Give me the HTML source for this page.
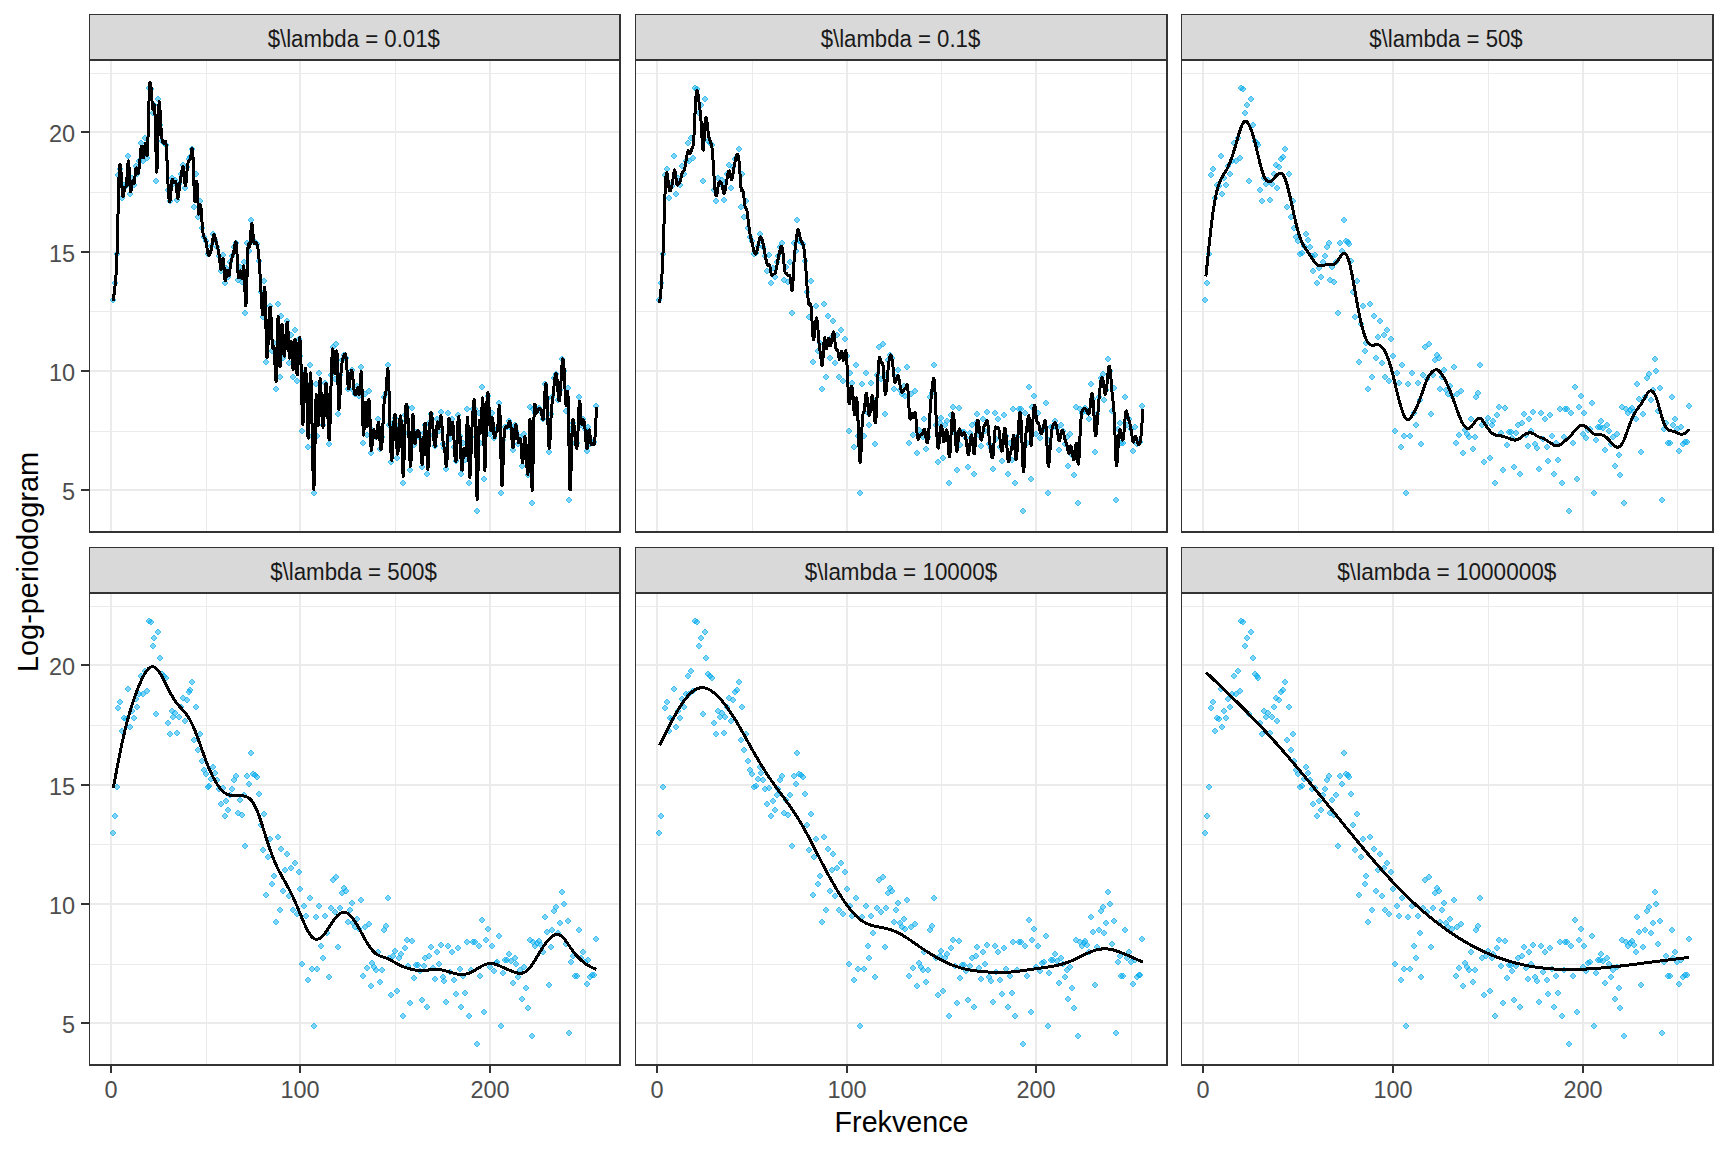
<!DOCTYPE html><html><head><meta charset="utf-8"><style>html,body{margin:0;padding:0;background:#fff;overflow:hidden}svg{display:block}text{font-family:"Liberation Sans",sans-serif}</style></head><body>
<svg width="1728" height="1152" viewBox="0 0 1728 1152" shape-rendering="crispEdges">
<defs>
<g id="d"><path d="M-1 -3H1V-2H2V-1H3V1H2V2H1V3H-1V2H-2V1H-3V-1H-2V-2H-1Z" fill="#00AAEE" fill-opacity="0.5"/><path d="M-1 -3H1V-2H2V-1H3V1H2V2H1V3H-1V2H-2V1H-3V-1H-2V-2H-1ZM-1 -2H1V-1H2V1H1V2H-1V1H-2V-1H-1Z" fill-rule="evenodd" fill="#00AAEE" fill-opacity="0.5"/></g>
<clipPath id="cp0"><rect x="90" y="61" width="529" height="470"/></clipPath>
<clipPath id="cp1"><rect x="636" y="61" width="530" height="470"/></clipPath>
<clipPath id="cp2"><rect x="1182" y="61" width="530" height="470"/></clipPath>
<clipPath id="cp3"><rect x="90" y="594" width="529" height="470"/></clipPath>
<clipPath id="cp4"><rect x="636" y="594" width="530" height="470"/></clipPath>
<clipPath id="cp5"><rect x="1182" y="594" width="530" height="470"/></clipPath>
</defs>
<rect x="0" y="0" width="1728" height="1152" fill="#fff"/>
<rect x="90" y="431" width="529" height="1" fill="#EBEBEB"/>
<rect x="90" y="311" width="529" height="1" fill="#EBEBEB"/>
<rect x="90" y="192" width="529" height="1" fill="#EBEBEB"/>
<rect x="90" y="73" width="529" height="1" fill="#EBEBEB"/>
<rect x="206" y="61" width="1" height="470" fill="#EBEBEB"/>
<rect x="395" y="61" width="1" height="470" fill="#EBEBEB"/>
<rect x="585" y="61" width="1" height="470" fill="#EBEBEB"/>
<rect x="90" y="489" width="529" height="2" fill="#EBEBEB"/>
<rect x="90" y="370" width="529" height="2" fill="#EBEBEB"/>
<rect x="90" y="251" width="529" height="2" fill="#EBEBEB"/>
<rect x="90" y="131" width="529" height="2" fill="#EBEBEB"/>
<rect x="110" y="61" width="2" height="470" fill="#EBEBEB"/>
<rect x="299" y="61" width="2" height="470" fill="#EBEBEB"/>
<rect x="489" y="61" width="2" height="470" fill="#EBEBEB"/>
<g clip-path="url(#cp0)">
<use href="#d" x="113" y="300"/>
<use href="#d" x="115" y="283"/>
<use href="#d" x="117" y="254"/>
<use href="#d" x="118" y="175"/>
<use href="#d" x="120" y="169"/>
<use href="#d" x="122" y="198"/>
<use href="#d" x="124" y="185"/>
<use href="#d" x="126" y="186"/>
<use href="#d" x="128" y="156"/>
<use href="#d" x="130" y="194"/>
<use href="#d" x="132" y="178"/>
<use href="#d" x="134" y="185"/>
<use href="#d" x="136" y="166"/>
<use href="#d" x="137" y="174"/>
<use href="#d" x="139" y="161"/>
<use href="#d" x="141" y="143"/>
<use href="#d" x="143" y="161"/>
<use href="#d" x="145" y="138"/>
<use href="#d" x="147" y="158"/>
<use href="#d" x="149" y="88"/>
<use href="#d" x="151" y="89"/>
<use href="#d" x="153" y="113"/>
<use href="#d" x="154" y="105"/>
<use href="#d" x="156" y="181"/>
<use href="#d" x="158" y="99"/>
<use href="#d" x="160" y="125"/>
<use href="#d" x="162" y="141"/>
<use href="#d" x="164" y="143"/>
<use href="#d" x="166" y="145"/>
<use href="#d" x="168" y="190"/>
<use href="#d" x="170" y="201"/>
<use href="#d" x="172" y="178"/>
<use href="#d" x="173" y="184"/>
<use href="#d" x="175" y="180"/>
<use href="#d" x="177" y="200"/>
<use href="#d" x="179" y="184"/>
<use href="#d" x="181" y="174"/>
<use href="#d" x="183" y="165"/>
<use href="#d" x="185" y="188"/>
<use href="#d" x="187" y="167"/>
<use href="#d" x="189" y="159"/>
<use href="#d" x="190" y="157"/>
<use href="#d" x="192" y="149"/>
<use href="#d" x="194" y="207"/>
<use href="#d" x="196" y="174"/>
<use href="#d" x="198" y="217"/>
<use href="#d" x="200" y="201"/>
<use href="#d" x="202" y="228"/>
<use href="#d" x="204" y="237"/>
<use href="#d" x="206" y="241"/>
<use href="#d" x="208" y="254"/>
<use href="#d" x="209" y="253"/>
<use href="#d" x="211" y="246"/>
<use href="#d" x="213" y="234"/>
<use href="#d" x="215" y="240"/>
<use href="#d" x="217" y="247"/>
<use href="#d" x="219" y="256"/>
<use href="#d" x="221" y="271"/>
<use href="#d" x="223" y="255"/>
<use href="#d" x="225" y="283"/>
<use href="#d" x="226" y="268"/>
<use href="#d" x="228" y="277"/>
<use href="#d" x="230" y="262"/>
<use href="#d" x="232" y="256"/>
<use href="#d" x="234" y="247"/>
<use href="#d" x="236" y="243"/>
<use href="#d" x="238" y="280"/>
<use href="#d" x="240" y="267"/>
<use href="#d" x="242" y="282"/>
<use href="#d" x="244" y="262"/>
<use href="#d" x="245" y="313"/>
<use href="#d" x="247" y="243"/>
<use href="#d" x="249" y="251"/>
<use href="#d" x="251" y="220"/>
<use href="#d" x="253" y="241"/>
<use href="#d" x="255" y="242"/>
<use href="#d" x="257" y="244"/>
<use href="#d" x="259" y="261"/>
<use href="#d" x="261" y="292"/>
<use href="#d" x="263" y="317"/>
<use href="#d" x="264" y="281"/>
<use href="#d" x="266" y="362"/>
<use href="#d" x="268" y="324"/>
<use href="#d" x="270" y="306"/>
<use href="#d" x="272" y="351"/>
<use href="#d" x="274" y="343"/>
<use href="#d" x="276" y="389"/>
<use href="#d" x="278" y="304"/>
<use href="#d" x="280" y="377"/>
<use href="#d" x="281" y="316"/>
<use href="#d" x="283" y="358"/>
<use href="#d" x="285" y="337"/>
<use href="#d" x="287" y="321"/>
<use href="#d" x="289" y="363"/>
<use href="#d" x="291" y="335"/>
<use href="#d" x="293" y="377"/>
<use href="#d" x="295" y="330"/>
<use href="#d" x="297" y="381"/>
<use href="#d" x="299" y="339"/>
<use href="#d" x="300" y="356"/>
<use href="#d" x="302" y="431"/>
<use href="#d" x="304" y="373"/>
<use href="#d" x="306" y="383"/>
<use href="#d" x="308" y="447"/>
<use href="#d" x="310" y="365"/>
<use href="#d" x="312" y="436"/>
<use href="#d" x="314" y="493"/>
<use href="#d" x="316" y="384"/>
<use href="#d" x="317" y="436"/>
<use href="#d" x="319" y="373"/>
<use href="#d" x="321" y="413"/>
<use href="#d" x="323" y="425"/>
<use href="#d" x="325" y="383"/>
<use href="#d" x="327" y="400"/>
<use href="#d" x="329" y="444"/>
<use href="#d" x="331" y="375"/>
<use href="#d" x="333" y="347"/>
<use href="#d" x="335" y="379"/>
<use href="#d" x="336" y="344"/>
<use href="#d" x="338" y="414"/>
<use href="#d" x="340" y="375"/>
<use href="#d" x="342" y="360"/>
<use href="#d" x="344" y="355"/>
<use href="#d" x="346" y="358"/>
<use href="#d" x="348" y="389"/>
<use href="#d" x="350" y="377"/>
<use href="#d" x="352" y="370"/>
<use href="#d" x="353" y="390"/>
<use href="#d" x="355" y="394"/>
<use href="#d" x="357" y="386"/>
<use href="#d" x="359" y="396"/>
<use href="#d" x="361" y="367"/>
<use href="#d" x="363" y="443"/>
<use href="#d" x="365" y="394"/>
<use href="#d" x="367" y="435"/>
<use href="#d" x="369" y="391"/>
<use href="#d" x="371" y="453"/>
<use href="#d" x="372" y="430"/>
<use href="#d" x="374" y="434"/>
<use href="#d" x="376" y="437"/>
<use href="#d" x="378" y="419"/>
<use href="#d" x="380" y="449"/>
<use href="#d" x="382" y="437"/>
<use href="#d" x="384" y="397"/>
<use href="#d" x="386" y="393"/>
<use href="#d" x="388" y="365"/>
<use href="#d" x="389" y="425"/>
<use href="#d" x="391" y="462"/>
<use href="#d" x="393" y="423"/>
<use href="#d" x="395" y="418"/>
<use href="#d" x="397" y="458"/>
<use href="#d" x="399" y="425"/>
<use href="#d" x="401" y="421"/>
<use href="#d" x="403" y="483"/>
<use href="#d" x="405" y="415"/>
<use href="#d" x="407" y="407"/>
<use href="#d" x="408" y="433"/>
<use href="#d" x="410" y="470"/>
<use href="#d" x="412" y="408"/>
<use href="#d" x="414" y="445"/>
<use href="#d" x="416" y="432"/>
<use href="#d" x="418" y="432"/>
<use href="#d" x="420" y="438"/>
<use href="#d" x="422" y="467"/>
<use href="#d" x="424" y="433"/>
<use href="#d" x="425" y="425"/>
<use href="#d" x="427" y="474"/>
<use href="#d" x="429" y="423"/>
<use href="#d" x="431" y="414"/>
<use href="#d" x="433" y="435"/>
<use href="#d" x="435" y="446"/>
<use href="#d" x="437" y="419"/>
<use href="#d" x="439" y="431"/>
<use href="#d" x="441" y="412"/>
<use href="#d" x="443" y="444"/>
<use href="#d" x="444" y="448"/>
<use href="#d" x="446" y="469"/>
<use href="#d" x="448" y="413"/>
<use href="#d" x="450" y="439"/>
<use href="#d" x="452" y="419"/>
<use href="#d" x="454" y="447"/>
<use href="#d" x="456" y="461"/>
<use href="#d" x="458" y="415"/>
<use href="#d" x="460" y="436"/>
<use href="#d" x="461" y="474"/>
<use href="#d" x="463" y="443"/>
<use href="#d" x="465" y="460"/>
<use href="#d" x="467" y="409"/>
<use href="#d" x="469" y="483"/>
<use href="#d" x="471" y="437"/>
<use href="#d" x="473" y="409"/>
<use href="#d" x="475" y="409"/>
<use href="#d" x="477" y="511"/>
<use href="#d" x="479" y="413"/>
<use href="#d" x="480" y="443"/>
<use href="#d" x="482" y="387"/>
<use href="#d" x="484" y="479"/>
<use href="#d" x="486" y="407"/>
<use href="#d" x="488" y="396"/>
<use href="#d" x="490" y="434"/>
<use href="#d" x="492" y="413"/>
<use href="#d" x="494" y="438"/>
<use href="#d" x="496" y="430"/>
<use href="#d" x="497" y="429"/>
<use href="#d" x="499" y="403"/>
<use href="#d" x="501" y="493"/>
<use href="#d" x="503" y="440"/>
<use href="#d" x="505" y="427"/>
<use href="#d" x="507" y="427"/>
<use href="#d" x="509" y="421"/>
<use href="#d" x="511" y="428"/>
<use href="#d" x="513" y="450"/>
<use href="#d" x="515" y="425"/>
<use href="#d" x="516" y="431"/>
<use href="#d" x="518" y="444"/>
<use href="#d" x="520" y="437"/>
<use href="#d" x="522" y="466"/>
<use href="#d" x="524" y="434"/>
<use href="#d" x="526" y="455"/>
<use href="#d" x="528" y="475"/>
<use href="#d" x="530" y="407"/>
<use href="#d" x="532" y="503"/>
<use href="#d" x="533" y="409"/>
<use href="#d" x="535" y="413"/>
<use href="#d" x="537" y="410"/>
<use href="#d" x="539" y="408"/>
<use href="#d" x="541" y="412"/>
<use href="#d" x="543" y="419"/>
<use href="#d" x="545" y="384"/>
<use href="#d" x="547" y="399"/>
<use href="#d" x="549" y="452"/>
<use href="#d" x="551" y="414"/>
<use href="#d" x="552" y="397"/>
<use href="#d" x="554" y="378"/>
<use href="#d" x="556" y="374"/>
<use href="#d" x="558" y="400"/>
<use href="#d" x="560" y="390"/>
<use href="#d" x="562" y="359"/>
<use href="#d" x="564" y="371"/>
<use href="#d" x="566" y="411"/>
<use href="#d" x="568" y="388"/>
<use href="#d" x="569" y="500"/>
<use href="#d" x="571" y="429"/>
<use href="#d" x="573" y="423"/>
<use href="#d" x="575" y="443"/>
<use href="#d" x="577" y="443"/>
<use href="#d" x="579" y="397"/>
<use href="#d" x="581" y="425"/>
<use href="#d" x="583" y="419"/>
<use href="#d" x="585" y="429"/>
<use href="#d" x="587" y="451"/>
<use href="#d" x="588" y="427"/>
<use href="#d" x="590" y="444"/>
<use href="#d" x="592" y="442"/>
<use href="#d" x="594" y="442"/>
<use href="#d" x="596" y="406"/>
<path d="M113.30 300.60L113.78 296.55L114.26 292.46L114.74 288.28L115.23 283.97L115.71 279.20L116.19 272.73L116.68 263.16L117.16 249.07L117.64 230.24L118.13 209.48L118.61 190.04L119.09 175.18L119.58 166.82L120.06 164.20L120.54 166.22L121.03 171.80L121.51 179.54L121.99 187.54L122.48 193.86L122.96 196.60L123.44 195.44L123.93 192.17L124.41 188.72L124.89 186.96L125.38 187.02L125.86 187.12L126.34 185.42L126.83 180.19L127.31 172.27L127.79 164.75L128.27 160.80L128.76 163.28L129.24 171.27L129.72 181.12L130.21 189.10L130.69 191.86L131.17 189.83L131.66 185.60L132.14 181.77L132.62 180.64L133.11 181.69L133.59 183.16L134.07 183.27L134.56 180.59L135.04 176.02L135.52 171.29L136.01 168.13L136.49 167.84L136.97 169.58L137.46 171.90L137.94 173.33L138.42 172.73L138.91 170.20L139.39 166.09L139.87 160.81L140.36 154.92L140.84 149.63L141.32 146.24L141.81 146.06L142.29 149.39L142.77 154.11L143.25 157.74L143.74 157.84L144.22 153.69L144.70 147.92L145.19 143.55L145.67 143.53L146.15 148.14L146.64 153.43L147.12 155.13L147.60 149.04L148.09 134.75L148.57 116.62L149.05 99.30L149.54 87.34L150.02 82.30L150.50 82.72L150.99 86.97L151.47 93.45L151.95 100.53L152.44 106.53L152.92 109.80L153.40 108.93L153.89 105.83L154.37 104.64L154.85 109.54L155.34 123.97L155.82 144.27L156.30 162.88L156.79 172.19L157.27 165.97L157.75 147.85L158.23 125.90L158.72 108.18L159.20 101.36L159.68 104.18L160.17 112.54L160.65 122.36L161.13 130.22L161.62 135.74L162.10 139.39L162.58 141.65L163.07 142.91L163.55 143.35L164.03 143.11L164.52 142.31L165.00 141.34L165.48 141.31L165.97 143.48L166.45 149.07L166.93 158.43L167.42 169.89L167.90 181.48L168.38 191.26L168.87 197.92L169.35 201.38L169.83 201.67L170.32 198.82L170.80 193.52L171.28 187.38L171.77 182.10L172.25 179.31L172.73 179.33L173.21 180.85L173.70 182.47L174.18 182.85L174.66 181.95L175.15 181.03L175.63 181.38L176.11 184.19L176.60 189.02L177.08 194.13L177.56 197.72L178.05 198.18L178.53 195.64L179.01 191.38L179.50 186.68L179.98 182.73L180.46 179.61L180.95 176.86L181.43 174.02L181.91 170.75L182.40 167.76L182.88 166.18L183.36 167.15L183.85 171.38L184.33 177.40L184.81 182.98L185.30 185.92L185.78 184.61L186.26 180.10L186.75 174.15L187.23 168.48L187.71 164.44L188.19 161.92L188.68 160.54L189.16 159.90L189.64 159.57L190.13 158.99L190.61 157.59L191.09 154.80L191.58 150.95L192.06 148.32L192.54 149.43L193.03 156.77L193.51 170.29L193.99 185.52L194.48 197.56L194.96 201.60L195.44 196.91L195.93 188.43L196.41 181.56L196.89 181.51L197.38 189.09L197.86 200.03L198.34 209.81L198.83 214.09L199.31 212.48L199.79 208.26L200.28 204.84L200.76 205.41L201.24 210.23L201.73 217.31L202.21 224.65L202.69 230.34L203.17 233.99L203.66 236.14L204.14 237.35L204.62 238.13L205.11 238.90L205.59 240.01L206.07 241.83L206.56 244.59L207.04 247.92L207.52 251.17L208.01 253.72L208.49 255.06L208.97 255.29L209.46 254.73L209.94 253.70L210.42 252.43L210.91 250.85L211.39 248.78L211.87 246.07L212.36 242.72L212.84 239.29L213.32 236.46L213.81 234.90L214.29 234.96L214.77 236.23L215.26 238.20L215.74 240.33L216.22 242.27L216.71 244.08L217.19 245.84L217.67 247.63L218.15 249.62L218.64 252.03L219.12 255.12L219.60 259.13L220.09 263.67L220.57 267.55L221.05 269.50L221.54 268.33L222.02 264.53L222.50 260.38L222.99 258.25L223.47 260.37L223.95 266.37L224.44 273.58L224.92 279.24L225.40 280.81L225.89 278.51L226.37 274.56L226.85 271.21L227.34 270.49L227.82 272.10L228.30 274.41L228.79 275.77L229.27 274.73L229.75 271.60L230.24 267.50L230.72 263.52L231.20 260.63L231.69 258.72L232.17 257.32L232.65 255.96L233.13 254.23L233.62 252.08L234.10 249.56L234.58 246.71L235.07 243.81L235.55 241.93L236.03 242.34L236.52 246.31L237.00 254.24L237.48 263.90L237.97 272.59L238.45 277.63L238.93 277.72L239.42 274.92L239.90 271.78L240.38 270.85L240.87 273.09L241.35 276.50L241.83 278.71L242.32 277.41L242.80 272.53L243.28 267.49L243.77 266.02L244.25 271.71L244.73 284.06L245.22 297.40L245.70 305.69L246.18 303.16L246.67 289.83L247.15 271.66L247.63 254.87L248.11 245.38L248.60 243.66L249.08 245.68L249.56 247.26L250.05 244.55L250.53 237.79L251.01 230.05L251.50 224.42L251.98 223.66L252.46 227.31L252.95 233.13L253.43 238.85L253.91 242.49L254.40 243.94L254.88 243.98L255.36 243.39L255.85 242.87L256.33 242.77L256.81 243.33L257.30 244.79L257.78 247.34L258.26 251.02L258.75 255.82L259.23 261.76L259.71 268.78L260.20 276.73L260.68 285.44L261.16 294.72L261.65 303.95L262.13 311.25L262.61 314.52L263.09 311.67L263.58 302.77L264.06 292.74L264.54 287.19L265.03 291.66L265.51 307.51L265.99 328.50L266.48 347.55L266.96 357.69L267.44 356.26L267.93 346.94L268.41 333.95L268.89 321.43L269.38 312.10L269.86 306.99L270.34 306.98L270.83 312.90L271.31 323.43L271.79 335.16L272.28 344.61L272.76 348.55L273.24 347.75L273.73 346.14L274.21 347.74L274.69 356.07L275.18 368.68L275.66 379.30L276.14 381.56L276.63 370.19L277.11 349.40L277.59 328.33L278.07 316.18L278.56 320.38L279.04 336.50L279.52 355.07L280.01 366.62L280.49 363.80L280.97 350.63L281.46 334.97L281.94 324.64L282.42 325.41L282.91 334.22L283.39 345.64L283.87 354.27L284.36 356.19L284.84 352.49L285.32 345.35L285.81 336.90L286.29 329.17L286.77 323.76L287.26 322.22L287.74 326.11L288.22 335.34L288.71 346.39L289.19 355.29L289.67 358.11L290.16 353.89L290.64 346.84L291.12 341.69L291.61 343.05L292.09 351.56L292.57 362.24L293.05 369.71L293.54 368.78L294.02 359.39L294.50 347.38L294.99 338.90L295.47 339.79L295.95 349.78L296.44 362.95L296.92 373.15L297.40 374.65L297.89 367.48L298.37 356.03L298.85 344.82L299.34 338.09L299.82 337.59L300.30 343.47L300.79 355.89L301.27 374.58L301.75 395.82L302.24 414.19L302.72 424.27L303.20 421.73L303.69 409.40L304.17 392.93L304.65 378.01L305.14 369.50L305.62 368.37L306.10 374.30L306.59 386.99L307.07 405.19L307.55 423.81L308.03 436.79L308.52 438.09L309.00 424.76L309.48 403.62L309.97 383.42L310.45 372.90L310.93 377.38L311.42 393.56L311.90 416.81L312.38 442.48L312.87 466.02L313.35 483.07L313.83 489.28L314.32 480.37L314.80 457.11L315.28 428.51L315.77 404.35L316.25 394.22L316.73 399.94L317.22 413.10L317.70 424.56L318.18 425.46L318.67 414.45L319.15 398.28L319.63 384.10L320.12 378.75L320.60 383.37L321.08 394.06L321.56 406.78L322.05 417.62L322.53 424.62L323.01 427.29L323.50 425.12L323.98 417.84L324.46 407.14L324.95 395.89L325.43 386.98L325.91 383.00L326.40 384.38L326.88 390.51L327.36 400.78L327.85 414.24L328.33 427.82L328.81 437.68L329.30 439.95L329.78 431.90L330.26 416.10L330.75 396.70L331.23 377.85L331.71 363.05L332.20 353.28L332.68 348.97L333.16 350.52L333.65 357.38L334.13 366.12L334.61 372.77L335.10 373.38L335.58 366.58L336.06 357.20L336.54 350.95L337.03 353.53L337.51 366.71L337.99 384.77L338.48 401.14L338.96 409.33L339.44 406.85L339.93 397.44L340.41 385.38L340.89 374.88L341.38 367.93L341.86 363.68L342.34 361.14L342.83 359.32L343.31 357.70L343.79 356.29L344.28 355.09L344.76 354.14L345.24 353.87L345.73 355.03L346.21 358.38L346.69 364.57L347.18 372.67L347.66 380.72L348.14 386.72L348.63 388.89L349.11 387.46L349.59 383.79L350.08 379.21L350.56 375.01L351.04 371.92L351.52 370.46L352.01 371.11L352.49 374.20L352.97 378.99L353.46 384.36L353.94 389.19L354.42 392.56L354.91 394.35L355.39 394.68L355.87 393.68L356.36 391.63L356.84 389.41L357.32 388.01L357.81 388.44L358.29 390.96L358.77 393.70L359.26 394.45L359.74 390.99L360.22 383.08L360.71 374.96L361.19 371.44L361.67 377.34L362.16 393.44L362.64 413.27L363.12 429.60L363.61 435.29L364.09 428.71L364.57 416.33L365.06 405.27L365.54 402.48L366.02 409.09L366.50 419.35L366.99 427.07L367.47 426.33L367.95 417.32L368.44 406.14L368.92 399.14L369.40 402.23L369.89 414.78L370.37 430.90L370.85 444.60L371.34 450.33L371.82 448.14L372.30 441.70L372.79 434.71L373.27 430.56L373.75 429.70L374.24 431.05L374.72 433.50L375.20 436.01L375.69 437.76L376.17 438.09L376.65 436.28L377.14 432.00L377.62 426.79L378.10 422.82L378.59 422.25L379.07 426.51L379.55 433.89L380.04 441.87L380.52 447.90L381.00 450.06L381.48 448.38L381.97 443.35L382.45 435.42L382.93 425.37L383.42 414.82L383.90 405.48L384.38 399.09L384.87 396.21L385.35 394.94L385.83 393.06L386.32 388.37L386.80 380.61L387.28 372.89L387.77 368.68L388.25 371.35L388.73 381.77L389.22 397.27L389.70 414.95L390.18 431.89L390.67 445.95L391.15 455.85L391.63 460.32L392.12 458.23L392.60 450.42L393.08 439.60L393.57 428.55L394.05 419.94L394.53 415.13L395.02 414.46L395.50 418.25L395.98 426.63L396.46 437.61L396.95 447.91L397.43 454.25L397.91 453.79L398.40 447.41L398.88 437.84L399.36 427.81L399.85 419.92L400.33 415.88L400.81 417.02L401.30 424.69L401.78 439.31L402.26 456.65L402.75 471.00L403.23 476.66L403.71 469.81L404.20 454.15L404.68 435.22L405.16 418.61L405.65 408.40L406.13 404.06L406.61 404.10L407.10 407.08L407.58 411.93L408.06 418.68L408.55 427.50L409.03 438.56L409.51 450.91L410.00 461.33L410.48 466.35L410.96 462.53L411.44 449.79L411.93 433.54L412.41 419.70L412.89 414.09L413.38 418.14L413.86 427.48L414.34 437.34L414.83 443.06L415.31 443.24L415.79 440.00L416.28 435.62L416.76 432.32L417.24 430.83L417.73 430.61L418.21 431.04L418.69 431.61L419.18 432.55L419.66 434.70L420.14 438.87L420.63 445.71L421.11 453.90L421.59 460.96L422.08 464.44L422.56 462.22L423.04 455.20L423.53 445.65L424.01 435.84L424.49 427.94L424.98 423.34L425.46 423.14L425.94 428.46L426.42 439.61L426.91 453.17L427.39 464.61L427.87 469.38L428.36 464.50L428.84 452.75L429.32 438.33L429.81 425.39L430.29 417.02L430.77 413.03L431.26 412.62L431.74 414.99L432.22 419.36L432.71 425.00L433.19 431.18L433.67 437.19L434.16 442.24L434.64 445.50L435.12 446.10L435.61 443.21L436.09 437.16L436.57 430.07L437.06 424.23L437.54 421.88L438.02 423.27L438.51 426.17L438.99 428.20L439.47 427.05L439.96 422.83L440.44 418.05L440.92 415.35L441.40 417.21L441.89 423.44L442.37 431.64L442.85 439.32L443.34 444.20L443.82 446.45L444.30 447.93L444.79 450.51L445.27 455.74L445.75 462.14L446.24 466.50L446.72 465.63L447.20 457.01L447.69 443.22L448.17 429.11L448.65 419.53L449.14 418.29L449.62 423.25L450.10 430.17L450.59 434.82L451.07 434.05L451.55 429.60L452.04 424.63L452.52 422.28L453.00 424.76L453.49 431.08L453.97 439.51L454.45 448.33L454.94 455.88L455.42 460.79L455.90 461.68L456.38 457.20L456.87 447.35L457.35 435.12L457.83 423.92L458.32 417.16L458.80 416.66L459.28 421.38L459.77 429.99L460.25 441.14L460.73 453.09L461.22 463.49L461.70 469.93L462.18 470.09L462.67 464.37L463.15 456.33L463.63 449.78L464.12 448.30L464.60 451.60L465.08 455.56L465.57 455.91L466.05 448.74L466.53 435.76L467.02 423.17L467.50 417.28L467.98 423.74L468.47 440.30L468.95 459.65L469.43 474.37L469.92 477.89L470.40 470.86L470.88 457.74L471.36 442.99L471.85 430.61L472.33 421.15L472.81 413.70L473.30 407.38L473.78 401.79L474.26 399.26L474.75 403.01L475.23 416.27L475.71 440.34L476.20 468.29L476.68 490.99L477.16 499.35L477.65 488.08L478.13 464.74L478.61 439.61L479.10 422.93L479.58 420.55L480.06 426.59L480.55 433.22L481.03 432.65L481.51 421.75L482.00 407.39L482.48 397.71L482.96 400.77L483.45 418.55L483.93 442.44L484.41 462.83L484.90 470.24L485.38 461.73L485.86 443.51L486.34 422.48L486.83 405.39L487.31 395.56L487.79 392.31L488.28 394.78L488.76 402.05L489.24 412.16L489.73 422.19L490.21 429.19L490.69 430.47L491.18 426.72L491.66 421.24L492.14 417.39L492.63 418.21L493.11 423.24L493.59 429.88L494.08 435.51L494.56 437.80L495.04 437.04L495.53 434.80L496.01 432.65L496.49 431.83L496.98 431.52L497.46 430.04L497.94 425.72L498.43 417.72L498.91 409.42L499.39 405.56L499.88 410.85L500.36 427.95L500.84 451.27L501.32 473.11L501.81 485.81L502.29 484.50L502.77 473.11L503.26 457.35L503.74 442.92L504.22 433.67L504.71 428.87L505.19 427.08L505.67 426.85L506.16 427.06L506.64 427.31L507.12 427.24L507.61 426.52L508.09 425.12L508.57 423.48L509.06 422.09L509.54 421.43L510.02 421.90L510.51 423.74L510.99 427.22L511.47 432.55L511.96 438.98L512.44 444.72L512.92 447.91L513.41 446.84L513.89 441.84L514.37 435.11L514.85 428.90L515.34 425.32L515.82 424.82L516.30 426.65L516.79 430.01L517.27 434.11L517.75 438.17L518.24 441.35L518.72 442.84L519.20 442.06L519.69 440.10L520.17 438.87L520.65 440.29L521.14 445.72L521.62 453.31L522.10 459.95L522.59 462.57L523.07 458.96L523.55 451.25L524.04 442.82L524.52 437.08L525.00 436.58L525.49 440.71L525.97 448.09L526.45 457.38L526.94 466.83L527.42 473.58L527.90 474.56L528.39 466.71L528.87 449.98L529.35 431.42L529.83 419.15L530.32 421.22L530.80 439.60L531.28 464.64L531.77 485.33L532.25 490.82L532.73 477.67L533.22 453.98L533.70 428.83L534.18 411.16L534.67 404.37L535.15 404.92L535.63 408.81L536.12 412.14L536.60 413.26L537.08 412.82L537.57 411.55L538.05 410.18L538.53 409.10L539.02 408.37L539.50 408.07L539.98 408.27L540.47 409.06L540.95 410.53L541.43 412.78L541.92 415.79L542.40 418.64L542.88 419.88L543.37 418.06L543.85 412.08L544.33 403.24L544.81 393.97L545.30 386.68L545.78 383.49L546.26 384.88L546.75 390.76L547.23 401.03L547.71 415.07L548.20 430.00L548.68 442.27L549.16 448.36L549.65 446.01L550.13 437.59L550.61 426.45L551.10 415.98L551.58 408.50L552.06 403.37L552.55 399.45L553.03 395.60L553.51 391.12L554.00 386.31L554.48 381.63L554.96 377.51L555.45 374.46L555.93 373.05L556.41 373.87L556.90 377.48L557.38 383.59L557.86 390.58L558.35 396.74L558.83 400.40L559.31 400.79L559.79 398.23L560.28 393.10L560.76 385.80L561.24 377.28L561.73 368.99L562.21 362.39L562.69 358.91L563.18 359.10L563.66 362.85L564.14 370.02L564.63 380.33L565.11 391.79L565.59 401.29L566.08 405.73L566.56 402.66L567.04 395.59L567.53 391.17L568.01 396.02L568.49 415.31L568.98 443.73L569.46 471.65L569.94 489.39L570.43 489.41L570.91 475.48L571.39 455.15L571.88 435.99L572.36 424.09L572.84 419.20L573.33 419.45L573.81 422.93L574.29 427.98L574.77 433.70L575.26 439.37L575.74 444.26L576.22 447.58L576.71 448.38L577.19 445.69L577.67 438.54L578.16 427.27L578.64 414.97L579.12 405.09L579.61 401.06L580.09 403.97L580.57 410.88L581.06 418.46L581.54 423.43L582.02 424.50L582.51 423.15L582.99 421.09L583.47 419.99L583.96 420.74L584.44 423.32L584.92 427.68L585.41 433.71L585.89 440.44L586.37 446.12L586.86 448.95L587.34 447.29L587.82 441.96L588.31 435.56L588.79 430.76L589.27 429.97L589.75 432.90L590.24 437.56L590.72 441.97L591.20 444.36L591.69 444.80L592.17 444.28L592.65 443.79L593.14 444.11L593.62 444.63L594.10 444.17L594.59 441.58L595.07 435.94L595.55 427.70L596.04 417.72L596.52 406.88" fill="none" stroke="#000" stroke-width="3" stroke-linejoin="round" stroke-linecap="butt"/>
</g>
<rect x="89" y="14" width="1" height="519" fill="#333333"/>
<rect x="619" y="14" width="2" height="519" fill="#333333"/>
<rect x="89" y="14" width="532" height="1" fill="#333333"/>
<rect x="89" y="59" width="532" height="2" fill="#333333"/>
<rect x="89" y="531" width="532" height="2" fill="#333333"/>
<rect x="90" y="15" width="529" height="44" fill="#D9D9D9"/>
<text transform="translate(353.80,46.8) scale(0.947,1)" x="0" y="0" text-anchor="middle" font-size="23.47" fill="#1A1A1A">$\lambda = 0.01$</text>
<rect x="636" y="431" width="530" height="1" fill="#EBEBEB"/>
<rect x="636" y="311" width="530" height="1" fill="#EBEBEB"/>
<rect x="636" y="192" width="530" height="1" fill="#EBEBEB"/>
<rect x="636" y="73" width="530" height="1" fill="#EBEBEB"/>
<rect x="752" y="61" width="1" height="470" fill="#EBEBEB"/>
<rect x="941" y="61" width="1" height="470" fill="#EBEBEB"/>
<rect x="1131" y="61" width="1" height="470" fill="#EBEBEB"/>
<rect x="636" y="489" width="530" height="2" fill="#EBEBEB"/>
<rect x="636" y="370" width="530" height="2" fill="#EBEBEB"/>
<rect x="636" y="251" width="530" height="2" fill="#EBEBEB"/>
<rect x="636" y="131" width="530" height="2" fill="#EBEBEB"/>
<rect x="656" y="61" width="2" height="470" fill="#EBEBEB"/>
<rect x="846" y="61" width="2" height="470" fill="#EBEBEB"/>
<rect x="1035" y="61" width="2" height="470" fill="#EBEBEB"/>
<g clip-path="url(#cp1)">
<use href="#d" x="659" y="300"/>
<use href="#d" x="661" y="283"/>
<use href="#d" x="663" y="254"/>
<use href="#d" x="665" y="175"/>
<use href="#d" x="667" y="169"/>
<use href="#d" x="669" y="198"/>
<use href="#d" x="670" y="185"/>
<use href="#d" x="672" y="186"/>
<use href="#d" x="674" y="156"/>
<use href="#d" x="676" y="194"/>
<use href="#d" x="678" y="178"/>
<use href="#d" x="680" y="185"/>
<use href="#d" x="682" y="166"/>
<use href="#d" x="684" y="174"/>
<use href="#d" x="686" y="161"/>
<use href="#d" x="688" y="143"/>
<use href="#d" x="689" y="161"/>
<use href="#d" x="691" y="138"/>
<use href="#d" x="693" y="158"/>
<use href="#d" x="695" y="88"/>
<use href="#d" x="697" y="89"/>
<use href="#d" x="699" y="113"/>
<use href="#d" x="701" y="105"/>
<use href="#d" x="703" y="181"/>
<use href="#d" x="705" y="99"/>
<use href="#d" x="706" y="125"/>
<use href="#d" x="708" y="141"/>
<use href="#d" x="710" y="143"/>
<use href="#d" x="712" y="145"/>
<use href="#d" x="714" y="190"/>
<use href="#d" x="716" y="201"/>
<use href="#d" x="718" y="178"/>
<use href="#d" x="720" y="184"/>
<use href="#d" x="722" y="180"/>
<use href="#d" x="724" y="200"/>
<use href="#d" x="725" y="184"/>
<use href="#d" x="727" y="174"/>
<use href="#d" x="729" y="165"/>
<use href="#d" x="731" y="188"/>
<use href="#d" x="733" y="167"/>
<use href="#d" x="735" y="159"/>
<use href="#d" x="737" y="157"/>
<use href="#d" x="739" y="149"/>
<use href="#d" x="741" y="207"/>
<use href="#d" x="742" y="174"/>
<use href="#d" x="744" y="217"/>
<use href="#d" x="746" y="201"/>
<use href="#d" x="748" y="228"/>
<use href="#d" x="750" y="237"/>
<use href="#d" x="752" y="241"/>
<use href="#d" x="754" y="254"/>
<use href="#d" x="756" y="253"/>
<use href="#d" x="758" y="246"/>
<use href="#d" x="760" y="234"/>
<use href="#d" x="761" y="240"/>
<use href="#d" x="763" y="247"/>
<use href="#d" x="765" y="256"/>
<use href="#d" x="767" y="271"/>
<use href="#d" x="769" y="255"/>
<use href="#d" x="771" y="283"/>
<use href="#d" x="773" y="268"/>
<use href="#d" x="775" y="277"/>
<use href="#d" x="777" y="262"/>
<use href="#d" x="778" y="256"/>
<use href="#d" x="780" y="247"/>
<use href="#d" x="782" y="243"/>
<use href="#d" x="784" y="280"/>
<use href="#d" x="786" y="267"/>
<use href="#d" x="788" y="282"/>
<use href="#d" x="790" y="262"/>
<use href="#d" x="792" y="313"/>
<use href="#d" x="794" y="243"/>
<use href="#d" x="796" y="251"/>
<use href="#d" x="797" y="220"/>
<use href="#d" x="799" y="241"/>
<use href="#d" x="801" y="242"/>
<use href="#d" x="803" y="244"/>
<use href="#d" x="805" y="261"/>
<use href="#d" x="807" y="292"/>
<use href="#d" x="809" y="317"/>
<use href="#d" x="811" y="281"/>
<use href="#d" x="813" y="362"/>
<use href="#d" x="814" y="324"/>
<use href="#d" x="816" y="306"/>
<use href="#d" x="818" y="351"/>
<use href="#d" x="820" y="343"/>
<use href="#d" x="822" y="389"/>
<use href="#d" x="824" y="304"/>
<use href="#d" x="826" y="377"/>
<use href="#d" x="828" y="316"/>
<use href="#d" x="830" y="358"/>
<use href="#d" x="832" y="337"/>
<use href="#d" x="833" y="321"/>
<use href="#d" x="835" y="363"/>
<use href="#d" x="837" y="335"/>
<use href="#d" x="839" y="377"/>
<use href="#d" x="841" y="330"/>
<use href="#d" x="843" y="381"/>
<use href="#d" x="845" y="339"/>
<use href="#d" x="847" y="356"/>
<use href="#d" x="849" y="431"/>
<use href="#d" x="850" y="373"/>
<use href="#d" x="852" y="383"/>
<use href="#d" x="854" y="447"/>
<use href="#d" x="856" y="365"/>
<use href="#d" x="858" y="436"/>
<use href="#d" x="860" y="493"/>
<use href="#d" x="862" y="384"/>
<use href="#d" x="864" y="436"/>
<use href="#d" x="866" y="373"/>
<use href="#d" x="868" y="413"/>
<use href="#d" x="869" y="425"/>
<use href="#d" x="871" y="383"/>
<use href="#d" x="873" y="400"/>
<use href="#d" x="875" y="444"/>
<use href="#d" x="877" y="375"/>
<use href="#d" x="879" y="347"/>
<use href="#d" x="881" y="379"/>
<use href="#d" x="883" y="344"/>
<use href="#d" x="885" y="414"/>
<use href="#d" x="886" y="375"/>
<use href="#d" x="888" y="360"/>
<use href="#d" x="890" y="355"/>
<use href="#d" x="892" y="358"/>
<use href="#d" x="894" y="389"/>
<use href="#d" x="896" y="377"/>
<use href="#d" x="898" y="370"/>
<use href="#d" x="900" y="390"/>
<use href="#d" x="902" y="394"/>
<use href="#d" x="904" y="386"/>
<use href="#d" x="905" y="396"/>
<use href="#d" x="907" y="367"/>
<use href="#d" x="909" y="443"/>
<use href="#d" x="911" y="394"/>
<use href="#d" x="913" y="435"/>
<use href="#d" x="915" y="391"/>
<use href="#d" x="917" y="453"/>
<use href="#d" x="919" y="430"/>
<use href="#d" x="921" y="434"/>
<use href="#d" x="923" y="437"/>
<use href="#d" x="924" y="419"/>
<use href="#d" x="926" y="449"/>
<use href="#d" x="928" y="437"/>
<use href="#d" x="930" y="397"/>
<use href="#d" x="932" y="393"/>
<use href="#d" x="934" y="365"/>
<use href="#d" x="936" y="425"/>
<use href="#d" x="938" y="462"/>
<use href="#d" x="940" y="423"/>
<use href="#d" x="941" y="418"/>
<use href="#d" x="943" y="458"/>
<use href="#d" x="945" y="425"/>
<use href="#d" x="947" y="421"/>
<use href="#d" x="949" y="483"/>
<use href="#d" x="951" y="415"/>
<use href="#d" x="953" y="407"/>
<use href="#d" x="955" y="433"/>
<use href="#d" x="957" y="470"/>
<use href="#d" x="959" y="408"/>
<use href="#d" x="960" y="445"/>
<use href="#d" x="962" y="432"/>
<use href="#d" x="964" y="432"/>
<use href="#d" x="966" y="438"/>
<use href="#d" x="968" y="467"/>
<use href="#d" x="970" y="433"/>
<use href="#d" x="972" y="425"/>
<use href="#d" x="974" y="474"/>
<use href="#d" x="976" y="423"/>
<use href="#d" x="977" y="414"/>
<use href="#d" x="979" y="435"/>
<use href="#d" x="981" y="446"/>
<use href="#d" x="983" y="419"/>
<use href="#d" x="985" y="431"/>
<use href="#d" x="987" y="412"/>
<use href="#d" x="989" y="444"/>
<use href="#d" x="991" y="448"/>
<use href="#d" x="993" y="469"/>
<use href="#d" x="995" y="413"/>
<use href="#d" x="996" y="439"/>
<use href="#d" x="998" y="419"/>
<use href="#d" x="1000" y="447"/>
<use href="#d" x="1002" y="461"/>
<use href="#d" x="1004" y="415"/>
<use href="#d" x="1006" y="436"/>
<use href="#d" x="1008" y="474"/>
<use href="#d" x="1010" y="443"/>
<use href="#d" x="1012" y="460"/>
<use href="#d" x="1013" y="409"/>
<use href="#d" x="1015" y="483"/>
<use href="#d" x="1017" y="437"/>
<use href="#d" x="1019" y="409"/>
<use href="#d" x="1021" y="409"/>
<use href="#d" x="1023" y="511"/>
<use href="#d" x="1025" y="413"/>
<use href="#d" x="1027" y="443"/>
<use href="#d" x="1029" y="387"/>
<use href="#d" x="1031" y="479"/>
<use href="#d" x="1032" y="407"/>
<use href="#d" x="1034" y="396"/>
<use href="#d" x="1036" y="434"/>
<use href="#d" x="1038" y="413"/>
<use href="#d" x="1040" y="438"/>
<use href="#d" x="1042" y="430"/>
<use href="#d" x="1044" y="429"/>
<use href="#d" x="1046" y="403"/>
<use href="#d" x="1048" y="493"/>
<use href="#d" x="1049" y="440"/>
<use href="#d" x="1051" y="427"/>
<use href="#d" x="1053" y="427"/>
<use href="#d" x="1055" y="421"/>
<use href="#d" x="1057" y="428"/>
<use href="#d" x="1059" y="450"/>
<use href="#d" x="1061" y="425"/>
<use href="#d" x="1063" y="431"/>
<use href="#d" x="1065" y="444"/>
<use href="#d" x="1067" y="437"/>
<use href="#d" x="1068" y="466"/>
<use href="#d" x="1070" y="434"/>
<use href="#d" x="1072" y="455"/>
<use href="#d" x="1074" y="475"/>
<use href="#d" x="1076" y="407"/>
<use href="#d" x="1078" y="503"/>
<use href="#d" x="1080" y="409"/>
<use href="#d" x="1082" y="413"/>
<use href="#d" x="1084" y="410"/>
<use href="#d" x="1085" y="408"/>
<use href="#d" x="1087" y="412"/>
<use href="#d" x="1089" y="419"/>
<use href="#d" x="1091" y="384"/>
<use href="#d" x="1093" y="399"/>
<use href="#d" x="1095" y="452"/>
<use href="#d" x="1097" y="414"/>
<use href="#d" x="1099" y="397"/>
<use href="#d" x="1101" y="378"/>
<use href="#d" x="1103" y="374"/>
<use href="#d" x="1104" y="400"/>
<use href="#d" x="1106" y="390"/>
<use href="#d" x="1108" y="359"/>
<use href="#d" x="1110" y="371"/>
<use href="#d" x="1112" y="411"/>
<use href="#d" x="1114" y="388"/>
<use href="#d" x="1116" y="500"/>
<use href="#d" x="1118" y="429"/>
<use href="#d" x="1120" y="423"/>
<use href="#d" x="1121" y="443"/>
<use href="#d" x="1123" y="443"/>
<use href="#d" x="1125" y="397"/>
<use href="#d" x="1127" y="425"/>
<use href="#d" x="1129" y="419"/>
<use href="#d" x="1131" y="429"/>
<use href="#d" x="1133" y="451"/>
<use href="#d" x="1135" y="427"/>
<use href="#d" x="1137" y="444"/>
<use href="#d" x="1139" y="442"/>
<use href="#d" x="1140" y="442"/>
<use href="#d" x="1142" y="406"/>
<path d="M659.60 302.64L660.08 298.41L660.56 293.83L661.04 288.57L661.53 282.28L662.01 274.63L662.49 265.39L662.98 254.32L663.46 241.18L663.94 226.23L664.43 210.86L664.91 196.69L665.39 185.32L665.88 177.71L666.36 173.62L666.84 172.60L667.33 174.25L667.81 177.89L668.29 182.43L668.78 186.75L669.26 189.74L669.74 190.95L670.23 190.78L670.71 189.71L671.19 188.19L671.68 186.40L672.16 184.19L672.64 181.43L673.13 177.99L673.61 174.30L674.09 171.31L674.57 169.96L675.06 171.10L675.54 174.38L676.02 178.54L676.51 182.32L676.99 184.56L677.47 185.21L677.96 184.85L678.44 184.09L678.92 183.43L679.41 182.85L679.89 182.06L680.37 180.76L680.86 178.76L681.34 176.35L681.82 174.01L682.31 172.22L682.79 171.33L683.27 171.02L683.76 170.76L684.24 170.06L684.72 168.50L685.21 166.19L685.69 163.33L686.17 160.12L686.66 156.82L687.14 153.85L687.62 151.67L688.11 150.71L688.59 151.12L689.07 152.24L689.55 153.33L690.04 153.64L690.52 152.85L691.00 151.41L691.49 149.90L691.97 148.85L692.45 148.17L692.94 146.74L693.42 143.35L693.90 136.85L694.39 127.32L694.87 116.48L695.35 106.13L695.84 98.04L696.32 92.94L696.80 90.51L697.29 90.38L697.77 92.17L698.25 95.40L698.74 99.46L699.22 103.75L699.70 107.75L700.19 111.68L700.67 116.33L701.15 122.47L701.64 130.67L702.12 139.60L702.60 146.89L703.09 150.14L703.57 147.41L704.05 140.09L704.53 131.02L705.02 123.04L705.50 118.58L705.98 117.58L706.47 119.10L706.95 122.18L707.43 125.98L707.92 129.95L708.40 133.70L708.88 136.78L709.37 138.93L709.85 140.40L710.33 141.52L710.82 142.67L711.30 144.21L711.78 146.60L712.27 150.28L712.75 155.72L713.23 162.94L713.72 171.08L714.20 179.14L714.68 186.11L715.17 191.31L715.65 194.62L716.13 196.00L716.62 195.38L717.10 193.06L717.58 189.83L718.07 186.53L718.55 183.96L719.03 182.47L719.51 181.80L720.00 181.70L720.48 181.88L720.96 182.31L721.45 183.15L721.93 184.59L722.41 186.77L722.90 189.41L723.38 191.84L723.86 193.42L724.35 193.53L724.83 192.19L725.31 189.80L725.80 186.79L726.28 183.55L726.76 180.34L727.25 177.33L727.73 174.70L728.21 172.62L728.70 171.30L729.18 170.91L729.66 171.68L730.15 173.66L730.63 176.22L731.11 178.51L731.60 179.64L732.08 178.99L732.56 176.88L733.05 173.87L733.53 170.54L734.01 167.36L734.49 164.44L734.98 161.81L735.46 159.51L735.94 157.58L736.43 156.06L736.91 154.98L737.39 154.40L737.88 154.49L738.36 155.76L738.84 158.71L739.33 163.89L739.81 171.07L740.29 178.80L740.78 185.49L741.26 189.58L741.74 190.76L742.23 190.49L742.71 190.33L743.19 191.81L743.68 195.25L744.16 199.57L744.64 203.63L745.13 206.32L745.61 207.57L746.09 208.25L746.58 209.26L747.06 211.45L747.54 214.88L748.03 219.03L748.51 223.33L748.99 227.27L749.47 230.68L749.96 233.61L750.44 236.11L750.92 238.24L751.41 240.14L751.89 241.99L752.37 243.96L752.86 246.19L753.34 248.54L753.82 250.73L754.31 252.49L754.79 253.61L755.27 254.06L755.76 253.87L756.24 253.08L756.72 251.75L757.21 249.96L757.69 247.79L758.17 245.36L758.66 242.78L759.14 240.34L759.62 238.34L760.11 237.07L760.59 236.72L761.07 237.16L761.56 238.20L762.04 239.67L762.52 241.43L763.01 243.45L763.49 245.70L763.97 248.14L764.45 250.75L764.94 253.47L765.42 256.23L765.90 258.97L766.39 261.54L766.87 263.65L767.35 265.03L767.84 265.41L768.32 264.98L768.80 264.45L769.29 264.55L769.77 265.98L770.25 268.62L770.74 271.65L771.22 274.22L771.70 275.56L772.19 275.65L772.67 275.05L773.15 274.34L773.64 274.02L774.12 274.03L774.60 273.96L775.09 273.41L775.57 272.03L776.05 269.90L776.54 267.33L777.02 264.62L777.50 262.01L777.99 259.55L778.47 257.17L778.95 254.81L779.43 252.44L779.92 250.22L780.40 248.32L780.88 246.94L781.37 246.30L781.85 246.64L782.33 248.27L782.82 251.46L783.30 256.20L783.78 261.66L784.27 266.84L784.75 270.72L785.23 272.78L785.72 273.52L786.20 273.61L786.68 273.75L787.17 274.28L787.65 274.98L788.13 275.55L788.62 275.69L789.10 275.49L789.58 275.66L790.07 276.94L790.55 280.04L791.03 284.57L791.52 288.69L792.00 290.48L792.48 288.12L792.97 281.59L793.45 272.81L793.93 263.75L794.41 256.32L794.90 250.96L795.38 246.87L795.86 243.26L796.35 239.35L796.83 235.29L797.31 231.80L797.80 229.60L798.28 229.36L798.76 230.82L799.25 233.24L799.73 235.88L800.21 238.08L800.70 239.72L801.18 240.92L801.66 241.82L802.15 242.56L802.63 243.41L803.11 244.67L803.60 246.64L804.08 249.60L804.56 253.56L805.05 258.51L805.53 264.41L806.01 271.15L806.50 278.32L806.98 285.42L807.46 291.97L807.95 297.53L808.43 301.80L808.91 304.47L809.39 305.28L809.88 304.49L810.36 303.66L810.84 304.54L811.33 308.82L811.81 316.83L812.29 326.28L812.78 334.67L813.26 339.47L813.74 339.71L814.23 336.66L814.71 331.77L815.19 326.47L815.68 321.90L816.16 318.83L816.64 318.01L817.13 320.15L817.61 324.98L818.09 331.27L818.58 337.75L819.06 343.22L819.54 347.48L820.03 351.12L820.51 354.76L820.99 358.91L821.48 362.89L821.96 365.23L822.44 364.45L822.93 359.35L823.41 351.38L823.89 343.33L824.37 337.99L824.86 337.67L825.34 341.15L825.82 345.73L826.31 348.73L826.79 348.03L827.27 344.65L827.76 340.63L828.24 338.03L828.72 338.35L829.21 340.71L829.69 343.60L830.17 345.53L830.66 345.41L831.14 343.59L831.62 340.75L832.11 337.53L832.59 334.57L833.07 332.50L833.56 331.92L834.04 333.46L834.52 337.14L835.01 341.84L835.49 346.25L835.97 349.09L836.46 349.92L836.94 349.77L837.42 349.81L837.91 351.18L838.39 354.04L838.87 357.19L839.35 359.30L839.84 359.09L840.32 356.63L840.80 353.49L841.29 351.33L841.77 351.70L842.25 354.48L842.74 357.96L843.22 360.37L843.70 360.07L844.19 357.30L844.67 353.69L845.15 350.93L845.64 350.58L846.12 353.17L846.60 358.55L847.09 366.55L847.57 376.87L848.05 387.92L848.54 397.51L849.02 403.42L849.50 403.91L849.99 400.15L850.47 394.51L850.95 389.34L851.44 386.67L851.92 386.82L852.40 389.57L852.88 394.70L853.37 401.68L853.85 408.74L854.33 413.82L854.82 414.85L855.30 410.88L855.78 404.52L856.27 399.10L856.75 397.93L857.23 402.96L857.72 412.70L858.20 425.13L858.68 438.23L859.17 450.04L859.65 458.77L860.13 462.62L860.62 459.86L861.10 450.60L861.58 438.11L862.07 425.88L862.55 417.39L863.03 413.70L863.52 412.65L864.00 411.88L864.48 409.11L864.97 404.02L865.45 398.43L865.93 394.27L866.42 393.35L866.90 395.85L867.38 400.45L867.86 405.76L868.35 410.47L868.83 413.77L869.31 415.22L869.80 414.41L870.28 411.03L870.76 405.95L871.25 400.69L871.73 396.80L872.21 395.65L872.70 397.30L873.18 401.17L873.66 406.71L874.15 413.21L874.63 419.21L875.11 422.99L875.60 422.81L876.08 417.42L876.56 408.02L877.05 396.51L877.53 384.79L878.01 374.50L878.50 366.27L878.98 360.51L879.46 357.61L879.95 357.59L880.43 359.35L880.91 361.59L881.40 362.99L881.88 363.01L882.36 362.86L882.84 364.03L883.33 368.01L883.81 375.09L884.29 383.30L884.78 390.44L885.26 394.30L885.74 393.99L886.23 390.58L886.71 385.32L887.19 379.46L887.68 373.80L888.16 368.57L888.64 364.00L889.13 360.28L889.61 357.54L890.09 355.78L890.58 355.02L891.06 355.28L891.54 356.57L892.03 358.92L892.51 362.36L892.99 366.87L893.48 371.95L893.96 376.76L894.44 380.46L894.93 382.29L895.41 382.35L895.89 381.21L896.38 379.45L896.86 377.63L897.34 376.18L897.82 375.46L898.31 375.85L898.79 377.59L899.27 380.35L899.76 383.57L900.24 386.68L900.72 389.19L901.21 391.01L901.69 392.10L902.17 392.47L902.66 392.15L903.14 391.39L903.62 390.47L904.11 389.68L904.59 389.17L905.07 388.72L905.56 388.06L906.04 386.90L906.52 385.38L907.01 384.61L907.49 385.84L907.97 390.28L908.46 397.99L908.94 406.87L909.42 414.62L909.91 418.95L910.39 419.21L910.87 417.13L911.36 414.65L911.84 413.66L912.32 414.63L912.80 416.37L913.29 417.56L913.77 416.97L914.25 414.82L914.74 412.72L915.22 412.37L915.70 415.32L916.19 421.25L916.67 428.29L917.15 434.54L917.64 438.25L918.12 439.30L918.60 438.65L919.09 437.29L919.57 436.09L920.05 435.32L920.54 434.85L921.02 434.57L921.50 434.37L921.99 434.10L922.47 433.58L922.95 432.67L923.44 431.29L923.92 429.94L924.40 429.32L924.89 430.10L925.37 432.69L925.85 436.33L926.34 439.92L926.82 442.38L927.30 442.86L927.78 441.31L928.27 437.81L928.75 432.48L929.23 425.59L929.72 417.85L930.20 410.04L930.68 402.94L931.17 397.02L931.65 392.04L932.13 387.69L932.62 383.67L933.10 380.17L933.58 378.22L934.07 378.97L934.55 383.53L935.03 391.96L935.52 402.90L936.00 414.85L936.48 426.34L936.97 436.20L937.45 443.62L937.93 447.83L938.42 448.09L938.90 444.84L939.38 439.59L939.87 433.91L940.35 429.30L940.83 426.49L941.32 425.62L941.80 426.82L942.28 430.13L942.76 434.68L943.25 439.05L943.73 441.80L944.21 441.71L944.70 439.22L945.18 435.61L945.66 432.16L946.15 430.06L946.63 429.82L947.11 431.72L947.60 435.99L948.08 442.58L948.56 449.77L949.05 455.31L949.53 456.97L950.01 453.23L950.50 445.51L950.98 435.96L951.46 426.74L951.95 419.58L952.43 414.91L952.91 412.90L953.40 413.72L953.88 417.29L954.36 422.88L954.85 429.70L955.33 436.92L955.81 443.65L956.30 448.81L956.78 451.30L957.26 450.06L957.74 445.16L958.23 438.60L958.71 432.53L959.19 429.08L959.68 428.91L960.16 430.77L960.64 433.24L961.13 434.98L961.61 435.44L962.09 435.04L962.58 434.19L963.06 433.33L963.54 432.76L964.03 432.63L964.51 433.12L964.99 434.38L965.48 436.44L965.96 439.25L966.44 442.73L966.93 446.77L967.41 450.76L967.89 453.74L968.38 454.79L968.86 453.15L969.34 449.36L969.83 444.58L970.31 439.98L970.79 436.63L971.28 434.99L971.76 435.32L972.24 437.87L972.72 442.58L973.21 448.06L973.69 452.46L974.17 453.96L974.66 451.34L975.14 445.64L975.62 438.48L976.11 431.45L976.59 425.83L977.07 421.97L977.56 420.03L978.04 420.18L978.52 422.35L979.01 425.87L979.49 429.99L979.97 433.97L980.46 437.18L980.94 439.29L981.42 439.98L981.91 438.94L982.39 436.30L982.87 432.84L983.36 429.43L983.84 426.87L984.32 425.44L984.81 424.64L985.29 423.95L985.77 422.88L986.26 421.51L986.74 420.58L987.22 420.83L987.70 422.95L988.19 426.86L988.67 431.83L989.15 437.10L989.64 441.94L990.12 446.13L990.60 449.75L991.09 452.90L991.57 455.65L992.05 457.51L992.54 457.75L993.02 455.62L993.50 450.59L993.99 443.64L994.47 436.43L994.95 430.64L995.44 427.61L995.92 426.88L996.40 427.37L996.89 427.97L997.37 427.85L997.85 427.46L998.34 427.58L998.82 429.00L999.30 432.21L999.79 436.64L1000.27 441.50L1000.75 445.99L1001.24 449.38L1001.72 451.19L1002.20 450.94L1002.68 448.19L1003.17 443.05L1003.65 436.95L1004.13 431.52L1004.62 428.34L1005.10 428.30L1005.58 430.92L1006.07 435.60L1006.55 441.72L1007.03 448.49L1007.52 454.81L1008.00 459.57L1008.48 461.68L1008.97 461.02L1009.45 458.65L1009.93 455.69L1010.42 453.22L1010.90 451.44L1011.38 449.68L1011.87 447.24L1012.35 443.51L1012.83 439.14L1013.32 435.82L1013.80 435.26L1014.28 438.94L1014.77 445.85L1015.25 453.36L1015.73 458.80L1016.22 459.79L1016.70 456.37L1017.18 449.89L1017.66 441.66L1018.15 433.00L1018.63 424.89L1019.11 418.21L1019.60 413.83L1020.08 412.54L1020.56 414.64L1021.05 420.32L1021.53 429.71L1022.01 442.45L1022.50 455.88L1022.98 466.70L1023.46 471.65L1023.95 468.75L1024.43 460.36L1024.91 449.76L1025.40 440.23L1025.88 433.92L1026.36 429.96L1026.85 427.02L1027.33 423.74L1027.81 419.70L1028.30 416.41L1028.78 415.66L1029.26 419.19L1029.75 427.03L1030.23 436.24L1030.71 443.59L1031.20 445.88L1031.68 442.14L1032.16 434.49L1032.64 425.29L1033.13 416.85L1033.61 410.54L1034.09 406.63L1034.58 405.33L1035.06 406.82L1035.54 410.51L1036.03 415.11L1036.51 419.29L1036.99 421.82L1037.48 422.71L1037.96 422.89L1038.44 423.31L1038.93 424.85L1039.41 427.39L1039.89 430.20L1040.38 432.54L1040.86 433.77L1041.34 433.83L1041.83 432.98L1042.31 431.49L1042.79 429.59L1043.28 427.45L1043.76 425.21L1044.24 423.01L1044.73 421.11L1045.21 420.47L1045.69 422.26L1046.18 427.63L1046.66 437.10L1047.14 448.47L1047.62 458.88L1048.11 465.49L1048.59 466.42L1049.07 462.87L1049.56 456.68L1050.04 449.65L1050.52 443.19L1051.01 437.59L1051.49 432.98L1051.97 429.51L1052.46 427.16L1052.94 425.66L1053.42 424.69L1053.91 423.93L1054.39 423.27L1054.87 422.87L1055.36 422.96L1055.84 423.74L1056.32 425.28L1056.81 427.49L1057.29 430.27L1057.77 433.49L1058.26 436.79L1058.74 439.50L1059.22 440.97L1059.71 440.57L1060.19 438.47L1060.67 435.55L1061.15 432.71L1061.64 430.80L1062.12 430.08L1062.60 430.38L1063.09 431.52L1063.57 433.31L1064.05 435.47L1064.54 437.70L1065.02 439.67L1065.50 441.12L1065.99 442.26L1066.47 443.51L1066.95 445.30L1067.44 447.91L1067.92 450.79L1068.40 453.06L1068.89 453.84L1069.37 452.55L1069.85 450.00L1070.34 447.40L1070.82 445.98L1071.30 446.59L1071.79 448.84L1072.27 451.99L1072.75 455.31L1073.24 458.11L1073.72 459.72L1074.20 459.47L1074.69 456.72L1075.17 451.61L1075.65 446.23L1076.13 442.93L1076.62 444.05L1077.10 450.06L1077.58 457.77L1078.07 463.60L1078.55 464.03L1079.03 457.87L1079.52 447.65L1080.00 436.21L1080.48 426.34L1080.97 419.38L1081.45 414.81L1081.93 412.00L1082.42 410.33L1082.90 409.38L1083.38 408.93L1083.87 408.80L1084.35 408.78L1084.83 408.84L1085.32 409.07L1085.80 409.55L1086.28 410.35L1086.77 411.41L1087.25 412.52L1087.73 413.49L1088.22 414.12L1088.70 414.10L1089.18 413.05L1089.67 410.59L1090.15 406.50L1090.63 401.53L1091.11 396.92L1091.60 393.89L1092.08 393.48L1092.56 395.76L1093.05 400.43L1093.53 407.20L1094.01 415.57L1094.50 424.17L1094.98 431.36L1095.46 435.52L1095.95 435.55L1096.43 432.22L1096.91 426.72L1097.40 420.24L1097.88 413.71L1098.36 407.35L1098.85 401.24L1099.33 395.47L1099.81 390.15L1100.30 385.49L1100.78 381.70L1101.26 379.01L1101.75 377.58L1102.23 377.46L1102.71 378.70L1103.20 381.37L1103.68 385.13L1104.16 389.11L1104.65 392.41L1105.13 394.14L1105.61 393.90L1106.09 391.88L1106.58 388.31L1107.06 383.43L1107.54 377.84L1108.03 372.46L1108.51 368.26L1108.99 366.13L1109.48 366.31L1109.96 368.53L1110.44 372.48L1110.93 377.82L1111.41 383.99L1111.89 390.21L1112.38 395.73L1112.86 399.95L1113.34 403.76L1113.83 408.81L1114.31 416.78L1114.79 428.86L1115.28 443.06L1115.76 456.06L1116.24 464.54L1116.73 465.89L1117.21 461.39L1117.69 453.61L1118.18 445.14L1118.66 438.15L1119.14 433.18L1119.63 430.31L1120.11 429.63L1120.59 431.03L1121.07 433.71L1121.56 436.71L1122.04 439.10L1122.52 440.12L1123.01 439.51L1123.49 437.10L1123.97 432.73L1124.46 426.67L1124.94 420.19L1125.42 414.65L1125.91 411.42L1126.39 411.04L1126.87 412.57L1127.36 414.97L1127.84 417.18L1128.32 418.72L1128.81 419.92L1129.29 421.15L1129.77 422.78L1130.26 424.98L1130.74 427.68L1131.22 430.80L1131.71 434.24L1132.19 437.66L1132.67 440.47L1133.16 442.06L1133.64 441.91L1134.12 440.31L1134.61 438.20L1135.09 436.53L1135.57 436.18L1136.05 437.14L1136.54 438.87L1137.02 440.82L1137.50 442.48L1137.99 443.67L1138.47 444.41L1138.95 444.69L1139.44 444.46L1139.92 443.47L1140.40 441.33L1140.89 437.69L1141.37 432.29L1141.85 425.43L1142.34 417.60L1142.82 409.28" fill="none" stroke="#000" stroke-width="3" stroke-linejoin="round" stroke-linecap="butt"/>
</g>
<rect x="635" y="14" width="1" height="519" fill="#333333"/>
<rect x="1166" y="14" width="2" height="519" fill="#333333"/>
<rect x="635" y="14" width="533" height="1" fill="#333333"/>
<rect x="635" y="59" width="533" height="2" fill="#333333"/>
<rect x="635" y="531" width="533" height="2" fill="#333333"/>
<rect x="636" y="15" width="530" height="44" fill="#D9D9D9"/>
<text transform="translate(900.45,46.8) scale(0.945,1)" x="0" y="0" text-anchor="middle" font-size="23.47" fill="#1A1A1A">$\lambda = 0.1$</text>
<rect x="1182" y="431" width="530" height="1" fill="#EBEBEB"/>
<rect x="1182" y="311" width="530" height="1" fill="#EBEBEB"/>
<rect x="1182" y="192" width="530" height="1" fill="#EBEBEB"/>
<rect x="1182" y="73" width="530" height="1" fill="#EBEBEB"/>
<rect x="1298" y="61" width="1" height="470" fill="#EBEBEB"/>
<rect x="1488" y="61" width="1" height="470" fill="#EBEBEB"/>
<rect x="1677" y="61" width="1" height="470" fill="#EBEBEB"/>
<rect x="1182" y="489" width="530" height="2" fill="#EBEBEB"/>
<rect x="1182" y="370" width="530" height="2" fill="#EBEBEB"/>
<rect x="1182" y="251" width="530" height="2" fill="#EBEBEB"/>
<rect x="1182" y="131" width="530" height="2" fill="#EBEBEB"/>
<rect x="1202" y="61" width="2" height="470" fill="#EBEBEB"/>
<rect x="1392" y="61" width="2" height="470" fill="#EBEBEB"/>
<rect x="1582" y="61" width="2" height="470" fill="#EBEBEB"/>
<g clip-path="url(#cp2)">
<use href="#d" x="1205" y="300"/>
<use href="#d" x="1207" y="283"/>
<use href="#d" x="1209" y="254"/>
<use href="#d" x="1211" y="175"/>
<use href="#d" x="1213" y="169"/>
<use href="#d" x="1215" y="198"/>
<use href="#d" x="1217" y="185"/>
<use href="#d" x="1219" y="186"/>
<use href="#d" x="1221" y="156"/>
<use href="#d" x="1222" y="194"/>
<use href="#d" x="1224" y="178"/>
<use href="#d" x="1226" y="185"/>
<use href="#d" x="1228" y="166"/>
<use href="#d" x="1230" y="174"/>
<use href="#d" x="1232" y="161"/>
<use href="#d" x="1234" y="143"/>
<use href="#d" x="1236" y="161"/>
<use href="#d" x="1238" y="138"/>
<use href="#d" x="1240" y="158"/>
<use href="#d" x="1241" y="88"/>
<use href="#d" x="1243" y="89"/>
<use href="#d" x="1245" y="113"/>
<use href="#d" x="1247" y="105"/>
<use href="#d" x="1249" y="181"/>
<use href="#d" x="1251" y="99"/>
<use href="#d" x="1253" y="125"/>
<use href="#d" x="1255" y="141"/>
<use href="#d" x="1257" y="143"/>
<use href="#d" x="1258" y="145"/>
<use href="#d" x="1260" y="190"/>
<use href="#d" x="1262" y="201"/>
<use href="#d" x="1264" y="178"/>
<use href="#d" x="1266" y="184"/>
<use href="#d" x="1268" y="180"/>
<use href="#d" x="1270" y="200"/>
<use href="#d" x="1272" y="184"/>
<use href="#d" x="1274" y="174"/>
<use href="#d" x="1276" y="165"/>
<use href="#d" x="1277" y="188"/>
<use href="#d" x="1279" y="167"/>
<use href="#d" x="1281" y="159"/>
<use href="#d" x="1283" y="157"/>
<use href="#d" x="1285" y="149"/>
<use href="#d" x="1287" y="207"/>
<use href="#d" x="1289" y="174"/>
<use href="#d" x="1291" y="217"/>
<use href="#d" x="1293" y="201"/>
<use href="#d" x="1294" y="228"/>
<use href="#d" x="1296" y="237"/>
<use href="#d" x="1298" y="241"/>
<use href="#d" x="1300" y="254"/>
<use href="#d" x="1302" y="253"/>
<use href="#d" x="1304" y="246"/>
<use href="#d" x="1306" y="234"/>
<use href="#d" x="1308" y="240"/>
<use href="#d" x="1310" y="247"/>
<use href="#d" x="1312" y="256"/>
<use href="#d" x="1313" y="271"/>
<use href="#d" x="1315" y="255"/>
<use href="#d" x="1317" y="283"/>
<use href="#d" x="1319" y="268"/>
<use href="#d" x="1321" y="277"/>
<use href="#d" x="1323" y="262"/>
<use href="#d" x="1325" y="256"/>
<use href="#d" x="1327" y="247"/>
<use href="#d" x="1329" y="243"/>
<use href="#d" x="1330" y="280"/>
<use href="#d" x="1332" y="267"/>
<use href="#d" x="1334" y="282"/>
<use href="#d" x="1336" y="262"/>
<use href="#d" x="1338" y="313"/>
<use href="#d" x="1340" y="243"/>
<use href="#d" x="1342" y="251"/>
<use href="#d" x="1344" y="220"/>
<use href="#d" x="1346" y="241"/>
<use href="#d" x="1348" y="242"/>
<use href="#d" x="1349" y="244"/>
<use href="#d" x="1351" y="261"/>
<use href="#d" x="1353" y="292"/>
<use href="#d" x="1355" y="317"/>
<use href="#d" x="1357" y="281"/>
<use href="#d" x="1359" y="362"/>
<use href="#d" x="1361" y="324"/>
<use href="#d" x="1363" y="306"/>
<use href="#d" x="1365" y="351"/>
<use href="#d" x="1366" y="343"/>
<use href="#d" x="1368" y="389"/>
<use href="#d" x="1370" y="304"/>
<use href="#d" x="1372" y="377"/>
<use href="#d" x="1374" y="316"/>
<use href="#d" x="1376" y="358"/>
<use href="#d" x="1378" y="337"/>
<use href="#d" x="1380" y="321"/>
<use href="#d" x="1382" y="363"/>
<use href="#d" x="1384" y="335"/>
<use href="#d" x="1385" y="377"/>
<use href="#d" x="1387" y="330"/>
<use href="#d" x="1389" y="381"/>
<use href="#d" x="1391" y="339"/>
<use href="#d" x="1393" y="356"/>
<use href="#d" x="1395" y="431"/>
<use href="#d" x="1397" y="373"/>
<use href="#d" x="1399" y="383"/>
<use href="#d" x="1401" y="447"/>
<use href="#d" x="1402" y="365"/>
<use href="#d" x="1404" y="436"/>
<use href="#d" x="1406" y="493"/>
<use href="#d" x="1408" y="384"/>
<use href="#d" x="1410" y="436"/>
<use href="#d" x="1412" y="373"/>
<use href="#d" x="1414" y="413"/>
<use href="#d" x="1416" y="425"/>
<use href="#d" x="1418" y="383"/>
<use href="#d" x="1420" y="400"/>
<use href="#d" x="1421" y="444"/>
<use href="#d" x="1423" y="375"/>
<use href="#d" x="1425" y="347"/>
<use href="#d" x="1427" y="379"/>
<use href="#d" x="1429" y="344"/>
<use href="#d" x="1431" y="414"/>
<use href="#d" x="1433" y="375"/>
<use href="#d" x="1435" y="360"/>
<use href="#d" x="1437" y="355"/>
<use href="#d" x="1439" y="358"/>
<use href="#d" x="1440" y="389"/>
<use href="#d" x="1442" y="377"/>
<use href="#d" x="1444" y="370"/>
<use href="#d" x="1446" y="390"/>
<use href="#d" x="1448" y="394"/>
<use href="#d" x="1450" y="386"/>
<use href="#d" x="1452" y="396"/>
<use href="#d" x="1454" y="367"/>
<use href="#d" x="1456" y="443"/>
<use href="#d" x="1457" y="394"/>
<use href="#d" x="1459" y="435"/>
<use href="#d" x="1461" y="391"/>
<use href="#d" x="1463" y="453"/>
<use href="#d" x="1465" y="430"/>
<use href="#d" x="1467" y="434"/>
<use href="#d" x="1469" y="437"/>
<use href="#d" x="1471" y="419"/>
<use href="#d" x="1473" y="449"/>
<use href="#d" x="1475" y="437"/>
<use href="#d" x="1476" y="397"/>
<use href="#d" x="1478" y="393"/>
<use href="#d" x="1480" y="365"/>
<use href="#d" x="1482" y="425"/>
<use href="#d" x="1484" y="462"/>
<use href="#d" x="1486" y="423"/>
<use href="#d" x="1488" y="418"/>
<use href="#d" x="1490" y="458"/>
<use href="#d" x="1492" y="425"/>
<use href="#d" x="1493" y="421"/>
<use href="#d" x="1495" y="483"/>
<use href="#d" x="1497" y="415"/>
<use href="#d" x="1499" y="407"/>
<use href="#d" x="1501" y="433"/>
<use href="#d" x="1503" y="470"/>
<use href="#d" x="1505" y="408"/>
<use href="#d" x="1507" y="445"/>
<use href="#d" x="1509" y="432"/>
<use href="#d" x="1511" y="432"/>
<use href="#d" x="1512" y="438"/>
<use href="#d" x="1514" y="467"/>
<use href="#d" x="1516" y="433"/>
<use href="#d" x="1518" y="425"/>
<use href="#d" x="1520" y="474"/>
<use href="#d" x="1522" y="423"/>
<use href="#d" x="1524" y="414"/>
<use href="#d" x="1526" y="435"/>
<use href="#d" x="1528" y="446"/>
<use href="#d" x="1529" y="419"/>
<use href="#d" x="1531" y="431"/>
<use href="#d" x="1533" y="412"/>
<use href="#d" x="1535" y="444"/>
<use href="#d" x="1537" y="448"/>
<use href="#d" x="1539" y="469"/>
<use href="#d" x="1541" y="413"/>
<use href="#d" x="1543" y="439"/>
<use href="#d" x="1545" y="419"/>
<use href="#d" x="1547" y="447"/>
<use href="#d" x="1548" y="461"/>
<use href="#d" x="1550" y="415"/>
<use href="#d" x="1552" y="436"/>
<use href="#d" x="1554" y="474"/>
<use href="#d" x="1556" y="443"/>
<use href="#d" x="1558" y="460"/>
<use href="#d" x="1560" y="409"/>
<use href="#d" x="1562" y="483"/>
<use href="#d" x="1564" y="437"/>
<use href="#d" x="1565" y="409"/>
<use href="#d" x="1567" y="409"/>
<use href="#d" x="1569" y="511"/>
<use href="#d" x="1571" y="413"/>
<use href="#d" x="1573" y="443"/>
<use href="#d" x="1575" y="387"/>
<use href="#d" x="1577" y="479"/>
<use href="#d" x="1579" y="407"/>
<use href="#d" x="1581" y="396"/>
<use href="#d" x="1583" y="434"/>
<use href="#d" x="1584" y="413"/>
<use href="#d" x="1586" y="438"/>
<use href="#d" x="1588" y="430"/>
<use href="#d" x="1590" y="429"/>
<use href="#d" x="1592" y="403"/>
<use href="#d" x="1594" y="493"/>
<use href="#d" x="1596" y="440"/>
<use href="#d" x="1598" y="427"/>
<use href="#d" x="1600" y="427"/>
<use href="#d" x="1601" y="421"/>
<use href="#d" x="1603" y="428"/>
<use href="#d" x="1605" y="450"/>
<use href="#d" x="1607" y="425"/>
<use href="#d" x="1609" y="431"/>
<use href="#d" x="1611" y="444"/>
<use href="#d" x="1613" y="437"/>
<use href="#d" x="1615" y="466"/>
<use href="#d" x="1617" y="434"/>
<use href="#d" x="1619" y="455"/>
<use href="#d" x="1620" y="475"/>
<use href="#d" x="1622" y="407"/>
<use href="#d" x="1624" y="503"/>
<use href="#d" x="1626" y="409"/>
<use href="#d" x="1628" y="413"/>
<use href="#d" x="1630" y="410"/>
<use href="#d" x="1632" y="408"/>
<use href="#d" x="1634" y="412"/>
<use href="#d" x="1636" y="419"/>
<use href="#d" x="1637" y="384"/>
<use href="#d" x="1639" y="399"/>
<use href="#d" x="1641" y="452"/>
<use href="#d" x="1643" y="414"/>
<use href="#d" x="1645" y="397"/>
<use href="#d" x="1647" y="378"/>
<use href="#d" x="1649" y="374"/>
<use href="#d" x="1651" y="400"/>
<use href="#d" x="1653" y="390"/>
<use href="#d" x="1655" y="359"/>
<use href="#d" x="1656" y="371"/>
<use href="#d" x="1658" y="411"/>
<use href="#d" x="1660" y="388"/>
<use href="#d" x="1662" y="500"/>
<use href="#d" x="1664" y="429"/>
<use href="#d" x="1666" y="423"/>
<use href="#d" x="1668" y="443"/>
<use href="#d" x="1670" y="443"/>
<use href="#d" x="1672" y="397"/>
<use href="#d" x="1673" y="425"/>
<use href="#d" x="1675" y="419"/>
<use href="#d" x="1677" y="429"/>
<use href="#d" x="1679" y="451"/>
<use href="#d" x="1681" y="427"/>
<use href="#d" x="1683" y="444"/>
<use href="#d" x="1685" y="442"/>
<use href="#d" x="1687" y="442"/>
<use href="#d" x="1689" y="406"/>
<path d="M1205.91 276.49L1206.40 271.70L1206.88 266.91L1207.36 262.15L1207.85 257.40L1208.33 252.69L1208.81 248.03L1209.30 243.44L1209.78 238.92L1210.26 234.51L1210.75 230.22L1211.23 226.07L1211.71 222.08L1212.20 218.28L1212.68 214.66L1213.16 211.23L1213.65 208.00L1214.13 204.97L1214.61 202.14L1215.10 199.49L1215.58 197.01L1216.06 194.71L1216.55 192.57L1217.03 190.58L1217.51 188.74L1218.00 187.04L1218.48 185.48L1218.96 184.03L1219.45 182.70L1219.93 181.47L1220.41 180.34L1220.89 179.30L1221.38 178.34L1221.86 177.45L1222.34 176.61L1222.83 175.82L1223.31 175.04L1223.79 174.28L1224.28 173.53L1224.76 172.77L1225.24 171.99L1225.73 171.20L1226.21 170.37L1226.69 169.52L1227.18 168.62L1227.66 167.67L1228.14 166.68L1228.63 165.64L1229.11 164.56L1229.59 163.42L1230.08 162.23L1230.56 160.98L1231.04 159.69L1231.53 158.33L1232.01 156.93L1232.49 155.49L1232.98 154.00L1233.46 152.47L1233.94 150.90L1234.43 149.31L1234.91 147.70L1235.39 146.06L1235.87 144.41L1236.36 142.74L1236.84 141.07L1237.32 139.39L1237.81 137.72L1238.29 136.07L1238.77 134.44L1239.26 132.85L1239.74 131.31L1240.22 129.82L1240.71 128.40L1241.19 127.07L1241.67 125.85L1242.16 124.75L1242.64 123.79L1243.12 122.98L1243.61 122.32L1244.09 121.82L1244.57 121.48L1245.06 121.29L1245.54 121.26L1246.02 121.37L1246.51 121.63L1246.99 122.02L1247.47 122.54L1247.96 123.18L1248.44 123.93L1248.92 124.78L1249.41 125.72L1249.89 126.73L1250.37 127.82L1250.85 128.99L1251.34 130.25L1251.82 131.61L1252.30 133.06L1252.79 134.59L1253.27 136.21L1253.75 137.91L1254.24 139.68L1254.72 141.51L1255.20 143.40L1255.69 145.34L1256.17 147.32L1256.65 149.34L1257.14 151.37L1257.62 153.42L1258.10 155.48L1258.59 157.53L1259.07 159.56L1259.55 161.56L1260.04 163.51L1260.52 165.41L1261.00 167.22L1261.49 168.95L1261.97 170.58L1262.45 172.11L1262.94 173.52L1263.42 174.82L1263.90 175.99L1264.39 177.06L1264.87 178.01L1265.35 178.85L1265.83 179.58L1266.32 180.21L1266.80 180.73L1267.28 181.14L1267.77 181.46L1268.25 181.68L1268.73 181.80L1269.22 181.83L1269.70 181.78L1270.18 181.64L1270.67 181.41L1271.15 181.11L1271.63 180.75L1272.12 180.32L1272.60 179.84L1273.08 179.33L1273.57 178.78L1274.05 178.22L1274.53 177.64L1275.02 177.07L1275.50 176.50L1275.98 175.96L1276.47 175.43L1276.95 174.95L1277.43 174.50L1277.92 174.09L1278.40 173.74L1278.88 173.44L1279.37 173.21L1279.85 173.07L1280.33 173.01L1280.81 173.06L1281.30 173.21L1281.78 173.47L1282.26 173.86L1282.75 174.38L1283.23 175.03L1283.71 175.81L1284.20 176.73L1284.68 177.78L1285.16 178.97L1285.65 180.29L1286.13 181.74L1286.61 183.30L1287.10 184.96L1287.58 186.71L1288.06 188.54L1288.55 190.45L1289.03 192.42L1289.51 194.46L1290.00 196.56L1290.48 198.70L1290.96 200.87L1291.45 203.06L1291.93 205.27L1292.41 207.49L1292.90 209.70L1293.38 211.91L1293.86 214.11L1294.35 216.28L1294.83 218.42L1295.31 220.52L1295.79 222.57L1296.28 224.56L1296.76 226.49L1297.24 228.35L1297.73 230.14L1298.21 231.85L1298.69 233.48L1299.18 235.04L1299.66 236.51L1300.14 237.90L1300.63 239.20L1301.11 240.43L1301.59 241.57L1302.08 242.64L1302.56 243.65L1303.04 244.59L1303.53 245.47L1304.01 246.30L1304.49 247.09L1304.98 247.86L1305.46 248.59L1305.94 249.31L1306.43 250.02L1306.91 250.73L1307.39 251.44L1307.88 252.15L1308.36 252.87L1308.84 253.60L1309.33 254.33L1309.81 255.07L1310.29 255.81L1310.77 256.55L1311.26 257.29L1311.74 258.03L1312.22 258.75L1312.71 259.46L1313.19 260.14L1313.67 260.80L1314.16 261.43L1314.64 262.03L1315.12 262.59L1315.61 263.12L1316.09 263.61L1316.57 264.05L1317.06 264.46L1317.54 264.81L1318.02 265.11L1318.51 265.36L1318.99 265.56L1319.47 265.71L1319.96 265.81L1320.44 265.87L1320.92 265.89L1321.41 265.87L1321.89 265.81L1322.37 265.73L1322.86 265.62L1323.34 265.50L1323.82 265.37L1324.31 265.24L1324.79 265.11L1325.27 264.98L1325.75 264.88L1326.24 264.79L1326.72 264.71L1327.20 264.67L1327.69 264.64L1328.17 264.64L1328.65 264.66L1329.14 264.69L1329.62 264.74L1330.10 264.79L1330.59 264.83L1331.07 264.85L1331.55 264.85L1332.04 264.82L1332.52 264.75L1333.00 264.64L1333.49 264.49L1333.97 264.28L1334.45 264.03L1334.94 263.71L1335.42 263.34L1335.90 262.91L1336.39 262.42L1336.87 261.88L1337.35 261.30L1337.84 260.66L1338.32 259.98L1338.80 259.25L1339.29 258.49L1339.77 257.73L1340.25 256.96L1340.73 256.23L1341.22 255.54L1341.70 254.91L1342.18 254.36L1342.67 253.91L1343.15 253.56L1343.63 253.33L1344.12 253.24L1344.60 253.30L1345.08 253.52L1345.57 253.90L1346.05 254.45L1346.53 255.17L1347.02 256.07L1347.50 257.13L1347.98 258.36L1348.47 259.76L1348.95 261.33L1349.43 263.05L1349.92 264.93L1350.40 266.95L1350.88 269.11L1351.37 271.40L1351.85 273.80L1352.33 276.29L1352.82 278.87L1353.30 281.51L1353.78 284.21L1354.27 286.93L1354.75 289.68L1355.23 292.43L1355.71 295.18L1356.20 297.91L1356.68 300.61L1357.16 303.29L1357.65 305.92L1358.13 308.51L1358.61 311.05L1359.10 313.50L1359.58 315.88L1360.06 318.15L1360.55 320.34L1361.03 322.43L1361.51 324.44L1362.00 326.36L1362.48 328.19L1362.96 329.94L1363.45 331.61L1363.93 333.19L1364.41 334.69L1364.90 336.09L1365.38 337.39L1365.86 338.59L1366.35 339.68L1366.83 340.67L1367.31 341.55L1367.80 342.32L1368.28 342.99L1368.76 343.55L1369.25 344.01L1369.73 344.36L1370.21 344.64L1370.69 344.85L1371.18 345.01L1371.66 345.12L1372.14 345.19L1372.63 345.21L1373.11 345.19L1373.59 345.14L1374.08 345.07L1374.56 345.00L1375.04 344.92L1375.53 344.86L1376.01 344.81L1376.49 344.78L1376.98 344.76L1377.46 344.77L1377.94 344.81L1378.43 344.89L1378.91 345.01L1379.39 345.19L1379.88 345.43L1380.36 345.73L1380.84 346.09L1381.33 346.51L1381.81 347.00L1382.29 347.54L1382.78 348.13L1383.26 348.79L1383.74 349.50L1384.23 350.27L1384.71 351.11L1385.19 352.01L1385.67 352.96L1386.16 353.97L1386.64 355.03L1387.12 356.16L1387.61 357.35L1388.09 358.61L1388.57 359.95L1389.06 361.36L1389.54 362.83L1390.02 364.36L1390.51 365.95L1390.99 367.61L1391.47 369.33L1391.96 371.12L1392.44 372.98L1392.92 374.89L1393.41 376.84L1393.89 378.84L1394.37 380.87L1394.86 382.90L1395.34 384.94L1395.82 386.96L1396.31 388.95L1396.79 390.94L1397.27 392.90L1397.76 394.84L1398.24 396.76L1398.72 398.66L1399.20 400.52L1399.69 402.33L1400.17 404.10L1400.65 405.80L1401.14 407.42L1401.62 408.97L1402.10 410.42L1402.59 411.80L1403.07 413.09L1403.55 414.30L1404.04 415.42L1404.52 416.43L1405.00 417.31L1405.49 418.06L1405.97 418.67L1406.45 419.12L1406.94 419.42L1407.42 419.56L1407.90 419.56L1408.39 419.43L1408.87 419.20L1409.35 418.88L1409.84 418.47L1410.32 417.97L1410.80 417.40L1411.29 416.76L1411.77 416.06L1412.25 415.31L1412.74 414.54L1413.22 413.73L1413.70 412.90L1414.18 412.03L1414.67 411.13L1415.15 410.19L1415.63 409.22L1416.12 408.20L1416.60 407.15L1417.08 406.06L1417.57 404.94L1418.05 403.79L1418.53 402.62L1419.02 401.42L1419.50 400.20L1419.98 398.95L1420.47 397.67L1420.95 396.36L1421.43 395.01L1421.92 393.63L1422.40 392.22L1422.88 390.78L1423.37 389.34L1423.85 387.90L1424.33 386.49L1424.82 385.12L1425.30 383.79L1425.78 382.52L1426.27 381.32L1426.75 380.19L1427.23 379.13L1427.72 378.13L1428.20 377.20L1428.68 376.34L1429.16 375.55L1429.65 374.83L1430.13 374.17L1430.61 373.57L1431.10 373.02L1431.58 372.50L1432.06 372.01L1432.55 371.56L1433.03 371.15L1433.51 370.78L1434.00 370.46L1434.48 370.19L1434.96 369.98L1435.45 369.84L1435.93 369.76L1436.41 369.75L1436.90 369.82L1437.38 369.96L1437.86 370.17L1438.35 370.46L1438.83 370.81L1439.31 371.24L1439.80 371.72L1440.28 372.26L1440.76 372.85L1441.25 373.49L1441.73 374.16L1442.21 374.87L1442.70 375.62L1443.18 376.41L1443.66 377.23L1444.14 378.09L1444.63 378.98L1445.11 379.91L1445.59 380.87L1446.08 381.87L1446.56 382.88L1447.04 383.92L1447.53 384.99L1448.01 386.07L1448.49 387.17L1448.98 388.29L1449.46 389.44L1449.94 390.60L1450.43 391.79L1450.91 393.01L1451.39 394.25L1451.88 395.51L1452.36 396.80L1452.84 398.11L1453.33 399.45L1453.81 400.81L1454.29 402.19L1454.78 403.59L1455.26 405.00L1455.74 406.41L1456.23 407.80L1456.71 409.16L1457.19 410.51L1457.68 411.83L1458.16 413.13L1458.64 414.40L1459.12 415.64L1459.61 416.85L1460.09 418.01L1460.57 419.13L1461.06 420.21L1461.54 421.24L1462.02 422.22L1462.51 423.16L1462.99 424.03L1463.47 424.84L1463.96 425.56L1464.44 426.20L1464.92 426.76L1465.41 427.24L1465.89 427.63L1466.37 427.93L1466.86 428.16L1467.34 428.30L1467.82 428.36L1468.31 428.34L1468.79 428.24L1469.27 428.06L1469.76 427.82L1470.24 427.51L1470.72 427.13L1471.21 426.71L1471.69 426.23L1472.17 425.70L1472.66 425.14L1473.14 424.53L1473.62 423.89L1474.10 423.23L1474.59 422.55L1475.07 421.88L1475.55 421.21L1476.04 420.58L1476.52 419.99L1477.00 419.46L1477.49 419.00L1477.97 418.64L1478.45 418.37L1478.94 418.21L1479.42 418.16L1479.90 418.22L1480.39 418.40L1480.87 418.69L1481.35 419.10L1481.84 419.60L1482.32 420.18L1482.80 420.82L1483.29 421.51L1483.77 422.23L1484.25 422.98L1484.74 423.72L1485.22 424.46L1485.70 425.19L1486.19 425.92L1486.67 426.64L1487.15 427.35L1487.64 428.04L1488.12 428.72L1488.60 429.37L1489.08 430.01L1489.57 430.61L1490.05 431.18L1490.53 431.71L1491.02 432.19L1491.50 432.64L1491.98 433.05L1492.47 433.43L1492.95 433.78L1493.43 434.09L1493.92 434.37L1494.40 434.63L1494.88 434.85L1495.37 435.03L1495.85 435.16L1496.33 435.26L1496.82 435.32L1497.30 435.36L1497.78 435.39L1498.27 435.42L1498.75 435.46L1499.23 435.51L1499.72 435.58L1500.20 435.67L1500.68 435.78L1501.17 435.90L1501.65 436.03L1502.13 436.17L1502.62 436.31L1503.10 436.45L1503.58 436.59L1504.06 436.71L1504.55 436.83L1505.03 436.96L1505.51 437.10L1506.00 437.25L1506.48 437.42L1506.96 437.59L1507.45 437.77L1507.93 437.95L1508.41 438.14L1508.90 438.33L1509.38 438.52L1509.86 438.72L1510.35 438.91L1510.83 439.10L1511.31 439.29L1511.80 439.47L1512.28 439.63L1512.76 439.78L1513.25 439.90L1513.73 439.99L1514.21 440.05L1514.70 440.08L1515.18 440.05L1515.66 439.99L1516.15 439.89L1516.63 439.76L1517.11 439.60L1517.60 439.41L1518.08 439.19L1518.56 438.96L1519.04 438.70L1519.53 438.41L1520.01 438.10L1520.49 437.76L1520.98 437.40L1521.46 437.01L1521.94 436.61L1522.43 436.21L1522.91 435.82L1523.39 435.44L1523.88 435.08L1524.36 434.75L1524.84 434.45L1525.33 434.17L1525.81 433.92L1526.29 433.69L1526.78 433.49L1527.26 433.32L1527.74 433.17L1528.23 433.04L1528.71 432.93L1529.19 432.86L1529.68 432.81L1530.16 432.80L1530.64 432.83L1531.13 432.89L1531.61 432.99L1532.09 433.13L1532.58 433.30L1533.06 433.51L1533.54 433.75L1534.02 434.02L1534.51 434.32L1534.99 434.63L1535.47 434.96L1535.96 435.28L1536.44 435.61L1536.92 435.92L1537.41 436.22L1537.89 436.49L1538.37 436.75L1538.86 436.98L1539.34 437.18L1539.82 437.36L1540.31 437.52L1540.79 437.67L1541.27 437.82L1541.76 437.97L1542.24 438.14L1542.72 438.33L1543.21 438.52L1543.69 438.73L1544.17 438.96L1544.66 439.21L1545.14 439.48L1545.62 439.77L1546.11 440.08L1546.59 440.40L1547.07 440.72L1547.56 441.05L1548.04 441.38L1548.52 441.70L1549.00 442.02L1549.49 442.33L1549.97 442.64L1550.45 442.94L1550.94 443.25L1551.42 443.57L1551.90 443.88L1552.39 444.19L1552.87 444.49L1553.35 444.76L1553.84 445.02L1554.32 445.23L1554.80 445.41L1555.29 445.54L1555.77 445.62L1556.25 445.66L1556.74 445.66L1557.22 445.62L1557.70 445.54L1558.19 445.42L1558.67 445.27L1559.15 445.08L1559.64 444.86L1560.12 444.62L1560.60 444.36L1561.09 444.09L1561.57 443.79L1562.05 443.46L1562.54 443.09L1563.02 442.69L1563.50 442.28L1563.98 441.84L1564.47 441.39L1564.95 440.95L1565.43 440.50L1565.92 440.07L1566.40 439.65L1566.88 439.25L1567.37 438.85L1567.85 438.46L1568.33 438.07L1568.82 437.67L1569.30 437.24L1569.78 436.77L1570.27 436.25L1570.75 435.69L1571.23 435.10L1571.72 434.49L1572.20 433.87L1572.68 433.25L1573.17 432.62L1573.65 431.99L1574.13 431.37L1574.62 430.77L1575.10 430.18L1575.58 429.63L1576.07 429.11L1576.55 428.61L1577.03 428.13L1577.52 427.67L1578.00 427.22L1578.48 426.80L1578.96 426.41L1579.45 426.07L1579.93 425.77L1580.41 425.54L1580.90 425.37L1581.38 425.27L1581.86 425.23L1582.35 425.25L1582.83 425.33L1583.31 425.46L1583.80 425.64L1584.28 425.86L1584.76 426.13L1585.25 426.44L1585.73 426.78L1586.21 427.16L1586.70 427.55L1587.18 427.97L1587.66 428.40L1588.15 428.84L1588.63 429.28L1589.11 429.74L1589.60 430.19L1590.08 430.65L1590.56 431.11L1591.05 431.56L1591.53 432.01L1592.01 432.44L1592.49 432.87L1592.98 433.27L1593.46 433.65L1593.94 433.99L1594.43 434.28L1594.91 434.50L1595.39 434.67L1595.88 434.78L1596.36 434.85L1596.84 434.88L1597.33 434.89L1597.81 434.87L1598.29 434.85L1598.78 434.82L1599.26 434.80L1599.74 434.78L1600.23 434.79L1600.71 434.81L1601.19 434.86L1601.68 434.94L1602.16 435.06L1602.64 435.21L1603.13 435.39L1603.61 435.61L1604.09 435.87L1604.58 436.15L1605.06 436.47L1605.54 436.81L1606.03 437.17L1606.51 437.56L1606.99 437.97L1607.47 438.40L1607.96 438.86L1608.44 439.35L1608.92 439.86L1609.41 440.39L1609.89 440.93L1610.37 441.49L1610.86 442.05L1611.34 442.61L1611.82 443.17L1612.31 443.71L1612.79 444.24L1613.27 444.74L1613.76 445.21L1614.24 445.65L1614.72 446.04L1615.21 446.39L1615.69 446.67L1616.17 446.89L1616.66 447.05L1617.14 447.15L1617.62 447.18L1618.11 447.14L1618.59 447.03L1619.07 446.84L1619.56 446.56L1620.04 446.19L1620.52 445.73L1621.01 445.18L1621.49 444.53L1621.97 443.80L1622.45 442.98L1622.94 442.10L1623.42 441.14L1623.90 440.12L1624.39 439.02L1624.87 437.84L1625.35 436.58L1625.84 435.27L1626.32 433.91L1626.80 432.53L1627.29 431.14L1627.77 429.75L1628.25 428.36L1628.74 427.00L1629.22 425.66L1629.70 424.35L1630.19 423.08L1630.67 421.85L1631.15 420.66L1631.64 419.52L1632.12 418.42L1632.60 417.36L1633.09 416.36L1633.57 415.39L1634.05 414.46L1634.54 413.57L1635.02 412.72L1635.50 411.90L1635.99 411.11L1636.47 410.34L1636.95 409.60L1637.43 408.88L1637.92 408.19L1638.40 407.53L1638.88 406.88L1639.37 406.24L1639.85 405.61L1640.33 404.96L1640.82 404.31L1641.30 403.63L1641.78 402.91L1642.27 402.15L1642.75 401.36L1643.23 400.53L1643.72 399.68L1644.20 398.81L1644.68 397.94L1645.17 397.07L1645.65 396.21L1646.13 395.39L1646.62 394.60L1647.10 393.86L1647.58 393.19L1648.07 392.59L1648.55 392.07L1649.03 391.63L1649.52 391.29L1650.00 391.05L1650.48 390.91L1650.97 390.86L1651.45 390.92L1651.93 391.08L1652.41 391.35L1652.90 391.74L1653.38 392.24L1653.86 392.86L1654.35 393.61L1654.83 394.48L1655.31 395.49L1655.80 396.63L1656.28 397.89L1656.76 399.26L1657.25 400.74L1657.73 402.31L1658.21 403.96L1658.70 405.66L1659.18 407.40L1659.66 409.17L1660.15 410.94L1660.63 412.71L1661.11 414.45L1661.60 416.16L1662.08 417.79L1662.56 419.33L1663.05 420.75L1663.53 422.07L1664.01 423.27L1664.50 424.36L1664.98 425.35L1665.46 426.24L1665.95 427.03L1666.43 427.74L1666.91 428.36L1667.39 428.89L1667.88 429.35L1668.36 429.74L1668.84 430.06L1669.33 430.32L1669.81 430.53L1670.29 430.69L1670.78 430.82L1671.26 430.92L1671.74 431.01L1672.23 431.11L1672.71 431.22L1673.19 431.34L1673.68 431.47L1674.16 431.62L1674.64 431.79L1675.13 431.97L1675.61 432.16L1676.09 432.37L1676.58 432.59L1677.06 432.81L1677.54 433.03L1678.03 433.25L1678.51 433.46L1678.99 433.64L1679.48 433.81L1679.96 433.94L1680.44 434.04L1680.93 434.11L1681.41 434.14L1681.89 434.13L1682.37 434.09L1682.86 434.00L1683.34 433.88L1683.82 433.70L1684.31 433.48L1684.79 433.22L1685.27 432.91L1685.76 432.55L1686.24 432.15L1686.72 431.72L1687.21 431.25L1687.69 430.75L1688.17 430.23L1688.66 429.70L1689.14 429.15" fill="none" stroke="#000" stroke-width="3" stroke-linejoin="round" stroke-linecap="butt"/>
</g>
<rect x="1181" y="14" width="1" height="519" fill="#333333"/>
<rect x="1712" y="14" width="2" height="519" fill="#333333"/>
<rect x="1181" y="14" width="533" height="1" fill="#333333"/>
<rect x="1181" y="59" width="533" height="2" fill="#333333"/>
<rect x="1181" y="531" width="533" height="2" fill="#333333"/>
<rect x="1182" y="15" width="530" height="44" fill="#D9D9D9"/>
<text transform="translate(1445.95,46.8) scale(0.945,1)" x="0" y="0" text-anchor="middle" font-size="23.47" fill="#1A1A1A">$\lambda = 50$</text>
<rect x="90" y="964" width="529" height="1" fill="#EBEBEB"/>
<rect x="90" y="844" width="529" height="1" fill="#EBEBEB"/>
<rect x="90" y="725" width="529" height="1" fill="#EBEBEB"/>
<rect x="90" y="606" width="529" height="1" fill="#EBEBEB"/>
<rect x="206" y="594" width="1" height="470" fill="#EBEBEB"/>
<rect x="395" y="594" width="1" height="470" fill="#EBEBEB"/>
<rect x="585" y="594" width="1" height="470" fill="#EBEBEB"/>
<rect x="90" y="1022" width="529" height="2" fill="#EBEBEB"/>
<rect x="90" y="903" width="529" height="2" fill="#EBEBEB"/>
<rect x="90" y="784" width="529" height="2" fill="#EBEBEB"/>
<rect x="90" y="664" width="529" height="2" fill="#EBEBEB"/>
<rect x="110" y="594" width="2" height="470" fill="#EBEBEB"/>
<rect x="299" y="594" width="2" height="470" fill="#EBEBEB"/>
<rect x="489" y="594" width="2" height="470" fill="#EBEBEB"/>
<g clip-path="url(#cp3)">
<use href="#d" x="113" y="833"/>
<use href="#d" x="115" y="816"/>
<use href="#d" x="117" y="787"/>
<use href="#d" x="118" y="708"/>
<use href="#d" x="120" y="702"/>
<use href="#d" x="122" y="731"/>
<use href="#d" x="124" y="718"/>
<use href="#d" x="126" y="719"/>
<use href="#d" x="128" y="689"/>
<use href="#d" x="130" y="727"/>
<use href="#d" x="132" y="711"/>
<use href="#d" x="134" y="718"/>
<use href="#d" x="136" y="699"/>
<use href="#d" x="137" y="707"/>
<use href="#d" x="139" y="694"/>
<use href="#d" x="141" y="676"/>
<use href="#d" x="143" y="694"/>
<use href="#d" x="145" y="671"/>
<use href="#d" x="147" y="691"/>
<use href="#d" x="149" y="621"/>
<use href="#d" x="151" y="622"/>
<use href="#d" x="153" y="646"/>
<use href="#d" x="154" y="638"/>
<use href="#d" x="156" y="714"/>
<use href="#d" x="158" y="632"/>
<use href="#d" x="160" y="658"/>
<use href="#d" x="162" y="674"/>
<use href="#d" x="164" y="676"/>
<use href="#d" x="166" y="678"/>
<use href="#d" x="168" y="723"/>
<use href="#d" x="170" y="734"/>
<use href="#d" x="172" y="711"/>
<use href="#d" x="173" y="717"/>
<use href="#d" x="175" y="713"/>
<use href="#d" x="177" y="733"/>
<use href="#d" x="179" y="717"/>
<use href="#d" x="181" y="707"/>
<use href="#d" x="183" y="698"/>
<use href="#d" x="185" y="721"/>
<use href="#d" x="187" y="700"/>
<use href="#d" x="189" y="692"/>
<use href="#d" x="190" y="690"/>
<use href="#d" x="192" y="682"/>
<use href="#d" x="194" y="740"/>
<use href="#d" x="196" y="707"/>
<use href="#d" x="198" y="750"/>
<use href="#d" x="200" y="734"/>
<use href="#d" x="202" y="761"/>
<use href="#d" x="204" y="770"/>
<use href="#d" x="206" y="774"/>
<use href="#d" x="208" y="787"/>
<use href="#d" x="209" y="786"/>
<use href="#d" x="211" y="779"/>
<use href="#d" x="213" y="767"/>
<use href="#d" x="215" y="773"/>
<use href="#d" x="217" y="780"/>
<use href="#d" x="219" y="789"/>
<use href="#d" x="221" y="804"/>
<use href="#d" x="223" y="788"/>
<use href="#d" x="225" y="816"/>
<use href="#d" x="226" y="801"/>
<use href="#d" x="228" y="810"/>
<use href="#d" x="230" y="795"/>
<use href="#d" x="232" y="789"/>
<use href="#d" x="234" y="780"/>
<use href="#d" x="236" y="776"/>
<use href="#d" x="238" y="813"/>
<use href="#d" x="240" y="800"/>
<use href="#d" x="242" y="815"/>
<use href="#d" x="244" y="795"/>
<use href="#d" x="245" y="846"/>
<use href="#d" x="247" y="776"/>
<use href="#d" x="249" y="784"/>
<use href="#d" x="251" y="753"/>
<use href="#d" x="253" y="774"/>
<use href="#d" x="255" y="775"/>
<use href="#d" x="257" y="777"/>
<use href="#d" x="259" y="794"/>
<use href="#d" x="261" y="825"/>
<use href="#d" x="263" y="850"/>
<use href="#d" x="264" y="814"/>
<use href="#d" x="266" y="895"/>
<use href="#d" x="268" y="857"/>
<use href="#d" x="270" y="839"/>
<use href="#d" x="272" y="884"/>
<use href="#d" x="274" y="876"/>
<use href="#d" x="276" y="922"/>
<use href="#d" x="278" y="837"/>
<use href="#d" x="280" y="910"/>
<use href="#d" x="281" y="849"/>
<use href="#d" x="283" y="891"/>
<use href="#d" x="285" y="870"/>
<use href="#d" x="287" y="854"/>
<use href="#d" x="289" y="896"/>
<use href="#d" x="291" y="868"/>
<use href="#d" x="293" y="910"/>
<use href="#d" x="295" y="863"/>
<use href="#d" x="297" y="914"/>
<use href="#d" x="299" y="872"/>
<use href="#d" x="300" y="889"/>
<use href="#d" x="302" y="964"/>
<use href="#d" x="304" y="906"/>
<use href="#d" x="306" y="916"/>
<use href="#d" x="308" y="980"/>
<use href="#d" x="310" y="898"/>
<use href="#d" x="312" y="969"/>
<use href="#d" x="314" y="1026"/>
<use href="#d" x="316" y="917"/>
<use href="#d" x="317" y="969"/>
<use href="#d" x="319" y="906"/>
<use href="#d" x="321" y="946"/>
<use href="#d" x="323" y="958"/>
<use href="#d" x="325" y="916"/>
<use href="#d" x="327" y="933"/>
<use href="#d" x="329" y="977"/>
<use href="#d" x="331" y="908"/>
<use href="#d" x="333" y="880"/>
<use href="#d" x="335" y="912"/>
<use href="#d" x="336" y="877"/>
<use href="#d" x="338" y="947"/>
<use href="#d" x="340" y="908"/>
<use href="#d" x="342" y="893"/>
<use href="#d" x="344" y="888"/>
<use href="#d" x="346" y="891"/>
<use href="#d" x="348" y="922"/>
<use href="#d" x="350" y="910"/>
<use href="#d" x="352" y="903"/>
<use href="#d" x="353" y="923"/>
<use href="#d" x="355" y="927"/>
<use href="#d" x="357" y="919"/>
<use href="#d" x="359" y="929"/>
<use href="#d" x="361" y="900"/>
<use href="#d" x="363" y="976"/>
<use href="#d" x="365" y="927"/>
<use href="#d" x="367" y="968"/>
<use href="#d" x="369" y="924"/>
<use href="#d" x="371" y="986"/>
<use href="#d" x="372" y="963"/>
<use href="#d" x="374" y="967"/>
<use href="#d" x="376" y="970"/>
<use href="#d" x="378" y="952"/>
<use href="#d" x="380" y="982"/>
<use href="#d" x="382" y="970"/>
<use href="#d" x="384" y="930"/>
<use href="#d" x="386" y="926"/>
<use href="#d" x="388" y="898"/>
<use href="#d" x="389" y="958"/>
<use href="#d" x="391" y="995"/>
<use href="#d" x="393" y="956"/>
<use href="#d" x="395" y="951"/>
<use href="#d" x="397" y="991"/>
<use href="#d" x="399" y="958"/>
<use href="#d" x="401" y="954"/>
<use href="#d" x="403" y="1016"/>
<use href="#d" x="405" y="948"/>
<use href="#d" x="407" y="940"/>
<use href="#d" x="408" y="966"/>
<use href="#d" x="410" y="1003"/>
<use href="#d" x="412" y="941"/>
<use href="#d" x="414" y="978"/>
<use href="#d" x="416" y="965"/>
<use href="#d" x="418" y="965"/>
<use href="#d" x="420" y="971"/>
<use href="#d" x="422" y="1000"/>
<use href="#d" x="424" y="966"/>
<use href="#d" x="425" y="958"/>
<use href="#d" x="427" y="1007"/>
<use href="#d" x="429" y="956"/>
<use href="#d" x="431" y="947"/>
<use href="#d" x="433" y="968"/>
<use href="#d" x="435" y="979"/>
<use href="#d" x="437" y="952"/>
<use href="#d" x="439" y="964"/>
<use href="#d" x="441" y="945"/>
<use href="#d" x="443" y="977"/>
<use href="#d" x="444" y="981"/>
<use href="#d" x="446" y="1002"/>
<use href="#d" x="448" y="946"/>
<use href="#d" x="450" y="972"/>
<use href="#d" x="452" y="952"/>
<use href="#d" x="454" y="980"/>
<use href="#d" x="456" y="994"/>
<use href="#d" x="458" y="948"/>
<use href="#d" x="460" y="969"/>
<use href="#d" x="461" y="1007"/>
<use href="#d" x="463" y="976"/>
<use href="#d" x="465" y="993"/>
<use href="#d" x="467" y="942"/>
<use href="#d" x="469" y="1016"/>
<use href="#d" x="471" y="970"/>
<use href="#d" x="473" y="942"/>
<use href="#d" x="475" y="942"/>
<use href="#d" x="477" y="1044"/>
<use href="#d" x="479" y="946"/>
<use href="#d" x="480" y="976"/>
<use href="#d" x="482" y="920"/>
<use href="#d" x="484" y="1012"/>
<use href="#d" x="486" y="940"/>
<use href="#d" x="488" y="929"/>
<use href="#d" x="490" y="967"/>
<use href="#d" x="492" y="946"/>
<use href="#d" x="494" y="971"/>
<use href="#d" x="496" y="963"/>
<use href="#d" x="497" y="962"/>
<use href="#d" x="499" y="936"/>
<use href="#d" x="501" y="1026"/>
<use href="#d" x="503" y="973"/>
<use href="#d" x="505" y="960"/>
<use href="#d" x="507" y="960"/>
<use href="#d" x="509" y="954"/>
<use href="#d" x="511" y="961"/>
<use href="#d" x="513" y="983"/>
<use href="#d" x="515" y="958"/>
<use href="#d" x="516" y="964"/>
<use href="#d" x="518" y="977"/>
<use href="#d" x="520" y="970"/>
<use href="#d" x="522" y="999"/>
<use href="#d" x="524" y="967"/>
<use href="#d" x="526" y="988"/>
<use href="#d" x="528" y="1008"/>
<use href="#d" x="530" y="940"/>
<use href="#d" x="532" y="1036"/>
<use href="#d" x="533" y="942"/>
<use href="#d" x="535" y="946"/>
<use href="#d" x="537" y="943"/>
<use href="#d" x="539" y="941"/>
<use href="#d" x="541" y="945"/>
<use href="#d" x="543" y="952"/>
<use href="#d" x="545" y="917"/>
<use href="#d" x="547" y="932"/>
<use href="#d" x="549" y="985"/>
<use href="#d" x="551" y="947"/>
<use href="#d" x="552" y="930"/>
<use href="#d" x="554" y="911"/>
<use href="#d" x="556" y="907"/>
<use href="#d" x="558" y="933"/>
<use href="#d" x="560" y="923"/>
<use href="#d" x="562" y="892"/>
<use href="#d" x="564" y="904"/>
<use href="#d" x="566" y="944"/>
<use href="#d" x="568" y="921"/>
<use href="#d" x="569" y="1033"/>
<use href="#d" x="571" y="962"/>
<use href="#d" x="573" y="956"/>
<use href="#d" x="575" y="976"/>
<use href="#d" x="577" y="976"/>
<use href="#d" x="579" y="930"/>
<use href="#d" x="581" y="958"/>
<use href="#d" x="583" y="952"/>
<use href="#d" x="585" y="962"/>
<use href="#d" x="587" y="984"/>
<use href="#d" x="588" y="960"/>
<use href="#d" x="590" y="977"/>
<use href="#d" x="592" y="975"/>
<use href="#d" x="594" y="975"/>
<use href="#d" x="596" y="939"/>
<path d="M113.30 787.96L113.78 785.36L114.26 782.76L114.74 780.17L115.23 777.58L115.71 775.00L116.19 772.43L116.68 769.87L117.16 767.32L117.64 764.79L118.13 762.28L118.61 759.80L119.09 757.34L119.58 754.92L120.06 752.53L120.54 750.17L121.03 747.85L121.51 745.56L121.99 743.32L122.48 741.11L122.96 738.94L123.44 736.81L123.93 734.71L124.41 732.66L124.89 730.64L125.38 728.67L125.86 726.73L126.34 724.83L126.83 722.96L127.31 721.13L127.79 719.34L128.27 717.58L128.76 715.86L129.24 714.17L129.72 712.52L130.21 710.89L130.69 709.29L131.17 707.72L131.66 706.18L132.14 704.67L132.62 703.18L133.11 701.71L133.59 700.27L134.07 698.85L134.56 697.45L135.04 696.08L135.52 694.72L136.01 693.39L136.49 692.08L136.97 690.80L137.46 689.53L137.94 688.29L138.42 687.07L138.91 685.88L139.39 684.71L139.87 683.56L140.36 682.44L140.84 681.35L141.32 680.28L141.81 679.25L142.29 678.24L142.77 677.27L143.25 676.32L143.74 675.42L144.22 674.54L144.70 673.71L145.19 672.91L145.67 672.15L146.15 671.43L146.64 670.76L147.12 670.13L147.60 669.55L148.09 669.01L148.57 668.53L149.05 668.10L149.54 667.73L150.02 667.41L150.50 667.15L150.99 666.95L151.47 666.81L151.95 666.73L152.44 666.70L152.92 666.74L153.40 666.83L153.89 666.98L154.37 667.19L154.85 667.45L155.34 667.76L155.82 668.12L156.30 668.53L156.79 668.99L157.27 669.49L157.75 670.03L158.23 670.62L158.72 671.24L159.20 671.91L159.68 672.62L160.17 673.36L160.65 674.13L161.13 674.94L161.62 675.78L162.10 676.65L162.58 677.54L163.07 678.45L163.55 679.38L164.03 680.33L164.52 681.29L165.00 682.26L165.48 683.24L165.97 684.23L166.45 685.22L166.93 686.21L167.42 687.19L167.90 688.17L168.38 689.14L168.87 690.10L169.35 691.04L169.83 691.97L170.32 692.88L170.80 693.77L171.28 694.64L171.77 695.49L172.25 696.32L172.73 697.13L173.21 697.92L173.70 698.68L174.18 699.43L174.66 700.15L175.15 700.85L175.63 701.53L176.11 702.20L176.60 702.84L177.08 703.47L177.56 704.08L178.05 704.67L178.53 705.25L179.01 705.81L179.50 706.37L179.98 706.92L180.46 707.46L180.95 708.00L181.43 708.53L181.91 709.07L182.40 709.61L182.88 710.15L183.36 710.71L183.85 711.27L184.33 711.84L184.81 712.42L185.30 713.02L185.78 713.64L186.26 714.28L186.75 714.93L187.23 715.61L187.71 716.32L188.19 717.05L188.68 717.81L189.16 718.60L189.64 719.42L190.13 720.28L190.61 721.16L191.09 722.08L191.58 723.04L192.06 724.03L192.54 725.05L193.03 726.10L193.51 727.19L193.99 728.31L194.48 729.46L194.96 730.63L195.44 731.83L195.93 733.06L196.41 734.31L196.89 735.58L197.38 736.87L197.86 738.18L198.34 739.50L198.83 740.84L199.31 742.18L199.79 743.54L200.28 744.90L200.76 746.27L201.24 747.64L201.73 749.01L202.21 750.37L202.69 751.74L203.17 753.10L203.66 754.45L204.14 755.78L204.62 757.11L205.11 758.42L205.59 759.72L206.07 761.00L206.56 762.26L207.04 763.50L207.52 764.72L208.01 765.92L208.49 767.10L208.97 768.25L209.46 769.38L209.94 770.49L210.42 771.57L210.91 772.62L211.39 773.66L211.87 774.67L212.36 775.65L212.84 776.61L213.32 777.55L213.81 778.47L214.29 779.36L214.77 780.23L215.26 781.08L215.74 781.91L216.22 782.71L216.71 783.49L217.19 784.25L217.67 784.99L218.15 785.70L218.64 786.38L219.12 787.04L219.60 787.68L220.09 788.29L220.57 788.88L221.05 789.43L221.54 789.97L222.02 790.47L222.50 790.95L222.99 791.40L223.47 791.82L223.95 792.22L224.44 792.59L224.92 792.94L225.40 793.25L225.89 793.55L226.37 793.81L226.85 794.05L227.34 794.27L227.82 794.47L228.30 794.64L228.79 794.79L229.27 794.93L229.75 795.04L230.24 795.14L230.72 795.22L231.20 795.29L231.69 795.35L232.17 795.39L232.65 795.43L233.13 795.45L233.62 795.48L234.10 795.49L234.58 795.51L235.07 795.52L235.55 795.53L236.03 795.53L236.52 795.54L237.00 795.55L237.48 795.56L237.97 795.57L238.45 795.58L238.93 795.60L239.42 795.62L239.90 795.63L240.38 795.66L240.87 795.69L241.35 795.72L241.83 795.76L242.32 795.81L242.80 795.87L243.28 795.93L243.77 796.01L244.25 796.11L244.73 796.21L245.22 796.34L245.70 796.48L246.18 796.64L246.67 796.83L247.15 797.04L247.63 797.27L248.11 797.54L248.60 797.85L249.08 798.19L249.56 798.57L250.05 798.99L250.53 799.46L251.01 799.97L251.50 800.53L251.98 801.15L252.46 801.81L252.95 802.53L253.43 803.29L253.91 804.11L254.40 804.99L254.88 805.91L255.36 806.89L255.85 807.91L256.33 808.99L256.81 810.11L257.30 811.28L257.78 812.50L258.26 813.76L258.75 815.05L259.23 816.39L259.71 817.76L260.20 819.16L260.68 820.58L261.16 822.04L261.65 823.51L262.13 825.00L262.61 826.51L263.09 828.02L263.58 829.55L264.06 831.08L264.54 832.61L265.03 834.15L265.51 835.68L265.99 837.21L266.48 838.73L266.96 840.24L267.44 841.74L267.93 843.22L268.41 844.68L268.89 846.13L269.38 847.55L269.86 848.96L270.34 850.35L270.83 851.72L271.31 853.06L271.79 854.38L272.28 855.68L272.76 856.95L273.24 858.19L273.73 859.40L274.21 860.59L274.69 861.75L275.18 862.88L275.66 863.99L276.14 865.07L276.63 866.12L277.11 867.14L277.59 868.14L278.07 869.12L278.56 870.08L279.04 871.02L279.52 871.94L280.01 872.85L280.49 873.75L280.97 874.63L281.46 875.49L281.94 876.36L282.42 877.21L282.91 878.06L283.39 878.91L283.87 879.75L284.36 880.59L284.84 881.44L285.32 882.29L285.81 883.14L286.29 884.00L286.77 884.86L287.26 885.74L287.74 886.63L288.22 887.52L288.71 888.43L289.19 889.35L289.67 890.29L290.16 891.24L290.64 892.20L291.12 893.17L291.61 894.16L292.09 895.16L292.57 896.18L293.05 897.21L293.54 898.26L294.02 899.31L294.50 900.39L294.99 901.47L295.47 902.57L295.95 903.68L296.44 904.81L296.92 905.94L297.40 907.09L297.89 908.24L298.37 909.40L298.85 910.57L299.34 911.74L299.82 912.92L300.30 914.10L300.79 915.28L301.27 916.45L301.75 917.62L302.24 918.79L302.72 919.94L303.20 921.07L303.69 922.19L304.17 923.29L304.65 924.37L305.14 925.43L305.62 926.47L306.10 927.48L306.59 928.47L307.07 929.42L307.55 930.34L308.03 931.23L308.52 932.07L309.00 932.88L309.48 933.65L309.97 934.37L310.45 935.05L310.93 935.69L311.42 936.28L311.90 936.82L312.38 937.31L312.87 937.75L313.35 938.13L313.83 938.46L314.32 938.74L314.80 938.95L315.28 939.11L315.77 939.22L316.25 939.28L316.73 939.29L317.22 939.25L317.70 939.16L318.18 939.03L318.67 938.85L319.15 938.63L319.63 938.37L320.12 938.07L320.60 937.73L321.08 937.36L321.56 936.95L322.05 936.51L322.53 936.04L323.01 935.54L323.50 935.00L323.98 934.44L324.46 933.85L324.95 933.24L325.43 932.60L325.91 931.94L326.40 931.27L326.88 930.58L327.36 929.87L327.85 929.15L328.33 928.42L328.81 927.68L329.30 926.93L329.78 926.18L330.26 925.42L330.75 924.66L331.23 923.90L331.71 923.15L332.20 922.42L332.68 921.69L333.16 920.98L333.65 920.29L334.13 919.62L334.61 918.97L335.10 918.34L335.58 917.74L336.06 917.17L336.54 916.62L337.03 916.10L337.51 915.61L337.99 915.15L338.48 914.73L338.96 914.33L339.44 913.96L339.93 913.63L340.41 913.33L340.89 913.06L341.38 912.83L341.86 912.64L342.34 912.48L342.83 912.36L343.31 912.28L343.79 912.24L344.28 912.24L344.76 912.29L345.24 912.37L345.73 912.49L346.21 912.66L346.69 912.86L347.18 913.10L347.66 913.38L348.14 913.69L348.63 914.04L349.11 914.43L349.59 914.85L350.08 915.30L350.56 915.79L351.04 916.30L351.52 916.85L352.01 917.42L352.49 918.03L352.97 918.66L353.46 919.32L353.94 920.00L354.42 920.70L354.91 921.43L355.39 922.18L355.87 922.94L356.36 923.73L356.84 924.53L357.32 925.34L357.81 926.17L358.29 927.02L358.77 927.87L359.26 928.74L359.74 929.61L360.22 930.49L360.71 931.38L361.19 932.27L361.67 933.17L362.16 934.07L362.64 934.97L363.12 935.86L363.61 936.75L364.09 937.63L364.57 938.51L365.06 939.37L365.54 940.22L366.02 941.06L366.50 941.88L366.99 942.69L367.47 943.49L367.95 944.26L368.44 945.02L368.92 945.76L369.40 946.47L369.89 947.17L370.37 947.84L370.85 948.49L371.34 949.11L371.82 949.71L372.30 950.28L372.79 950.82L373.27 951.34L373.75 951.83L374.24 952.29L374.72 952.73L375.20 953.14L375.69 953.53L376.17 953.89L376.65 954.23L377.14 954.54L377.62 954.84L378.10 955.11L378.59 955.37L379.07 955.60L379.55 955.82L380.04 956.02L380.52 956.21L381.00 956.39L381.48 956.55L381.97 956.71L382.45 956.85L382.93 957.00L383.42 957.13L383.90 957.27L384.38 957.42L384.87 957.56L385.35 957.72L385.83 957.88L386.32 958.05L386.80 958.23L387.28 958.42L387.77 958.62L388.25 958.84L388.73 959.07L389.22 959.31L389.70 959.56L390.18 959.82L390.67 960.08L391.15 960.35L391.63 960.62L392.12 960.89L392.60 961.17L393.08 961.45L393.57 961.72L394.05 962.00L394.53 962.28L395.02 962.55L395.50 962.83L395.98 963.10L396.46 963.38L396.95 963.64L397.43 963.91L397.91 964.17L398.40 964.42L398.88 964.67L399.36 964.91L399.85 965.15L400.33 965.38L400.81 965.61L401.30 965.83L401.78 966.05L402.26 966.26L402.75 966.46L403.23 966.65L403.71 966.84L404.20 967.02L404.68 967.19L405.16 967.36L405.65 967.52L406.13 967.68L406.61 967.84L407.10 968.00L407.58 968.15L408.06 968.30L408.55 968.45L409.03 968.59L409.51 968.73L410.00 968.87L410.48 969.00L410.96 969.12L411.44 969.24L411.93 969.35L412.41 969.46L412.89 969.57L413.38 969.67L413.86 969.77L414.34 969.86L414.83 969.95L415.31 970.03L415.79 970.11L416.28 970.18L416.76 970.25L417.24 970.31L417.73 970.37L418.21 970.43L418.69 970.47L419.18 970.52L419.66 970.55L420.14 970.58L420.63 970.60L421.11 970.61L421.59 970.62L422.08 970.62L422.56 970.61L423.04 970.59L423.53 970.57L424.01 970.53L424.49 970.50L424.98 970.45L425.46 970.40L425.94 970.35L426.42 970.30L426.91 970.23L427.39 970.17L427.87 970.10L428.36 970.03L428.84 969.96L429.32 969.89L429.81 969.81L430.29 969.74L430.77 969.68L431.26 969.61L431.74 969.55L432.22 969.50L432.71 969.45L433.19 969.41L433.67 969.38L434.16 969.35L434.64 969.33L435.12 969.32L435.61 969.31L436.09 969.31L436.57 969.32L437.06 969.34L437.54 969.36L438.02 969.40L438.51 969.44L438.99 969.50L439.47 969.56L439.96 969.63L440.44 969.71L440.92 969.80L441.40 969.90L441.89 970.00L442.37 970.11L442.85 970.23L443.34 970.35L443.82 970.48L444.30 970.60L444.79 970.74L445.27 970.87L445.75 971.00L446.24 971.13L446.72 971.26L447.20 971.39L447.69 971.53L448.17 971.66L448.65 971.79L449.14 971.92L449.62 972.06L450.10 972.20L450.59 972.33L451.07 972.47L451.55 972.61L452.04 972.75L452.52 972.89L453.00 973.02L453.49 973.16L453.97 973.29L454.45 973.42L454.94 973.55L455.42 973.67L455.90 973.79L456.38 973.90L456.87 974.00L457.35 974.10L457.83 974.18L458.32 974.27L458.80 974.34L459.28 974.41L459.77 974.47L460.25 974.51L460.73 974.55L461.22 974.58L461.70 974.59L462.18 974.59L462.67 974.57L463.15 974.54L463.63 974.50L464.12 974.44L464.60 974.37L465.08 974.28L465.57 974.18L466.05 974.07L466.53 973.94L467.02 973.80L467.50 973.65L467.98 973.49L468.47 973.32L468.95 973.13L469.43 972.94L469.92 972.73L470.40 972.51L470.88 972.28L471.36 972.04L471.85 971.80L472.33 971.55L472.81 971.29L473.30 971.03L473.78 970.77L474.26 970.51L474.75 970.24L475.23 969.97L475.71 969.70L476.20 969.42L476.68 969.14L477.16 968.86L477.65 968.57L478.13 968.28L478.61 967.99L479.10 967.70L479.58 967.41L480.06 967.12L480.55 966.84L481.03 966.56L481.51 966.29L482.00 966.02L482.48 965.77L482.96 965.52L483.45 965.29L483.93 965.07L484.41 964.86L484.90 964.66L485.38 964.47L485.86 964.29L486.34 964.13L486.83 963.98L487.31 963.85L487.79 963.74L488.28 963.65L488.76 963.57L489.24 963.51L489.73 963.48L490.21 963.46L490.69 963.45L491.18 963.47L491.66 963.50L492.14 963.54L492.63 963.61L493.11 963.69L493.59 963.78L494.08 963.89L494.56 964.00L495.04 964.14L495.53 964.28L496.01 964.43L496.49 964.59L496.98 964.77L497.46 964.95L497.94 965.14L498.43 965.33L498.91 965.54L499.39 965.74L499.88 965.96L500.36 966.18L500.84 966.40L501.32 966.62L501.81 966.84L502.29 967.05L502.77 967.27L503.26 967.48L503.74 967.69L504.22 967.90L504.71 968.11L505.19 968.32L505.67 968.52L506.16 968.73L506.64 968.94L507.12 969.14L507.61 969.35L508.09 969.56L508.57 969.77L509.06 969.98L509.54 970.18L510.02 970.39L510.51 970.60L510.99 970.80L511.47 971.01L511.96 971.21L512.44 971.40L512.92 971.59L513.41 971.78L513.89 971.95L514.37 972.12L514.85 972.29L515.34 972.44L515.82 972.58L516.30 972.72L516.79 972.84L517.27 972.95L517.75 973.04L518.24 973.12L518.72 973.19L519.20 973.23L519.69 973.26L520.17 973.27L520.65 973.25L521.14 973.21L521.62 973.15L522.10 973.07L522.59 972.95L523.07 972.81L523.55 972.64L524.04 972.45L524.52 972.22L525.00 971.96L525.49 971.68L525.97 971.36L526.45 971.01L526.94 970.63L527.42 970.22L527.90 969.78L528.39 969.31L528.87 968.80L529.35 968.27L529.83 967.71L530.32 967.12L530.80 966.50L531.28 965.86L531.77 965.19L532.25 964.49L532.73 963.78L533.22 963.04L533.70 962.28L534.18 961.51L534.67 960.73L535.15 959.93L535.63 959.13L536.12 958.32L536.60 957.51L537.08 956.69L537.57 955.87L538.05 955.06L538.53 954.24L539.02 953.43L539.50 952.63L539.98 951.83L540.47 951.03L540.95 950.25L541.43 949.48L541.92 948.71L542.40 947.96L542.88 947.22L543.37 946.49L543.85 945.78L544.33 945.08L544.81 944.40L545.30 943.74L545.78 943.09L546.26 942.46L546.75 941.85L547.23 941.26L547.71 940.69L548.20 940.13L548.68 939.60L549.16 939.08L549.65 938.59L550.13 938.11L550.61 937.65L551.10 937.22L551.58 936.81L552.06 936.43L552.55 936.08L553.03 935.75L553.51 935.46L554.00 935.20L554.48 934.98L554.96 934.79L555.45 934.64L555.93 934.53L556.41 934.45L556.90 934.42L557.38 934.43L557.86 934.48L558.35 934.57L558.83 934.69L559.31 934.86L559.79 935.08L560.28 935.33L560.76 935.62L561.24 935.95L561.73 936.32L562.21 936.72L562.69 937.17L563.18 937.65L563.66 938.17L564.14 938.72L564.63 939.30L565.11 939.91L565.59 940.55L566.08 941.21L566.56 941.88L567.04 942.57L567.53 943.28L568.01 943.99L568.49 944.71L568.98 945.44L569.46 946.16L569.94 946.88L570.43 947.59L570.91 948.29L571.39 948.98L571.88 949.66L572.36 950.33L572.84 950.98L573.33 951.63L573.81 952.26L574.29 952.87L574.77 953.47L575.26 954.06L575.74 954.63L576.22 955.18L576.71 955.73L577.19 956.25L577.67 956.77L578.16 957.27L578.64 957.76L579.12 958.23L579.61 958.70L580.09 959.16L580.57 959.61L581.06 960.05L581.54 960.48L582.02 960.90L582.51 961.31L582.99 961.72L583.47 962.11L583.96 962.50L584.44 962.87L584.92 963.24L585.41 963.60L585.89 963.95L586.37 964.29L586.86 964.62L587.34 964.94L587.82 965.24L588.31 965.54L588.79 965.83L589.27 966.10L589.75 966.37L590.24 966.63L590.72 966.88L591.20 967.12L591.69 967.35L592.17 967.57L592.65 967.79L593.14 968.00L593.62 968.20L594.10 968.40L594.59 968.59L595.07 968.78L595.55 968.96L596.04 969.15L596.52 969.33" fill="none" stroke="#000" stroke-width="3" stroke-linejoin="round" stroke-linecap="butt"/>
</g>
<rect x="89" y="547" width="1" height="519" fill="#333333"/>
<rect x="619" y="547" width="2" height="519" fill="#333333"/>
<rect x="89" y="547" width="532" height="1" fill="#333333"/>
<rect x="89" y="592" width="532" height="2" fill="#333333"/>
<rect x="89" y="1064" width="532" height="2" fill="#333333"/>
<rect x="90" y="548" width="529" height="44" fill="#D9D9D9"/>
<text transform="translate(353.50,579.8) scale(0.95,1)" x="0" y="0" text-anchor="middle" font-size="23.47" fill="#1A1A1A">$\lambda = 500$</text>
<rect x="636" y="964" width="530" height="1" fill="#EBEBEB"/>
<rect x="636" y="844" width="530" height="1" fill="#EBEBEB"/>
<rect x="636" y="725" width="530" height="1" fill="#EBEBEB"/>
<rect x="636" y="606" width="530" height="1" fill="#EBEBEB"/>
<rect x="752" y="594" width="1" height="470" fill="#EBEBEB"/>
<rect x="941" y="594" width="1" height="470" fill="#EBEBEB"/>
<rect x="1131" y="594" width="1" height="470" fill="#EBEBEB"/>
<rect x="636" y="1022" width="530" height="2" fill="#EBEBEB"/>
<rect x="636" y="903" width="530" height="2" fill="#EBEBEB"/>
<rect x="636" y="784" width="530" height="2" fill="#EBEBEB"/>
<rect x="636" y="664" width="530" height="2" fill="#EBEBEB"/>
<rect x="656" y="594" width="2" height="470" fill="#EBEBEB"/>
<rect x="846" y="594" width="2" height="470" fill="#EBEBEB"/>
<rect x="1035" y="594" width="2" height="470" fill="#EBEBEB"/>
<g clip-path="url(#cp4)">
<use href="#d" x="659" y="833"/>
<use href="#d" x="661" y="816"/>
<use href="#d" x="663" y="787"/>
<use href="#d" x="665" y="708"/>
<use href="#d" x="667" y="702"/>
<use href="#d" x="669" y="731"/>
<use href="#d" x="670" y="718"/>
<use href="#d" x="672" y="719"/>
<use href="#d" x="674" y="689"/>
<use href="#d" x="676" y="727"/>
<use href="#d" x="678" y="711"/>
<use href="#d" x="680" y="718"/>
<use href="#d" x="682" y="699"/>
<use href="#d" x="684" y="707"/>
<use href="#d" x="686" y="694"/>
<use href="#d" x="688" y="676"/>
<use href="#d" x="689" y="694"/>
<use href="#d" x="691" y="671"/>
<use href="#d" x="693" y="691"/>
<use href="#d" x="695" y="621"/>
<use href="#d" x="697" y="622"/>
<use href="#d" x="699" y="646"/>
<use href="#d" x="701" y="638"/>
<use href="#d" x="703" y="714"/>
<use href="#d" x="705" y="632"/>
<use href="#d" x="706" y="658"/>
<use href="#d" x="708" y="674"/>
<use href="#d" x="710" y="676"/>
<use href="#d" x="712" y="678"/>
<use href="#d" x="714" y="723"/>
<use href="#d" x="716" y="734"/>
<use href="#d" x="718" y="711"/>
<use href="#d" x="720" y="717"/>
<use href="#d" x="722" y="713"/>
<use href="#d" x="724" y="733"/>
<use href="#d" x="725" y="717"/>
<use href="#d" x="727" y="707"/>
<use href="#d" x="729" y="698"/>
<use href="#d" x="731" y="721"/>
<use href="#d" x="733" y="700"/>
<use href="#d" x="735" y="692"/>
<use href="#d" x="737" y="690"/>
<use href="#d" x="739" y="682"/>
<use href="#d" x="741" y="740"/>
<use href="#d" x="742" y="707"/>
<use href="#d" x="744" y="750"/>
<use href="#d" x="746" y="734"/>
<use href="#d" x="748" y="761"/>
<use href="#d" x="750" y="770"/>
<use href="#d" x="752" y="774"/>
<use href="#d" x="754" y="787"/>
<use href="#d" x="756" y="786"/>
<use href="#d" x="758" y="779"/>
<use href="#d" x="760" y="767"/>
<use href="#d" x="761" y="773"/>
<use href="#d" x="763" y="780"/>
<use href="#d" x="765" y="789"/>
<use href="#d" x="767" y="804"/>
<use href="#d" x="769" y="788"/>
<use href="#d" x="771" y="816"/>
<use href="#d" x="773" y="801"/>
<use href="#d" x="775" y="810"/>
<use href="#d" x="777" y="795"/>
<use href="#d" x="778" y="789"/>
<use href="#d" x="780" y="780"/>
<use href="#d" x="782" y="776"/>
<use href="#d" x="784" y="813"/>
<use href="#d" x="786" y="800"/>
<use href="#d" x="788" y="815"/>
<use href="#d" x="790" y="795"/>
<use href="#d" x="792" y="846"/>
<use href="#d" x="794" y="776"/>
<use href="#d" x="796" y="784"/>
<use href="#d" x="797" y="753"/>
<use href="#d" x="799" y="774"/>
<use href="#d" x="801" y="775"/>
<use href="#d" x="803" y="777"/>
<use href="#d" x="805" y="794"/>
<use href="#d" x="807" y="825"/>
<use href="#d" x="809" y="850"/>
<use href="#d" x="811" y="814"/>
<use href="#d" x="813" y="895"/>
<use href="#d" x="814" y="857"/>
<use href="#d" x="816" y="839"/>
<use href="#d" x="818" y="884"/>
<use href="#d" x="820" y="876"/>
<use href="#d" x="822" y="922"/>
<use href="#d" x="824" y="837"/>
<use href="#d" x="826" y="910"/>
<use href="#d" x="828" y="849"/>
<use href="#d" x="830" y="891"/>
<use href="#d" x="832" y="870"/>
<use href="#d" x="833" y="854"/>
<use href="#d" x="835" y="896"/>
<use href="#d" x="837" y="868"/>
<use href="#d" x="839" y="910"/>
<use href="#d" x="841" y="863"/>
<use href="#d" x="843" y="914"/>
<use href="#d" x="845" y="872"/>
<use href="#d" x="847" y="889"/>
<use href="#d" x="849" y="964"/>
<use href="#d" x="850" y="906"/>
<use href="#d" x="852" y="916"/>
<use href="#d" x="854" y="980"/>
<use href="#d" x="856" y="898"/>
<use href="#d" x="858" y="969"/>
<use href="#d" x="860" y="1026"/>
<use href="#d" x="862" y="917"/>
<use href="#d" x="864" y="969"/>
<use href="#d" x="866" y="906"/>
<use href="#d" x="868" y="946"/>
<use href="#d" x="869" y="958"/>
<use href="#d" x="871" y="916"/>
<use href="#d" x="873" y="933"/>
<use href="#d" x="875" y="977"/>
<use href="#d" x="877" y="908"/>
<use href="#d" x="879" y="880"/>
<use href="#d" x="881" y="912"/>
<use href="#d" x="883" y="877"/>
<use href="#d" x="885" y="947"/>
<use href="#d" x="886" y="908"/>
<use href="#d" x="888" y="893"/>
<use href="#d" x="890" y="888"/>
<use href="#d" x="892" y="891"/>
<use href="#d" x="894" y="922"/>
<use href="#d" x="896" y="910"/>
<use href="#d" x="898" y="903"/>
<use href="#d" x="900" y="923"/>
<use href="#d" x="902" y="927"/>
<use href="#d" x="904" y="919"/>
<use href="#d" x="905" y="929"/>
<use href="#d" x="907" y="900"/>
<use href="#d" x="909" y="976"/>
<use href="#d" x="911" y="927"/>
<use href="#d" x="913" y="968"/>
<use href="#d" x="915" y="924"/>
<use href="#d" x="917" y="986"/>
<use href="#d" x="919" y="963"/>
<use href="#d" x="921" y="967"/>
<use href="#d" x="923" y="970"/>
<use href="#d" x="924" y="952"/>
<use href="#d" x="926" y="982"/>
<use href="#d" x="928" y="970"/>
<use href="#d" x="930" y="930"/>
<use href="#d" x="932" y="926"/>
<use href="#d" x="934" y="898"/>
<use href="#d" x="936" y="958"/>
<use href="#d" x="938" y="995"/>
<use href="#d" x="940" y="956"/>
<use href="#d" x="941" y="951"/>
<use href="#d" x="943" y="991"/>
<use href="#d" x="945" y="958"/>
<use href="#d" x="947" y="954"/>
<use href="#d" x="949" y="1016"/>
<use href="#d" x="951" y="948"/>
<use href="#d" x="953" y="940"/>
<use href="#d" x="955" y="966"/>
<use href="#d" x="957" y="1003"/>
<use href="#d" x="959" y="941"/>
<use href="#d" x="960" y="978"/>
<use href="#d" x="962" y="965"/>
<use href="#d" x="964" y="965"/>
<use href="#d" x="966" y="971"/>
<use href="#d" x="968" y="1000"/>
<use href="#d" x="970" y="966"/>
<use href="#d" x="972" y="958"/>
<use href="#d" x="974" y="1007"/>
<use href="#d" x="976" y="956"/>
<use href="#d" x="977" y="947"/>
<use href="#d" x="979" y="968"/>
<use href="#d" x="981" y="979"/>
<use href="#d" x="983" y="952"/>
<use href="#d" x="985" y="964"/>
<use href="#d" x="987" y="945"/>
<use href="#d" x="989" y="977"/>
<use href="#d" x="991" y="981"/>
<use href="#d" x="993" y="1002"/>
<use href="#d" x="995" y="946"/>
<use href="#d" x="996" y="972"/>
<use href="#d" x="998" y="952"/>
<use href="#d" x="1000" y="980"/>
<use href="#d" x="1002" y="994"/>
<use href="#d" x="1004" y="948"/>
<use href="#d" x="1006" y="969"/>
<use href="#d" x="1008" y="1007"/>
<use href="#d" x="1010" y="976"/>
<use href="#d" x="1012" y="993"/>
<use href="#d" x="1013" y="942"/>
<use href="#d" x="1015" y="1016"/>
<use href="#d" x="1017" y="970"/>
<use href="#d" x="1019" y="942"/>
<use href="#d" x="1021" y="942"/>
<use href="#d" x="1023" y="1044"/>
<use href="#d" x="1025" y="946"/>
<use href="#d" x="1027" y="976"/>
<use href="#d" x="1029" y="920"/>
<use href="#d" x="1031" y="1012"/>
<use href="#d" x="1032" y="940"/>
<use href="#d" x="1034" y="929"/>
<use href="#d" x="1036" y="967"/>
<use href="#d" x="1038" y="946"/>
<use href="#d" x="1040" y="971"/>
<use href="#d" x="1042" y="963"/>
<use href="#d" x="1044" y="962"/>
<use href="#d" x="1046" y="936"/>
<use href="#d" x="1048" y="1026"/>
<use href="#d" x="1049" y="973"/>
<use href="#d" x="1051" y="960"/>
<use href="#d" x="1053" y="960"/>
<use href="#d" x="1055" y="954"/>
<use href="#d" x="1057" y="961"/>
<use href="#d" x="1059" y="983"/>
<use href="#d" x="1061" y="958"/>
<use href="#d" x="1063" y="964"/>
<use href="#d" x="1065" y="977"/>
<use href="#d" x="1067" y="970"/>
<use href="#d" x="1068" y="999"/>
<use href="#d" x="1070" y="967"/>
<use href="#d" x="1072" y="988"/>
<use href="#d" x="1074" y="1008"/>
<use href="#d" x="1076" y="940"/>
<use href="#d" x="1078" y="1036"/>
<use href="#d" x="1080" y="942"/>
<use href="#d" x="1082" y="946"/>
<use href="#d" x="1084" y="943"/>
<use href="#d" x="1085" y="941"/>
<use href="#d" x="1087" y="945"/>
<use href="#d" x="1089" y="952"/>
<use href="#d" x="1091" y="917"/>
<use href="#d" x="1093" y="932"/>
<use href="#d" x="1095" y="985"/>
<use href="#d" x="1097" y="947"/>
<use href="#d" x="1099" y="930"/>
<use href="#d" x="1101" y="911"/>
<use href="#d" x="1103" y="907"/>
<use href="#d" x="1104" y="933"/>
<use href="#d" x="1106" y="923"/>
<use href="#d" x="1108" y="892"/>
<use href="#d" x="1110" y="904"/>
<use href="#d" x="1112" y="944"/>
<use href="#d" x="1114" y="921"/>
<use href="#d" x="1116" y="1033"/>
<use href="#d" x="1118" y="962"/>
<use href="#d" x="1120" y="956"/>
<use href="#d" x="1121" y="976"/>
<use href="#d" x="1123" y="976"/>
<use href="#d" x="1125" y="930"/>
<use href="#d" x="1127" y="958"/>
<use href="#d" x="1129" y="952"/>
<use href="#d" x="1131" y="962"/>
<use href="#d" x="1133" y="984"/>
<use href="#d" x="1135" y="960"/>
<use href="#d" x="1137" y="977"/>
<use href="#d" x="1139" y="975"/>
<use href="#d" x="1140" y="975"/>
<use href="#d" x="1142" y="939"/>
<path d="M659.60 745.43L660.08 744.44L660.56 743.45L661.04 742.45L661.53 741.46L662.01 740.47L662.49 739.48L662.98 738.49L663.46 737.51L663.94 736.52L664.43 735.54L664.91 734.56L665.39 733.58L665.88 732.61L666.36 731.63L666.84 730.67L667.33 729.70L667.81 728.74L668.29 727.79L668.78 726.84L669.26 725.89L669.74 724.95L670.23 724.02L670.71 723.09L671.19 722.17L671.68 721.25L672.16 720.34L672.64 719.44L673.13 718.55L673.61 717.66L674.09 716.78L674.57 715.91L675.06 715.05L675.54 714.19L676.02 713.35L676.51 712.51L676.99 711.69L677.47 710.87L677.96 710.06L678.44 709.26L678.92 708.48L679.41 707.70L679.89 706.93L680.37 706.18L680.86 705.43L681.34 704.70L681.82 703.98L682.31 703.27L682.79 702.58L683.27 701.89L683.76 701.22L684.24 700.56L684.72 699.92L685.21 699.29L685.69 698.67L686.17 698.07L686.66 697.48L687.14 696.91L687.62 696.35L688.11 695.81L688.59 695.28L689.07 694.77L689.55 694.28L690.04 693.80L690.52 693.33L691.00 692.89L691.49 692.46L691.97 692.05L692.45 691.66L692.94 691.28L693.42 690.92L693.90 690.58L694.39 690.26L694.87 689.96L695.35 689.68L695.84 689.41L696.32 689.16L696.80 688.94L697.29 688.73L697.77 688.54L698.25 688.37L698.74 688.23L699.22 688.10L699.70 687.99L700.19 687.90L700.67 687.82L701.15 687.77L701.64 687.74L702.12 687.72L702.60 687.73L703.09 687.75L703.57 687.79L704.05 687.85L704.53 687.93L705.02 688.03L705.50 688.14L705.98 688.27L706.47 688.42L706.95 688.59L707.43 688.77L707.92 688.97L708.40 689.19L708.88 689.43L709.37 689.68L709.85 689.94L710.33 690.22L710.82 690.52L711.30 690.83L711.78 691.16L712.27 691.50L712.75 691.85L713.23 692.22L713.72 692.60L714.20 692.99L714.68 693.40L715.17 693.82L715.65 694.25L716.13 694.69L716.62 695.15L717.10 695.61L717.58 696.09L718.07 696.58L718.55 697.08L719.03 697.59L719.51 698.10L720.00 698.63L720.48 699.17L720.96 699.72L721.45 700.28L721.93 700.85L722.41 701.42L722.90 702.01L723.38 702.60L723.86 703.20L724.35 703.81L724.83 704.43L725.31 705.06L725.80 705.70L726.28 706.34L726.76 707.00L727.25 707.66L727.73 708.32L728.21 709.00L728.70 709.68L729.18 710.38L729.66 711.08L730.15 711.78L730.63 712.50L731.11 713.22L731.60 713.95L732.08 714.68L732.56 715.43L733.05 716.18L733.53 716.93L734.01 717.70L734.49 718.47L734.98 719.24L735.46 720.03L735.94 720.82L736.43 721.61L736.91 722.41L737.39 723.22L737.88 724.04L738.36 724.86L738.84 725.68L739.33 726.51L739.81 727.34L740.29 728.18L740.78 729.03L741.26 729.87L741.74 730.72L742.23 731.58L742.71 732.43L743.19 733.29L743.68 734.16L744.16 735.02L744.64 735.89L745.13 736.76L745.61 737.63L746.09 738.50L746.58 739.37L747.06 740.25L747.54 741.12L748.03 741.99L748.51 742.86L748.99 743.74L749.47 744.61L749.96 745.48L750.44 746.35L750.92 747.21L751.41 748.08L751.89 748.94L752.37 749.80L752.86 750.66L753.34 751.51L753.82 752.36L754.31 753.21L754.79 754.06L755.27 754.90L755.76 755.74L756.24 756.57L756.72 757.40L757.21 758.23L757.69 759.05L758.17 759.87L758.66 760.69L759.14 761.50L759.62 762.30L760.11 763.10L760.59 763.90L761.07 764.69L761.56 765.48L762.04 766.27L762.52 767.05L763.01 767.82L763.49 768.59L763.97 769.36L764.45 770.12L764.94 770.87L765.42 771.63L765.90 772.37L766.39 773.12L766.87 773.86L767.35 774.59L767.84 775.32L768.32 776.04L768.80 776.76L769.29 777.48L769.77 778.19L770.25 778.90L770.74 779.60L771.22 780.30L771.70 781.00L772.19 781.69L772.67 782.37L773.15 783.06L773.64 783.74L774.12 784.42L774.60 785.09L775.09 785.76L775.57 786.43L776.05 787.10L776.54 787.76L777.02 788.43L777.50 789.09L777.99 789.74L778.47 790.40L778.95 791.06L779.43 791.71L779.92 792.37L780.40 793.02L780.88 793.68L781.37 794.33L781.85 794.99L782.33 795.64L782.82 796.30L783.30 796.95L783.78 797.61L784.27 798.27L784.75 798.93L785.23 799.59L785.72 800.25L786.20 800.92L786.68 801.59L787.17 802.25L787.65 802.93L788.13 803.60L788.62 804.28L789.10 804.96L789.58 805.64L790.07 806.33L790.55 807.02L791.03 807.72L791.52 808.41L792.00 809.12L792.48 809.83L792.97 810.54L793.45 811.26L793.93 811.98L794.41 812.71L794.90 813.44L795.38 814.18L795.86 814.93L796.35 815.68L796.83 816.44L797.31 817.20L797.80 817.98L798.28 818.75L798.76 819.54L799.25 820.33L799.73 821.13L800.21 821.94L800.70 822.75L801.18 823.58L801.66 824.40L802.15 825.24L802.63 826.08L803.11 826.93L803.60 827.78L804.08 828.64L804.56 829.51L805.05 830.39L805.53 831.27L806.01 832.15L806.50 833.04L806.98 833.94L807.46 834.84L807.95 835.74L808.43 836.65L808.91 837.57L809.39 838.48L809.88 839.40L810.36 840.33L810.84 841.25L811.33 842.18L811.81 843.11L812.29 844.05L812.78 844.98L813.26 845.92L813.74 846.86L814.23 847.80L814.71 848.74L815.19 849.68L815.68 850.62L816.16 851.56L816.64 852.50L817.13 853.44L817.61 854.38L818.09 855.32L818.58 856.26L819.06 857.20L819.54 858.13L820.03 859.07L820.51 860.00L820.99 860.93L821.48 861.86L821.96 862.78L822.44 863.71L822.93 864.63L823.41 865.55L823.89 866.46L824.37 867.37L824.86 868.28L825.34 869.19L825.82 870.09L826.31 870.99L826.79 871.89L827.27 872.78L827.76 873.67L828.24 874.56L828.72 875.44L829.21 876.32L829.69 877.19L830.17 878.07L830.66 878.93L831.14 879.80L831.62 880.66L832.11 881.51L832.59 882.36L833.07 883.21L833.56 884.05L834.04 884.89L834.52 885.73L835.01 886.55L835.49 887.38L835.97 888.20L836.46 889.01L836.94 889.82L837.42 890.63L837.91 891.43L838.39 892.22L838.87 893.01L839.35 893.79L839.84 894.56L840.32 895.33L840.80 896.10L841.29 896.85L841.77 897.60L842.25 898.35L842.74 899.08L843.22 899.81L843.70 900.53L844.19 901.25L844.67 901.96L845.15 902.66L845.64 903.35L846.12 904.03L846.60 904.71L847.09 905.37L847.57 906.03L848.05 906.68L848.54 907.32L849.02 907.95L849.50 908.57L849.99 909.18L850.47 909.78L850.95 910.37L851.44 910.95L851.92 911.52L852.40 912.08L852.88 912.62L853.37 913.16L853.85 913.69L854.33 914.20L854.82 914.71L855.30 915.20L855.78 915.68L856.27 916.15L856.75 916.60L857.23 917.05L857.72 917.48L858.20 917.91L858.68 918.32L859.17 918.71L859.65 919.10L860.13 919.47L860.62 919.84L861.10 920.19L861.58 920.53L862.07 920.85L862.55 921.17L863.03 921.48L863.52 921.77L864.00 922.06L864.48 922.33L864.97 922.59L865.45 922.85L865.93 923.09L866.42 923.33L866.90 923.55L867.38 923.77L867.86 923.97L868.35 924.17L868.83 924.36L869.31 924.55L869.80 924.72L870.28 924.89L870.76 925.05L871.25 925.21L871.73 925.36L872.21 925.50L872.70 925.63L873.18 925.76L873.66 925.89L874.15 926.01L874.63 926.13L875.11 926.24L875.60 926.35L876.08 926.46L876.56 926.56L877.05 926.66L877.53 926.76L878.01 926.85L878.50 926.95L878.98 927.04L879.46 927.13L879.95 927.23L880.43 927.32L880.91 927.41L881.40 927.51L881.88 927.60L882.36 927.70L882.84 927.79L883.33 927.89L883.81 928.00L884.29 928.10L884.78 928.21L885.26 928.32L885.74 928.43L886.23 928.54L886.71 928.66L887.19 928.78L887.68 928.91L888.16 929.04L888.64 929.17L889.13 929.31L889.61 929.46L890.09 929.61L890.58 929.76L891.06 929.92L891.54 930.08L892.03 930.25L892.51 930.42L892.99 930.60L893.48 930.79L893.96 930.98L894.44 931.17L894.93 931.37L895.41 931.58L895.89 931.79L896.38 932.01L896.86 932.23L897.34 932.46L897.82 932.69L898.31 932.93L898.79 933.17L899.27 933.42L899.76 933.67L900.24 933.93L900.72 934.20L901.21 934.46L901.69 934.74L902.17 935.01L902.66 935.30L903.14 935.58L903.62 935.87L904.11 936.17L904.59 936.46L905.07 936.77L905.56 937.07L906.04 937.38L906.52 937.69L907.01 938.01L907.49 938.33L907.97 938.65L908.46 938.97L908.94 939.30L909.42 939.63L909.91 939.96L910.39 940.29L910.87 940.62L911.36 940.96L911.84 941.29L912.32 941.63L912.80 941.97L913.29 942.31L913.77 942.65L914.25 942.99L914.74 943.33L915.22 943.67L915.70 944.01L916.19 944.35L916.67 944.69L917.15 945.03L917.64 945.37L918.12 945.70L918.60 946.04L919.09 946.37L919.57 946.71L920.05 947.04L920.54 947.37L921.02 947.70L921.50 948.03L921.99 948.36L922.47 948.68L922.95 949.00L923.44 949.32L923.92 949.64L924.40 949.96L924.89 950.28L925.37 950.59L925.85 950.90L926.34 951.21L926.82 951.52L927.30 951.83L927.78 952.13L928.27 952.43L928.75 952.74L929.23 953.03L929.72 953.33L930.20 953.63L930.68 953.92L931.17 954.22L931.65 954.51L932.13 954.80L932.62 955.09L933.10 955.38L933.58 955.66L934.07 955.95L934.55 956.23L935.03 956.51L935.52 956.79L936.00 957.07L936.48 957.35L936.97 957.63L937.45 957.90L937.93 958.17L938.42 958.44L938.90 958.71L939.38 958.97L939.87 959.24L940.35 959.50L940.83 959.75L941.32 960.01L941.80 960.26L942.28 960.51L942.76 960.76L943.25 961.00L943.73 961.25L944.21 961.49L944.70 961.72L945.18 961.96L945.66 962.19L946.15 962.41L946.63 962.64L947.11 962.86L947.60 963.08L948.08 963.30L948.56 963.51L949.05 963.72L949.53 963.92L950.01 964.13L950.50 964.33L950.98 964.53L951.46 964.72L951.95 964.91L952.43 965.10L952.91 965.29L953.40 965.47L953.88 965.65L954.36 965.82L954.85 966.00L955.33 966.17L955.81 966.34L956.30 966.50L956.78 966.67L957.26 966.82L957.74 966.98L958.23 967.13L958.71 967.28L959.19 967.43L959.68 967.58L960.16 967.72L960.64 967.86L961.13 967.99L961.61 968.13L962.09 968.26L962.58 968.39L963.06 968.51L963.54 968.63L964.03 968.75L964.51 968.87L964.99 968.99L965.48 969.10L965.96 969.21L966.44 969.31L966.93 969.42L967.41 969.52L967.89 969.62L968.38 969.71L968.86 969.80L969.34 969.89L969.83 969.98L970.31 970.07L970.79 970.15L971.28 970.23L971.76 970.31L972.24 970.39L972.72 970.46L973.21 970.53L973.69 970.60L974.17 970.67L974.66 970.74L975.14 970.80L975.62 970.86L976.11 970.92L976.59 970.98L977.07 971.04L977.56 971.09L978.04 971.15L978.52 971.20L979.01 971.25L979.49 971.30L979.97 971.35L980.46 971.40L980.94 971.44L981.42 971.49L981.91 971.53L982.39 971.57L982.87 971.62L983.36 971.66L983.84 971.70L984.32 971.74L984.81 971.77L985.29 971.81L985.77 971.85L986.26 971.88L986.74 971.92L987.22 971.95L987.70 971.98L988.19 972.02L988.67 972.05L989.15 972.08L989.64 972.11L990.12 972.13L990.60 972.16L991.09 972.18L991.57 972.21L992.05 972.23L992.54 972.25L993.02 972.27L993.50 972.29L993.99 972.31L994.47 972.33L994.95 972.34L995.44 972.36L995.92 972.37L996.40 972.38L996.89 972.39L997.37 972.40L997.85 972.41L998.34 972.41L998.82 972.42L999.30 972.42L999.79 972.42L1000.27 972.42L1000.75 972.42L1001.24 972.42L1001.72 972.42L1002.20 972.41L1002.68 972.41L1003.17 972.40L1003.65 972.39L1004.13 972.38L1004.62 972.36L1005.10 972.35L1005.58 972.33L1006.07 972.31L1006.55 972.29L1007.03 972.27L1007.52 972.25L1008.00 972.22L1008.48 972.19L1008.97 972.17L1009.45 972.13L1009.93 972.10L1010.42 972.07L1010.90 972.03L1011.38 971.99L1011.87 971.95L1012.35 971.91L1012.83 971.86L1013.32 971.82L1013.80 971.77L1014.28 971.72L1014.77 971.67L1015.25 971.61L1015.73 971.56L1016.22 971.51L1016.70 971.45L1017.18 971.39L1017.66 971.33L1018.15 971.27L1018.63 971.21L1019.11 971.14L1019.60 971.08L1020.08 971.02L1020.56 970.95L1021.05 970.88L1021.53 970.82L1022.01 970.75L1022.50 970.68L1022.98 970.61L1023.46 970.54L1023.95 970.47L1024.43 970.40L1024.91 970.33L1025.40 970.25L1025.88 970.18L1026.36 970.11L1026.85 970.04L1027.33 969.96L1027.81 969.89L1028.30 969.82L1028.78 969.74L1029.26 969.67L1029.75 969.60L1030.23 969.53L1030.71 969.45L1031.20 969.38L1031.68 969.31L1032.16 969.24L1032.64 969.17L1033.13 969.10L1033.61 969.03L1034.09 968.96L1034.58 968.89L1035.06 968.82L1035.54 968.76L1036.03 968.69L1036.51 968.62L1036.99 968.56L1037.48 968.49L1037.96 968.43L1038.44 968.36L1038.93 968.30L1039.41 968.24L1039.89 968.17L1040.38 968.11L1040.86 968.05L1041.34 967.98L1041.83 967.92L1042.31 967.86L1042.79 967.79L1043.28 967.73L1043.76 967.66L1044.24 967.60L1044.73 967.53L1045.21 967.46L1045.69 967.40L1046.18 967.33L1046.66 967.26L1047.14 967.19L1047.62 967.12L1048.11 967.04L1048.59 966.97L1049.07 966.89L1049.56 966.82L1050.04 966.74L1050.52 966.66L1051.01 966.57L1051.49 966.49L1051.97 966.40L1052.46 966.32L1052.94 966.23L1053.42 966.13L1053.91 966.04L1054.39 965.94L1054.87 965.85L1055.36 965.75L1055.84 965.65L1056.32 965.54L1056.81 965.43L1057.29 965.33L1057.77 965.22L1058.26 965.10L1058.74 964.99L1059.22 964.87L1059.71 964.75L1060.19 964.62L1060.67 964.49L1061.15 964.36L1061.64 964.23L1062.12 964.10L1062.60 963.96L1063.09 963.82L1063.57 963.67L1064.05 963.52L1064.54 963.37L1065.02 963.22L1065.50 963.06L1065.99 962.90L1066.47 962.73L1066.95 962.57L1067.44 962.40L1067.92 962.22L1068.40 962.04L1068.89 961.86L1069.37 961.67L1069.85 961.49L1070.34 961.29L1070.82 961.10L1071.30 960.90L1071.79 960.70L1072.27 960.49L1072.75 960.28L1073.24 960.07L1073.72 959.86L1074.20 959.64L1074.69 959.42L1075.17 959.20L1075.65 958.97L1076.13 958.74L1076.62 958.51L1077.10 958.28L1077.58 958.05L1078.07 957.81L1078.55 957.57L1079.03 957.34L1079.52 957.10L1080.00 956.86L1080.48 956.62L1080.97 956.38L1081.45 956.13L1081.93 955.89L1082.42 955.66L1082.90 955.42L1083.38 955.18L1083.87 954.94L1084.35 954.71L1084.83 954.48L1085.32 954.24L1085.80 954.02L1086.28 953.79L1086.77 953.57L1087.25 953.35L1087.73 953.13L1088.22 952.92L1088.70 952.71L1089.18 952.50L1089.67 952.30L1090.15 952.10L1090.63 951.90L1091.11 951.71L1091.60 951.53L1092.08 951.35L1092.56 951.17L1093.05 951.00L1093.53 950.84L1094.01 950.68L1094.50 950.53L1094.98 950.38L1095.46 950.24L1095.95 950.10L1096.43 949.97L1096.91 949.85L1097.40 949.73L1097.88 949.62L1098.36 949.51L1098.85 949.42L1099.33 949.33L1099.81 949.24L1100.30 949.17L1100.78 949.10L1101.26 949.04L1101.75 948.98L1102.23 948.94L1102.71 948.90L1103.20 948.87L1103.68 948.85L1104.16 948.83L1104.65 948.83L1105.13 948.83L1105.61 948.84L1106.09 948.86L1106.58 948.88L1107.06 948.91L1107.54 948.96L1108.03 949.00L1108.51 949.06L1108.99 949.12L1109.48 949.19L1109.96 949.27L1110.44 949.36L1110.93 949.45L1111.41 949.55L1111.89 949.66L1112.38 949.77L1112.86 949.89L1113.34 950.01L1113.83 950.14L1114.31 950.27L1114.79 950.41L1115.28 950.56L1115.76 950.71L1116.24 950.86L1116.73 951.02L1117.21 951.18L1117.69 951.34L1118.18 951.51L1118.66 951.68L1119.14 951.86L1119.63 952.03L1120.11 952.21L1120.59 952.39L1121.07 952.58L1121.56 952.77L1122.04 952.96L1122.52 953.15L1123.01 953.34L1123.49 953.54L1123.97 953.74L1124.46 953.94L1124.94 954.14L1125.42 954.34L1125.91 954.55L1126.39 954.75L1126.87 954.96L1127.36 955.17L1127.84 955.38L1128.32 955.59L1128.81 955.80L1129.29 956.02L1129.77 956.23L1130.26 956.45L1130.74 956.66L1131.22 956.88L1131.71 957.10L1132.19 957.32L1132.67 957.54L1133.16 957.75L1133.64 957.97L1134.12 958.19L1134.61 958.41L1135.09 958.63L1135.57 958.85L1136.05 959.07L1136.54 959.29L1137.02 959.51L1137.50 959.73L1137.99 959.95L1138.47 960.16L1138.95 960.38L1139.44 960.60L1139.92 960.82L1140.40 961.04L1140.89 961.25L1141.37 961.47L1141.85 961.69L1142.34 961.91L1142.82 962.12" fill="none" stroke="#000" stroke-width="3" stroke-linejoin="round" stroke-linecap="butt"/>
</g>
<rect x="635" y="547" width="1" height="519" fill="#333333"/>
<rect x="1166" y="547" width="2" height="519" fill="#333333"/>
<rect x="635" y="547" width="533" height="1" fill="#333333"/>
<rect x="635" y="592" width="533" height="2" fill="#333333"/>
<rect x="635" y="1064" width="533" height="2" fill="#333333"/>
<rect x="636" y="548" width="530" height="44" fill="#D9D9D9"/>
<text transform="translate(900.95,579.8) scale(0.955,1)" x="0" y="0" text-anchor="middle" font-size="23.47" fill="#1A1A1A">$\lambda = 10000$</text>
<rect x="1182" y="964" width="530" height="1" fill="#EBEBEB"/>
<rect x="1182" y="844" width="530" height="1" fill="#EBEBEB"/>
<rect x="1182" y="725" width="530" height="1" fill="#EBEBEB"/>
<rect x="1182" y="606" width="530" height="1" fill="#EBEBEB"/>
<rect x="1298" y="594" width="1" height="470" fill="#EBEBEB"/>
<rect x="1488" y="594" width="1" height="470" fill="#EBEBEB"/>
<rect x="1677" y="594" width="1" height="470" fill="#EBEBEB"/>
<rect x="1182" y="1022" width="530" height="2" fill="#EBEBEB"/>
<rect x="1182" y="903" width="530" height="2" fill="#EBEBEB"/>
<rect x="1182" y="784" width="530" height="2" fill="#EBEBEB"/>
<rect x="1182" y="664" width="530" height="2" fill="#EBEBEB"/>
<rect x="1202" y="594" width="2" height="470" fill="#EBEBEB"/>
<rect x="1392" y="594" width="2" height="470" fill="#EBEBEB"/>
<rect x="1582" y="594" width="2" height="470" fill="#EBEBEB"/>
<g clip-path="url(#cp5)">
<use href="#d" x="1205" y="833"/>
<use href="#d" x="1207" y="816"/>
<use href="#d" x="1209" y="787"/>
<use href="#d" x="1211" y="708"/>
<use href="#d" x="1213" y="702"/>
<use href="#d" x="1215" y="731"/>
<use href="#d" x="1217" y="718"/>
<use href="#d" x="1219" y="719"/>
<use href="#d" x="1221" y="689"/>
<use href="#d" x="1222" y="727"/>
<use href="#d" x="1224" y="711"/>
<use href="#d" x="1226" y="718"/>
<use href="#d" x="1228" y="699"/>
<use href="#d" x="1230" y="707"/>
<use href="#d" x="1232" y="694"/>
<use href="#d" x="1234" y="676"/>
<use href="#d" x="1236" y="694"/>
<use href="#d" x="1238" y="671"/>
<use href="#d" x="1240" y="691"/>
<use href="#d" x="1241" y="621"/>
<use href="#d" x="1243" y="622"/>
<use href="#d" x="1245" y="646"/>
<use href="#d" x="1247" y="638"/>
<use href="#d" x="1249" y="714"/>
<use href="#d" x="1251" y="632"/>
<use href="#d" x="1253" y="658"/>
<use href="#d" x="1255" y="674"/>
<use href="#d" x="1257" y="676"/>
<use href="#d" x="1258" y="678"/>
<use href="#d" x="1260" y="723"/>
<use href="#d" x="1262" y="734"/>
<use href="#d" x="1264" y="711"/>
<use href="#d" x="1266" y="717"/>
<use href="#d" x="1268" y="713"/>
<use href="#d" x="1270" y="733"/>
<use href="#d" x="1272" y="717"/>
<use href="#d" x="1274" y="707"/>
<use href="#d" x="1276" y="698"/>
<use href="#d" x="1277" y="721"/>
<use href="#d" x="1279" y="700"/>
<use href="#d" x="1281" y="692"/>
<use href="#d" x="1283" y="690"/>
<use href="#d" x="1285" y="682"/>
<use href="#d" x="1287" y="740"/>
<use href="#d" x="1289" y="707"/>
<use href="#d" x="1291" y="750"/>
<use href="#d" x="1293" y="734"/>
<use href="#d" x="1294" y="761"/>
<use href="#d" x="1296" y="770"/>
<use href="#d" x="1298" y="774"/>
<use href="#d" x="1300" y="787"/>
<use href="#d" x="1302" y="786"/>
<use href="#d" x="1304" y="779"/>
<use href="#d" x="1306" y="767"/>
<use href="#d" x="1308" y="773"/>
<use href="#d" x="1310" y="780"/>
<use href="#d" x="1312" y="789"/>
<use href="#d" x="1313" y="804"/>
<use href="#d" x="1315" y="788"/>
<use href="#d" x="1317" y="816"/>
<use href="#d" x="1319" y="801"/>
<use href="#d" x="1321" y="810"/>
<use href="#d" x="1323" y="795"/>
<use href="#d" x="1325" y="789"/>
<use href="#d" x="1327" y="780"/>
<use href="#d" x="1329" y="776"/>
<use href="#d" x="1330" y="813"/>
<use href="#d" x="1332" y="800"/>
<use href="#d" x="1334" y="815"/>
<use href="#d" x="1336" y="795"/>
<use href="#d" x="1338" y="846"/>
<use href="#d" x="1340" y="776"/>
<use href="#d" x="1342" y="784"/>
<use href="#d" x="1344" y="753"/>
<use href="#d" x="1346" y="774"/>
<use href="#d" x="1348" y="775"/>
<use href="#d" x="1349" y="777"/>
<use href="#d" x="1351" y="794"/>
<use href="#d" x="1353" y="825"/>
<use href="#d" x="1355" y="850"/>
<use href="#d" x="1357" y="814"/>
<use href="#d" x="1359" y="895"/>
<use href="#d" x="1361" y="857"/>
<use href="#d" x="1363" y="839"/>
<use href="#d" x="1365" y="884"/>
<use href="#d" x="1366" y="876"/>
<use href="#d" x="1368" y="922"/>
<use href="#d" x="1370" y="837"/>
<use href="#d" x="1372" y="910"/>
<use href="#d" x="1374" y="849"/>
<use href="#d" x="1376" y="891"/>
<use href="#d" x="1378" y="870"/>
<use href="#d" x="1380" y="854"/>
<use href="#d" x="1382" y="896"/>
<use href="#d" x="1384" y="868"/>
<use href="#d" x="1385" y="910"/>
<use href="#d" x="1387" y="863"/>
<use href="#d" x="1389" y="914"/>
<use href="#d" x="1391" y="872"/>
<use href="#d" x="1393" y="889"/>
<use href="#d" x="1395" y="964"/>
<use href="#d" x="1397" y="906"/>
<use href="#d" x="1399" y="916"/>
<use href="#d" x="1401" y="980"/>
<use href="#d" x="1402" y="898"/>
<use href="#d" x="1404" y="969"/>
<use href="#d" x="1406" y="1026"/>
<use href="#d" x="1408" y="917"/>
<use href="#d" x="1410" y="969"/>
<use href="#d" x="1412" y="906"/>
<use href="#d" x="1414" y="946"/>
<use href="#d" x="1416" y="958"/>
<use href="#d" x="1418" y="916"/>
<use href="#d" x="1420" y="933"/>
<use href="#d" x="1421" y="977"/>
<use href="#d" x="1423" y="908"/>
<use href="#d" x="1425" y="880"/>
<use href="#d" x="1427" y="912"/>
<use href="#d" x="1429" y="877"/>
<use href="#d" x="1431" y="947"/>
<use href="#d" x="1433" y="908"/>
<use href="#d" x="1435" y="893"/>
<use href="#d" x="1437" y="888"/>
<use href="#d" x="1439" y="891"/>
<use href="#d" x="1440" y="922"/>
<use href="#d" x="1442" y="910"/>
<use href="#d" x="1444" y="903"/>
<use href="#d" x="1446" y="923"/>
<use href="#d" x="1448" y="927"/>
<use href="#d" x="1450" y="919"/>
<use href="#d" x="1452" y="929"/>
<use href="#d" x="1454" y="900"/>
<use href="#d" x="1456" y="976"/>
<use href="#d" x="1457" y="927"/>
<use href="#d" x="1459" y="968"/>
<use href="#d" x="1461" y="924"/>
<use href="#d" x="1463" y="986"/>
<use href="#d" x="1465" y="963"/>
<use href="#d" x="1467" y="967"/>
<use href="#d" x="1469" y="970"/>
<use href="#d" x="1471" y="952"/>
<use href="#d" x="1473" y="982"/>
<use href="#d" x="1475" y="970"/>
<use href="#d" x="1476" y="930"/>
<use href="#d" x="1478" y="926"/>
<use href="#d" x="1480" y="898"/>
<use href="#d" x="1482" y="958"/>
<use href="#d" x="1484" y="995"/>
<use href="#d" x="1486" y="956"/>
<use href="#d" x="1488" y="951"/>
<use href="#d" x="1490" y="991"/>
<use href="#d" x="1492" y="958"/>
<use href="#d" x="1493" y="954"/>
<use href="#d" x="1495" y="1016"/>
<use href="#d" x="1497" y="948"/>
<use href="#d" x="1499" y="940"/>
<use href="#d" x="1501" y="966"/>
<use href="#d" x="1503" y="1003"/>
<use href="#d" x="1505" y="941"/>
<use href="#d" x="1507" y="978"/>
<use href="#d" x="1509" y="965"/>
<use href="#d" x="1511" y="965"/>
<use href="#d" x="1512" y="971"/>
<use href="#d" x="1514" y="1000"/>
<use href="#d" x="1516" y="966"/>
<use href="#d" x="1518" y="958"/>
<use href="#d" x="1520" y="1007"/>
<use href="#d" x="1522" y="956"/>
<use href="#d" x="1524" y="947"/>
<use href="#d" x="1526" y="968"/>
<use href="#d" x="1528" y="979"/>
<use href="#d" x="1529" y="952"/>
<use href="#d" x="1531" y="964"/>
<use href="#d" x="1533" y="945"/>
<use href="#d" x="1535" y="977"/>
<use href="#d" x="1537" y="981"/>
<use href="#d" x="1539" y="1002"/>
<use href="#d" x="1541" y="946"/>
<use href="#d" x="1543" y="972"/>
<use href="#d" x="1545" y="952"/>
<use href="#d" x="1547" y="980"/>
<use href="#d" x="1548" y="994"/>
<use href="#d" x="1550" y="948"/>
<use href="#d" x="1552" y="969"/>
<use href="#d" x="1554" y="1007"/>
<use href="#d" x="1556" y="976"/>
<use href="#d" x="1558" y="993"/>
<use href="#d" x="1560" y="942"/>
<use href="#d" x="1562" y="1016"/>
<use href="#d" x="1564" y="970"/>
<use href="#d" x="1565" y="942"/>
<use href="#d" x="1567" y="942"/>
<use href="#d" x="1569" y="1044"/>
<use href="#d" x="1571" y="946"/>
<use href="#d" x="1573" y="976"/>
<use href="#d" x="1575" y="920"/>
<use href="#d" x="1577" y="1012"/>
<use href="#d" x="1579" y="940"/>
<use href="#d" x="1581" y="929"/>
<use href="#d" x="1583" y="967"/>
<use href="#d" x="1584" y="946"/>
<use href="#d" x="1586" y="971"/>
<use href="#d" x="1588" y="963"/>
<use href="#d" x="1590" y="962"/>
<use href="#d" x="1592" y="936"/>
<use href="#d" x="1594" y="1026"/>
<use href="#d" x="1596" y="973"/>
<use href="#d" x="1598" y="960"/>
<use href="#d" x="1600" y="960"/>
<use href="#d" x="1601" y="954"/>
<use href="#d" x="1603" y="961"/>
<use href="#d" x="1605" y="983"/>
<use href="#d" x="1607" y="958"/>
<use href="#d" x="1609" y="964"/>
<use href="#d" x="1611" y="977"/>
<use href="#d" x="1613" y="970"/>
<use href="#d" x="1615" y="999"/>
<use href="#d" x="1617" y="967"/>
<use href="#d" x="1619" y="988"/>
<use href="#d" x="1620" y="1008"/>
<use href="#d" x="1622" y="940"/>
<use href="#d" x="1624" y="1036"/>
<use href="#d" x="1626" y="942"/>
<use href="#d" x="1628" y="946"/>
<use href="#d" x="1630" y="943"/>
<use href="#d" x="1632" y="941"/>
<use href="#d" x="1634" y="945"/>
<use href="#d" x="1636" y="952"/>
<use href="#d" x="1637" y="917"/>
<use href="#d" x="1639" y="932"/>
<use href="#d" x="1641" y="985"/>
<use href="#d" x="1643" y="947"/>
<use href="#d" x="1645" y="930"/>
<use href="#d" x="1647" y="911"/>
<use href="#d" x="1649" y="907"/>
<use href="#d" x="1651" y="933"/>
<use href="#d" x="1653" y="923"/>
<use href="#d" x="1655" y="892"/>
<use href="#d" x="1656" y="904"/>
<use href="#d" x="1658" y="944"/>
<use href="#d" x="1660" y="921"/>
<use href="#d" x="1662" y="1033"/>
<use href="#d" x="1664" y="962"/>
<use href="#d" x="1666" y="956"/>
<use href="#d" x="1668" y="976"/>
<use href="#d" x="1670" y="976"/>
<use href="#d" x="1672" y="930"/>
<use href="#d" x="1673" y="958"/>
<use href="#d" x="1675" y="952"/>
<use href="#d" x="1677" y="962"/>
<use href="#d" x="1679" y="984"/>
<use href="#d" x="1681" y="960"/>
<use href="#d" x="1683" y="977"/>
<use href="#d" x="1685" y="975"/>
<use href="#d" x="1687" y="975"/>
<use href="#d" x="1689" y="939"/>
<path d="M1205.91 672.20L1206.40 672.66L1206.88 673.12L1207.36 673.58L1207.85 674.04L1208.33 674.50L1208.81 674.96L1209.30 675.42L1209.78 675.88L1210.26 676.34L1210.75 676.80L1211.23 677.26L1211.71 677.72L1212.20 678.18L1212.68 678.65L1213.16 679.11L1213.65 679.57L1214.13 680.03L1214.61 680.49L1215.10 680.95L1215.58 681.41L1216.06 681.87L1216.55 682.33L1217.03 682.79L1217.51 683.26L1218.00 683.72L1218.48 684.18L1218.96 684.64L1219.45 685.10L1219.93 685.57L1220.41 686.03L1220.89 686.49L1221.38 686.96L1221.86 687.42L1222.34 687.88L1222.83 688.35L1223.31 688.81L1223.79 689.28L1224.28 689.74L1224.76 690.21L1225.24 690.67L1225.73 691.14L1226.21 691.60L1226.69 692.07L1227.18 692.54L1227.66 693.00L1228.14 693.47L1228.63 693.94L1229.11 694.41L1229.59 694.87L1230.08 695.34L1230.56 695.81L1231.04 696.28L1231.53 696.75L1232.01 697.22L1232.49 697.69L1232.98 698.17L1233.46 698.64L1233.94 699.11L1234.43 699.58L1234.91 700.06L1235.39 700.53L1235.87 701.01L1236.36 701.48L1236.84 701.96L1237.32 702.43L1237.81 702.91L1238.29 703.39L1238.77 703.87L1239.26 704.35L1239.74 704.83L1240.22 705.31L1240.71 705.79L1241.19 706.27L1241.67 706.75L1242.16 707.23L1242.64 707.72L1243.12 708.20L1243.61 708.69L1244.09 709.17L1244.57 709.66L1245.06 710.15L1245.54 710.63L1246.02 711.12L1246.51 711.61L1246.99 712.10L1247.47 712.59L1247.96 713.09L1248.44 713.58L1248.92 714.07L1249.41 714.57L1249.89 715.06L1250.37 715.56L1250.85 716.05L1251.34 716.55L1251.82 717.05L1252.30 717.55L1252.79 718.05L1253.27 718.55L1253.75 719.05L1254.24 719.55L1254.72 720.06L1255.20 720.56L1255.69 721.06L1256.17 721.57L1256.65 722.08L1257.14 722.58L1257.62 723.09L1258.10 723.60L1258.59 724.11L1259.07 724.62L1259.55 725.14L1260.04 725.65L1260.52 726.16L1261.00 726.68L1261.49 727.19L1261.97 727.71L1262.45 728.22L1262.94 728.74L1263.42 729.26L1263.90 729.78L1264.39 730.30L1264.87 730.82L1265.35 731.34L1265.83 731.87L1266.32 732.39L1266.80 732.92L1267.28 733.44L1267.77 733.97L1268.25 734.49L1268.73 735.02L1269.22 735.55L1269.70 736.08L1270.18 736.61L1270.67 737.14L1271.15 737.68L1271.63 738.21L1272.12 738.74L1272.60 739.28L1273.08 739.81L1273.57 740.35L1274.05 740.89L1274.53 741.43L1275.02 741.97L1275.50 742.51L1275.98 743.05L1276.47 743.59L1276.95 744.13L1277.43 744.68L1277.92 745.22L1278.40 745.77L1278.88 746.31L1279.37 746.86L1279.85 747.41L1280.33 747.96L1280.81 748.50L1281.30 749.05L1281.78 749.61L1282.26 750.16L1282.75 750.71L1283.23 751.26L1283.71 751.82L1284.20 752.37L1284.68 752.93L1285.16 753.49L1285.65 754.04L1286.13 754.60L1286.61 755.16L1287.10 755.72L1287.58 756.28L1288.06 756.84L1288.55 757.40L1289.03 757.97L1289.51 758.53L1290.00 759.10L1290.48 759.66L1290.96 760.23L1291.45 760.79L1291.93 761.36L1292.41 761.93L1292.90 762.50L1293.38 763.06L1293.86 763.63L1294.35 764.20L1294.83 764.78L1295.31 765.35L1295.79 765.92L1296.28 766.49L1296.76 767.07L1297.24 767.64L1297.73 768.22L1298.21 768.79L1298.69 769.37L1299.18 769.94L1299.66 770.52L1300.14 771.10L1300.63 771.68L1301.11 772.25L1301.59 772.83L1302.08 773.41L1302.56 773.99L1303.04 774.57L1303.53 775.16L1304.01 775.74L1304.49 776.32L1304.98 776.90L1305.46 777.49L1305.94 778.07L1306.43 778.65L1306.91 779.24L1307.39 779.82L1307.88 780.41L1308.36 780.99L1308.84 781.58L1309.33 782.17L1309.81 782.75L1310.29 783.34L1310.77 783.93L1311.26 784.52L1311.74 785.11L1312.22 785.70L1312.71 786.28L1313.19 786.87L1313.67 787.46L1314.16 788.05L1314.64 788.65L1315.12 789.24L1315.61 789.83L1316.09 790.42L1316.57 791.01L1317.06 791.60L1317.54 792.20L1318.02 792.79L1318.51 793.38L1318.99 793.97L1319.47 794.57L1319.96 795.16L1320.44 795.75L1320.92 796.35L1321.41 796.94L1321.89 797.54L1322.37 798.13L1322.86 798.73L1323.34 799.32L1323.82 799.92L1324.31 800.51L1324.79 801.11L1325.27 801.70L1325.75 802.30L1326.24 802.90L1326.72 803.49L1327.20 804.09L1327.69 804.68L1328.17 805.28L1328.65 805.88L1329.14 806.47L1329.62 807.07L1330.10 807.67L1330.59 808.26L1331.07 808.86L1331.55 809.46L1332.04 810.06L1332.52 810.65L1333.00 811.25L1333.49 811.85L1333.97 812.44L1334.45 813.04L1334.94 813.64L1335.42 814.24L1335.90 814.83L1336.39 815.43L1336.87 816.03L1337.35 816.63L1337.84 817.22L1338.32 817.82L1338.80 818.42L1339.29 819.01L1339.77 819.61L1340.25 820.21L1340.73 820.80L1341.22 821.40L1341.70 822.00L1342.18 822.59L1342.67 823.19L1343.15 823.78L1343.63 824.38L1344.12 824.98L1344.60 825.57L1345.08 826.17L1345.57 826.76L1346.05 827.36L1346.53 827.95L1347.02 828.55L1347.50 829.14L1347.98 829.73L1348.47 830.33L1348.95 830.92L1349.43 831.52L1349.92 832.11L1350.40 832.70L1350.88 833.29L1351.37 833.88L1351.85 834.48L1352.33 835.07L1352.82 835.66L1353.30 836.25L1353.78 836.84L1354.27 837.43L1354.75 838.02L1355.23 838.61L1355.71 839.19L1356.20 839.78L1356.68 840.37L1357.16 840.96L1357.65 841.54L1358.13 842.13L1358.61 842.71L1359.10 843.30L1359.58 843.88L1360.06 844.47L1360.55 845.05L1361.03 845.63L1361.51 846.21L1362.00 846.79L1362.48 847.37L1362.96 847.95L1363.45 848.53L1363.93 849.11L1364.41 849.69L1364.90 850.27L1365.38 850.84L1365.86 851.42L1366.35 851.99L1366.83 852.57L1367.31 853.14L1367.80 853.71L1368.28 854.28L1368.76 854.85L1369.25 855.42L1369.73 855.99L1370.21 856.56L1370.69 857.13L1371.18 857.69L1371.66 858.26L1372.14 858.82L1372.63 859.39L1373.11 859.95L1373.59 860.51L1374.08 861.07L1374.56 861.63L1375.04 862.19L1375.53 862.75L1376.01 863.31L1376.49 863.86L1376.98 864.42L1377.46 864.97L1377.94 865.52L1378.43 866.07L1378.91 866.63L1379.39 867.17L1379.88 867.72L1380.36 868.27L1380.84 868.82L1381.33 869.36L1381.81 869.91L1382.29 870.45L1382.78 870.99L1383.26 871.53L1383.74 872.07L1384.23 872.61L1384.71 873.15L1385.19 873.68L1385.67 874.22L1386.16 874.75L1386.64 875.28L1387.12 875.81L1387.61 876.34L1388.09 876.87L1388.57 877.40L1389.06 877.92L1389.54 878.45L1390.02 878.97L1390.51 879.49L1390.99 880.01L1391.47 880.53L1391.96 881.05L1392.44 881.57L1392.92 882.08L1393.41 882.60L1393.89 883.11L1394.37 883.62L1394.86 884.13L1395.34 884.64L1395.82 885.15L1396.31 885.65L1396.79 886.16L1397.27 886.66L1397.76 887.16L1398.24 887.66L1398.72 888.16L1399.20 888.65L1399.69 889.15L1400.17 889.64L1400.65 890.14L1401.14 890.63L1401.62 891.12L1402.10 891.60L1402.59 892.09L1403.07 892.58L1403.55 893.06L1404.04 893.54L1404.52 894.02L1405.00 894.50L1405.49 894.98L1405.97 895.45L1406.45 895.92L1406.94 896.40L1407.42 896.87L1407.90 897.34L1408.39 897.80L1408.87 898.27L1409.35 898.74L1409.84 899.20L1410.32 899.66L1410.80 900.12L1411.29 900.58L1411.77 901.03L1412.25 901.49L1412.74 901.94L1413.22 902.39L1413.70 902.84L1414.18 903.29L1414.67 903.74L1415.15 904.18L1415.63 904.63L1416.12 905.07L1416.60 905.51L1417.08 905.95L1417.57 906.39L1418.05 906.82L1418.53 907.26L1419.02 907.69L1419.50 908.12L1419.98 908.55L1420.47 908.98L1420.95 909.40L1421.43 909.83L1421.92 910.25L1422.40 910.67L1422.88 911.09L1423.37 911.51L1423.85 911.93L1424.33 912.34L1424.82 912.76L1425.30 913.17L1425.78 913.58L1426.27 913.99L1426.75 914.39L1427.23 914.80L1427.72 915.20L1428.20 915.61L1428.68 916.01L1429.16 916.41L1429.65 916.80L1430.13 917.20L1430.61 917.60L1431.10 917.99L1431.58 918.38L1432.06 918.77L1432.55 919.16L1433.03 919.55L1433.51 919.93L1434.00 920.32L1434.48 920.70L1434.96 921.08L1435.45 921.46L1435.93 921.84L1436.41 922.21L1436.90 922.59L1437.38 922.96L1437.86 923.33L1438.35 923.70L1438.83 924.07L1439.31 924.44L1439.80 924.80L1440.28 925.17L1440.76 925.53L1441.25 925.89L1441.73 926.25L1442.21 926.61L1442.70 926.97L1443.18 927.32L1443.66 927.67L1444.14 928.03L1444.63 928.38L1445.11 928.72L1445.59 929.07L1446.08 929.42L1446.56 929.76L1447.04 930.10L1447.53 930.44L1448.01 930.78L1448.49 931.12L1448.98 931.46L1449.46 931.79L1449.94 932.13L1450.43 932.46L1450.91 932.79L1451.39 933.12L1451.88 933.44L1452.36 933.77L1452.84 934.09L1453.33 934.42L1453.81 934.74L1454.29 935.06L1454.78 935.37L1455.26 935.69L1455.74 936.01L1456.23 936.32L1456.71 936.63L1457.19 936.94L1457.68 937.25L1458.16 937.56L1458.64 937.86L1459.12 938.17L1459.61 938.47L1460.09 938.77L1460.57 939.07L1461.06 939.36L1461.54 939.66L1462.02 939.95L1462.51 940.25L1462.99 940.54L1463.47 940.83L1463.96 941.12L1464.44 941.40L1464.92 941.69L1465.41 941.97L1465.89 942.25L1466.37 942.53L1466.86 942.81L1467.34 943.09L1467.82 943.36L1468.31 943.64L1468.79 943.91L1469.27 944.18L1469.76 944.45L1470.24 944.72L1470.72 944.98L1471.21 945.25L1471.69 945.51L1472.17 945.77L1472.66 946.03L1473.14 946.29L1473.62 946.54L1474.10 946.80L1474.59 947.05L1475.07 947.30L1475.55 947.55L1476.04 947.80L1476.52 948.05L1477.00 948.30L1477.49 948.54L1477.97 948.78L1478.45 949.02L1478.94 949.26L1479.42 949.50L1479.90 949.74L1480.39 949.97L1480.87 950.20L1481.35 950.44L1481.84 950.67L1482.32 950.89L1482.80 951.12L1483.29 951.35L1483.77 951.57L1484.25 951.79L1484.74 952.01L1485.22 952.23L1485.70 952.45L1486.19 952.66L1486.67 952.88L1487.15 953.09L1487.64 953.30L1488.12 953.51L1488.60 953.72L1489.08 953.93L1489.57 954.13L1490.05 954.34L1490.53 954.54L1491.02 954.74L1491.50 954.94L1491.98 955.14L1492.47 955.33L1492.95 955.53L1493.43 955.72L1493.92 955.91L1494.40 956.10L1494.88 956.29L1495.37 956.48L1495.85 956.66L1496.33 956.85L1496.82 957.03L1497.30 957.21L1497.78 957.39L1498.27 957.57L1498.75 957.74L1499.23 957.92L1499.72 958.09L1500.20 958.27L1500.68 958.44L1501.17 958.60L1501.65 958.77L1502.13 958.94L1502.62 959.10L1503.10 959.27L1503.58 959.43L1504.06 959.59L1504.55 959.75L1505.03 959.90L1505.51 960.06L1506.00 960.21L1506.48 960.37L1506.96 960.52L1507.45 960.67L1507.93 960.82L1508.41 960.96L1508.90 961.11L1509.38 961.25L1509.86 961.40L1510.35 961.54L1510.83 961.68L1511.31 961.82L1511.80 961.96L1512.28 962.09L1512.76 962.23L1513.25 962.36L1513.73 962.49L1514.21 962.62L1514.70 962.75L1515.18 962.88L1515.66 963.00L1516.15 963.13L1516.63 963.25L1517.11 963.37L1517.60 963.49L1518.08 963.61L1518.56 963.73L1519.04 963.85L1519.53 963.96L1520.01 964.08L1520.49 964.19L1520.98 964.30L1521.46 964.41L1521.94 964.52L1522.43 964.62L1522.91 964.73L1523.39 964.83L1523.88 964.94L1524.36 965.04L1524.84 965.14L1525.33 965.24L1525.81 965.34L1526.29 965.43L1526.78 965.53L1527.26 965.62L1527.74 965.72L1528.23 965.81L1528.71 965.90L1529.19 965.99L1529.68 966.07L1530.16 966.16L1530.64 966.25L1531.13 966.33L1531.61 966.41L1532.09 966.49L1532.58 966.58L1533.06 966.65L1533.54 966.73L1534.02 966.81L1534.51 966.88L1534.99 966.96L1535.47 967.03L1535.96 967.10L1536.44 967.17L1536.92 967.24L1537.41 967.31L1537.89 967.38L1538.37 967.45L1538.86 967.51L1539.34 967.57L1539.82 967.64L1540.31 967.70L1540.79 967.76L1541.27 967.82L1541.76 967.87L1542.24 967.93L1542.72 967.99L1543.21 968.04L1543.69 968.10L1544.17 968.15L1544.66 968.20L1545.14 968.25L1545.62 968.30L1546.11 968.35L1546.59 968.39L1547.07 968.44L1547.56 968.48L1548.04 968.53L1548.52 968.57L1549.00 968.61L1549.49 968.65L1549.97 968.69L1550.45 968.73L1550.94 968.76L1551.42 968.80L1551.90 968.84L1552.39 968.87L1552.87 968.90L1553.35 968.93L1553.84 968.97L1554.32 969.00L1554.80 969.02L1555.29 969.05L1555.77 969.08L1556.25 969.10L1556.74 969.13L1557.22 969.15L1557.70 969.18L1558.19 969.20L1558.67 969.22L1559.15 969.24L1559.64 969.26L1560.12 969.28L1560.60 969.29L1561.09 969.31L1561.57 969.33L1562.05 969.34L1562.54 969.35L1563.02 969.37L1563.50 969.38L1563.98 969.39L1564.47 969.40L1564.95 969.41L1565.43 969.42L1565.92 969.42L1566.40 969.43L1566.88 969.43L1567.37 969.44L1567.85 969.44L1568.33 969.45L1568.82 969.45L1569.30 969.45L1569.78 969.45L1570.27 969.45L1570.75 969.45L1571.23 969.45L1571.72 969.44L1572.20 969.44L1572.68 969.44L1573.17 969.43L1573.65 969.42L1574.13 969.42L1574.62 969.41L1575.10 969.40L1575.58 969.39L1576.07 969.38L1576.55 969.37L1577.03 969.36L1577.52 969.35L1578.00 969.34L1578.48 969.32L1578.96 969.31L1579.45 969.29L1579.93 969.28L1580.41 969.26L1580.90 969.25L1581.38 969.23L1581.86 969.21L1582.35 969.19L1582.83 969.17L1583.31 969.15L1583.80 969.13L1584.28 969.11L1584.76 969.09L1585.25 969.06L1585.73 969.04L1586.21 969.02L1586.70 968.99L1587.18 968.97L1587.66 968.94L1588.15 968.91L1588.63 968.89L1589.11 968.86L1589.60 968.83L1590.08 968.80L1590.56 968.77L1591.05 968.74L1591.53 968.71L1592.01 968.68L1592.49 968.65L1592.98 968.62L1593.46 968.58L1593.94 968.55L1594.43 968.52L1594.91 968.48L1595.39 968.45L1595.88 968.41L1596.36 968.38L1596.84 968.34L1597.33 968.30L1597.81 968.26L1598.29 968.23L1598.78 968.19L1599.26 968.15L1599.74 968.11L1600.23 968.07L1600.71 968.03L1601.19 967.99L1601.68 967.94L1602.16 967.90L1602.64 967.86L1603.13 967.82L1603.61 967.77L1604.09 967.73L1604.58 967.68L1605.06 967.64L1605.54 967.59L1606.03 967.55L1606.51 967.50L1606.99 967.46L1607.47 967.41L1607.96 967.36L1608.44 967.31L1608.92 967.27L1609.41 967.22L1609.89 967.17L1610.37 967.12L1610.86 967.07L1611.34 967.02L1611.82 966.97L1612.31 966.92L1612.79 966.87L1613.27 966.82L1613.76 966.76L1614.24 966.71L1614.72 966.66L1615.21 966.61L1615.69 966.55L1616.17 966.50L1616.66 966.44L1617.14 966.39L1617.62 966.34L1618.11 966.28L1618.59 966.23L1619.07 966.17L1619.56 966.11L1620.04 966.06L1620.52 966.00L1621.01 965.95L1621.49 965.89L1621.97 965.83L1622.45 965.77L1622.94 965.72L1623.42 965.66L1623.90 965.60L1624.39 965.54L1624.87 965.48L1625.35 965.42L1625.84 965.37L1626.32 965.31L1626.80 965.25L1627.29 965.19L1627.77 965.13L1628.25 965.07L1628.74 965.01L1629.22 964.95L1629.70 964.89L1630.19 964.83L1630.67 964.77L1631.15 964.70L1631.64 964.64L1632.12 964.58L1632.60 964.52L1633.09 964.46L1633.57 964.40L1634.05 964.34L1634.54 964.28L1635.02 964.21L1635.50 964.15L1635.99 964.09L1636.47 964.03L1636.95 963.97L1637.43 963.90L1637.92 963.84L1638.40 963.78L1638.88 963.72L1639.37 963.65L1639.85 963.59L1640.33 963.53L1640.82 963.47L1641.30 963.41L1641.78 963.34L1642.27 963.28L1642.75 963.22L1643.23 963.16L1643.72 963.09L1644.20 963.03L1644.68 962.97L1645.17 962.91L1645.65 962.84L1646.13 962.78L1646.62 962.72L1647.10 962.66L1647.58 962.59L1648.07 962.53L1648.55 962.47L1649.03 962.41L1649.52 962.35L1650.00 962.28L1650.48 962.22L1650.97 962.16L1651.45 962.10L1651.93 962.04L1652.41 961.97L1652.90 961.91L1653.38 961.85L1653.86 961.79L1654.35 961.73L1654.83 961.67L1655.31 961.60L1655.80 961.54L1656.28 961.48L1656.76 961.42L1657.25 961.36L1657.73 961.30L1658.21 961.24L1658.70 961.17L1659.18 961.11L1659.66 961.05L1660.15 960.99L1660.63 960.93L1661.11 960.87L1661.60 960.81L1662.08 960.75L1662.56 960.69L1663.05 960.63L1663.53 960.57L1664.01 960.51L1664.50 960.45L1664.98 960.39L1665.46 960.32L1665.95 960.26L1666.43 960.20L1666.91 960.14L1667.39 960.08L1667.88 960.02L1668.36 959.96L1668.84 959.90L1669.33 959.84L1669.81 959.78L1670.29 959.72L1670.78 959.66L1671.26 959.60L1671.74 959.54L1672.23 959.48L1672.71 959.42L1673.19 959.36L1673.68 959.30L1674.16 959.24L1674.64 959.18L1675.13 959.12L1675.61 959.06L1676.09 959.00L1676.58 958.94L1677.06 958.88L1677.54 958.82L1678.03 958.76L1678.51 958.70L1678.99 958.64L1679.48 958.58L1679.96 958.52L1680.44 958.46L1680.93 958.40L1681.41 958.34L1681.89 958.28L1682.37 958.22L1682.86 958.16L1683.34 958.10L1683.82 958.04L1684.31 957.98L1684.79 957.92L1685.27 957.86L1685.76 957.80L1686.24 957.74L1686.72 957.68L1687.21 957.62L1687.69 957.56L1688.17 957.50L1688.66 957.44L1689.14 957.38" fill="none" stroke="#000" stroke-width="3" stroke-linejoin="round" stroke-linecap="butt"/>
</g>
<rect x="1181" y="547" width="1" height="519" fill="#333333"/>
<rect x="1712" y="547" width="2" height="519" fill="#333333"/>
<rect x="1181" y="547" width="533" height="1" fill="#333333"/>
<rect x="1181" y="592" width="533" height="2" fill="#333333"/>
<rect x="1181" y="1064" width="533" height="2" fill="#333333"/>
<rect x="1182" y="548" width="530" height="44" fill="#D9D9D9"/>
<text transform="translate(1446.85,579.8) scale(0.963,1)" x="0" y="0" text-anchor="middle" font-size="23.47" fill="#1A1A1A">$\lambda = 1000000$</text>
<rect x="110" y="1066" width="2" height="7" fill="#333333"/>
<text x="111.0" y="1098" text-anchor="middle" font-size="23.47" fill="#4D4D4D">0</text>
<rect x="299" y="1066" width="2" height="7" fill="#333333"/>
<text x="300.0" y="1098" text-anchor="middle" font-size="23.47" fill="#4D4D4D">100</text>
<rect x="489" y="1066" width="2" height="7" fill="#333333"/>
<text x="490.0" y="1098" text-anchor="middle" font-size="23.47" fill="#4D4D4D">200</text>
<rect x="656" y="1066" width="2" height="7" fill="#333333"/>
<text x="657.0" y="1098" text-anchor="middle" font-size="23.47" fill="#4D4D4D">0</text>
<rect x="846" y="1066" width="2" height="7" fill="#333333"/>
<text x="847.0" y="1098" text-anchor="middle" font-size="23.47" fill="#4D4D4D">100</text>
<rect x="1035" y="1066" width="2" height="7" fill="#333333"/>
<text x="1036.0" y="1098" text-anchor="middle" font-size="23.47" fill="#4D4D4D">200</text>
<rect x="1202" y="1066" width="2" height="7" fill="#333333"/>
<text x="1203.0" y="1098" text-anchor="middle" font-size="23.47" fill="#4D4D4D">0</text>
<rect x="1392" y="1066" width="2" height="7" fill="#333333"/>
<text x="1393.0" y="1098" text-anchor="middle" font-size="23.47" fill="#4D4D4D">100</text>
<rect x="1582" y="1066" width="2" height="7" fill="#333333"/>
<text x="1583.0" y="1098" text-anchor="middle" font-size="23.47" fill="#4D4D4D">200</text>
<rect x="81" y="489" width="8" height="2" fill="#333333"/>
<text x="75" y="500.3" text-anchor="end" font-size="23.47" fill="#4D4D4D">5</text>
<rect x="81" y="370" width="8" height="2" fill="#333333"/>
<text x="75" y="381.3" text-anchor="end" font-size="23.47" fill="#4D4D4D">10</text>
<rect x="81" y="251" width="8" height="2" fill="#333333"/>
<text x="75" y="262.3" text-anchor="end" font-size="23.47" fill="#4D4D4D">15</text>
<rect x="81" y="131" width="8" height="2" fill="#333333"/>
<text x="75" y="142.3" text-anchor="end" font-size="23.47" fill="#4D4D4D">20</text>
<rect x="81" y="1022" width="8" height="2" fill="#333333"/>
<text x="75" y="1033.3" text-anchor="end" font-size="23.47" fill="#4D4D4D">5</text>
<rect x="81" y="903" width="8" height="2" fill="#333333"/>
<text x="75" y="914.3" text-anchor="end" font-size="23.47" fill="#4D4D4D">10</text>
<rect x="81" y="784" width="8" height="2" fill="#333333"/>
<text x="75" y="795.3" text-anchor="end" font-size="23.47" fill="#4D4D4D">15</text>
<rect x="81" y="664" width="8" height="2" fill="#333333"/>
<text x="75" y="675.3" text-anchor="end" font-size="23.47" fill="#4D4D4D">20</text>
<text transform="translate(901.5,1132) scale(0.978,1)" x="0" y="0" text-anchor="middle" font-size="29.33" fill="#000">Frekvence</text>
<text transform="translate(37.5,562) rotate(-90) scale(0.986,1)" x="0" y="0" text-anchor="middle" font-size="29.33" fill="#000">Log-periodogram</text>
</svg></body></html>
